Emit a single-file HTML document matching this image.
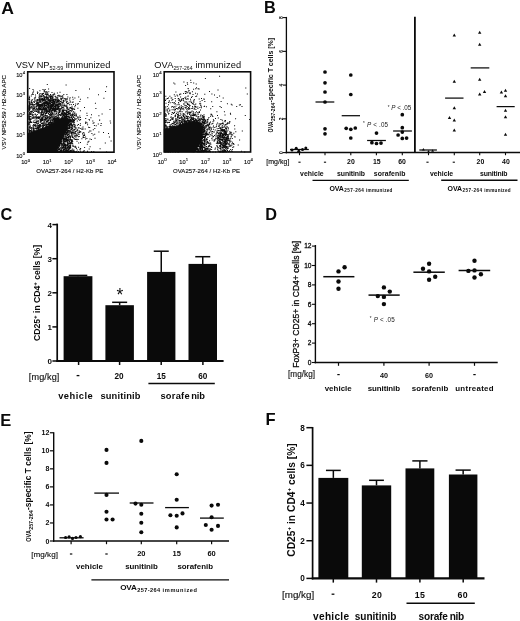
<!DOCTYPE html>
<html><head><meta charset="utf-8"><title>Figure</title>
<style>
html,body{margin:0;padding:0;background:#fff;}
body{width:520px;height:621px;overflow:hidden;font-family:"Liberation Sans",sans-serif;}
svg{display:block;filter:blur(0.35px);}
svg text{font-family:"Liberation Sans",sans-serif;}
.th{stroke:#0a0a0a;stroke-width:.12px;}
.th2{stroke:#141414;stroke-width:.15px;}
.th3{stroke:#0a0a0a;stroke-width:.28px;}
</style></head><body>
<svg width="520" height="621" viewBox="0 0 520 621">
<rect width="520" height="621" fill="#fff"/>
<text x="1.2" y="14.1" font-size="16.5" text-anchor="start" font-weight="bold" fill="#0a0a0a" textLength="12.7" lengthAdjust="spacingAndGlyphs">A</text>
<text x="264.0" y="12.5" font-size="16.3" text-anchor="start" font-weight="bold" fill="#0a0a0a" >B</text>
<text x="0.4" y="220.1" font-size="16.3" text-anchor="start" font-weight="bold" fill="#0a0a0a" >C</text>
<text x="265.3" y="219.5" font-size="16.3" text-anchor="start" font-weight="bold" fill="#0a0a0a" >D</text>
<text x="0.2" y="426" font-size="16.5" text-anchor="start" font-weight="bold" fill="#0a0a0a" >E</text>
<text x="265.6" y="425.4" font-size="16.5" text-anchor="start" font-weight="bold" fill="#0a0a0a" >F</text>
<defs><filter id="bl" x="-5%" y="-5%" width="110%" height="110%"><feGaussianBlur stdDeviation="0.35"/></filter></defs>
<g filter="url(#bl)"><path d="M27.7 133.5L29.8 132.5L31.0 132.4L31.2 131.2L33.0 131.8L33.6 130.2L35.4 131.3L37.6 129.7L38.5 129.7L39.7 129.2L41.6 128.6L42.4 128.6L43.6 128.1L45.9 127.8L46.0 127.2L48.2 127.1L49.3 125.8L50.0 125.5L51.0 124.0L53.0 123.0L54.1 122.2L54.4 122.2L55.2 121.5L56.4 120.4L58.4 119.5L58.3 118.7L61.1 118.8L62.2 117.8L62.7 117.8L64.4 116.8L66.2 118.4L67.8 118.4L67.2 119.7L68.2 122.2L67.8 123.5L67.1 124.8L67.8 126.1L67.0 127.7L66.4 128.1L65.7 130.3L66.0 132.0L64.9 131.7L65.1 133.4L63.9 135.1L63.8 136.3L62.7 136.6L61.7 139.1L61.6 140.5L61.6 141.0L60.5 142.1L60.9 142.5L59.5 144.7L58.4 146.6L58.1 147.3L57.9 148.2L57.8 149.3L56.9 151.2L57.0 152.2L55.7 152.2L54.4 152.2L53.0 152.2L51.7 152.2L50.4 152.2L49.0 152.2L47.7 152.2L46.4 152.2L45.0 152.2L43.7 152.2L42.4 152.2L41.0 152.2L39.7 152.2L38.4 152.2L37.0 152.2L35.7 152.2L34.4 152.2L33.0 152.2L31.7 152.2L30.4 152.2L29.0 152.2L27.7 152.2L27.7 150.9L27.7 149.5L27.7 148.2L27.7 146.9L27.7 145.5L27.7 144.2L27.7 142.9L27.7 141.5L27.7 140.2L27.7 138.8L27.7 137.5L27.7 136.2L27.7 134.8Z" fill="#0a0a0a" stroke="#0a0a0a" stroke-width="0.6" stroke-linejoin="round"/><path d="M40.8 132.5h1v1h-1zM41.2 138.6h1v1h-1zM32.8 141.4h1v1h-1zM57.1 126.4h1v1h-1zM56.2 128.1h1v1h-1zM48.6 131.8h1v1h-1zM28.9 136.9h1v1h-1zM49.9 128.8h1v1h-1zM28.2 150.6h1v1h-1zM33.3 143.1h1v1h-1zM47.5 133.9h1v1h-1zM50.1 137.4h1v1h-1zM47.5 130.6h1v1h-1zM36.0 125.4h1v1h-1zM50.5 123.3h1v1h-1zM36.5 143.8h1v1h-1zM39.8 137.6h1v1h-1zM51.4 130.1h1v1h-1zM38.6 144.6h1v1h-1zM37.7 128.5h1v1h-1zM34.3 137.3h1v1h-1zM48.9 144.2h1v1h-1zM44.5 125.0h1v1h-1zM28.3 147.6h1v1h-1zM42.6 141.8h1v1h-1zM49.8 133.1h1v1h-1zM28.4 136.1h1v1h-1zM51.8 124.6h1v1h-1zM61.0 125.2h1v1h-1zM45.3 144.3h1v1h-1zM51.2 136.7h1v1h-1zM38.5 146.9h1v1h-1zM32.4 143.9h1v1h-1zM59.2 144.1h1v1h-1zM28.5 140.6h1v1h-1zM61.0 123.6h1v1h-1zM28.6 151.2h1v1h-1zM48.1 138.9h1v1h-1zM30.6 133.3h1v1h-1zM57.0 128.4h1v1h-1zM46.8 130.6h1v1h-1zM62.8 122.5h1v1h-1zM50.0 128.4h1v1h-1zM29.3 133.2h1v1h-1zM55.2 126.4h1v1h-1zM28.3 149.7h1v1h-1zM53.9 144.6h1v1h-1zM41.7 128.3h1v1h-1zM28.3 129.5h1v1h-1zM50.4 133.5h1v1h-1zM47.7 128.6h1v1h-1zM45.3 125.9h1v1h-1zM36.0 141.5h1v1h-1zM56.2 129.7h1v1h-1zM33.4 132.3h1v1h-1zM61.3 131.2h1v1h-1zM28.9 143.0h1v1h-1zM42.1 138.1h1v1h-1zM60.6 135.9h1v1h-1zM58.8 138.4h1v1h-1zM34.5 134.3h1v1h-1zM57.3 123.0h1v1h-1zM48.0 132.3h1v1h-1zM45.7 130.0h1v1h-1zM41.8 133.9h1v1h-1zM50.7 132.3h1v1h-1zM52.9 127.0h1v1h-1zM67.7 122.7h1v1h-1zM38.8 140.1h1v1h-1zM43.7 128.2h1v1h-1zM39.9 133.9h1v1h-1zM65.7 145.3h1v1h-1zM30.5 138.9h1v1h-1zM48.6 131.3h1v1h-1zM38.8 132.3h1v1h-1zM47.2 137.7h1v1h-1zM72.7 120.3h1v1h-1zM37.3 138.6h1v1h-1zM41.2 136.7h1v1h-1zM28.9 151.5h1v1h-1zM55.8 138.9h1v1h-1zM43.1 128.2h1v1h-1zM54.0 119.6h1v1h-1zM28.6 146.2h1v1h-1zM39.8 132.1h1v1h-1zM56.8 149.9h1v1h-1zM56.8 140.6h1v1h-1zM52.0 143.0h1v1h-1zM46.0 125.2h1v1h-1zM42.1 134.4h1v1h-1zM53.3 130.1h1v1h-1zM42.8 124.0h1v1h-1zM56.3 132.1h1v1h-1zM76.5 130.1h1v1h-1zM54.7 132.6h1v1h-1zM45.5 129.1h1v1h-1zM46.5 129.2h1v1h-1zM28.7 150.7h1v1h-1zM51.2 139.3h1v1h-1zM31.7 151.3h1v1h-1zM58.9 123.2h1v1h-1zM61.4 134.9h1v1h-1zM43.9 143.7h1v1h-1zM53.0 119.3h1v1h-1zM33.3 127.8h1v1h-1zM55.6 131.5h1v1h-1zM29.1 134.3h1v1h-1zM42.7 140.1h1v1h-1zM48.6 130.0h1v1h-1zM61.7 135.4h1v1h-1zM57.4 118.2h1v1h-1zM61.1 129.3h1v1h-1zM35.1 131.1h1v1h-1zM45.2 133.6h1v1h-1zM60.8 130.0h1v1h-1zM28.8 149.5h1v1h-1zM28.2 138.2h1v1h-1zM47.6 138.2h1v1h-1zM43.8 128.9h1v1h-1zM44.8 124.7h1v1h-1zM43.2 127.6h1v1h-1zM61.6 115.5h1v1h-1zM35.9 131.8h1v1h-1zM28.6 150.8h1v1h-1zM28.7 136.8h1v1h-1zM29.3 141.3h1v1h-1zM41.6 136.3h1v1h-1zM36.9 136.3h1v1h-1zM65.1 125.9h1v1h-1zM50.2 124.9h1v1h-1zM41.5 145.6h1v1h-1zM37.3 129.8h1v1h-1zM28.6 147.8h1v1h-1zM55.8 124.1h1v1h-1zM44.0 129.0h1v1h-1zM45.9 143.2h1v1h-1zM29.0 147.7h1v1h-1zM54.8 134.8h1v1h-1zM33.2 145.4h1v1h-1zM28.2 143.6h1v1h-1zM29.9 138.2h1v1h-1zM29.0 144.4h1v1h-1zM36.3 151.0h1v1h-1zM52.5 133.6h1v1h-1zM28.3 151.3h1v1h-1zM47.3 137.1h1v1h-1zM53.1 125.6h1v1h-1zM51.8 129.3h1v1h-1zM59.7 123.5h1v1h-1zM49.2 148.6h1v1h-1zM54.5 120.8h1v1h-1zM40.4 140.1h1v1h-1zM66.9 138.7h1v1h-1zM49.4 114.5h1v1h-1zM32.9 134.5h1v1h-1zM66.3 126.6h1v1h-1zM50.5 125.5h1v1h-1zM33.1 140.3h1v1h-1zM47.4 127.4h1v1h-1zM43.5 136.8h1v1h-1zM31.8 142.9h1v1h-1zM54.5 129.9h1v1h-1zM33.8 145.7h1v1h-1zM75.5 113.2h1v1h-1zM51.4 151.5h1v1h-1zM51.3 128.4h1v1h-1zM63.9 123.5h1v1h-1zM43.1 131.5h1v1h-1zM29.2 137.0h1v1h-1zM47.7 138.8h1v1h-1zM59.6 114.9h1v1h-1zM28.5 147.1h1v1h-1zM47.3 132.3h1v1h-1zM39.2 144.5h1v1h-1zM69.0 116.7h1v1h-1zM29.7 151.2h1v1h-1zM64.1 119.2h1v1h-1zM65.5 119.9h1v1h-1zM33.5 137.5h1v1h-1zM28.8 151.5h1v1h-1zM43.2 131.5h1v1h-1zM35.2 139.7h1v1h-1zM49.3 130.0h1v1h-1zM51.5 130.4h1v1h-1zM40.0 130.8h1v1h-1zM44.5 141.1h1v1h-1zM36.5 138.2h1v1h-1zM42.6 134.5h1v1h-1zM43.9 133.8h1v1h-1zM42.3 145.3h1v1h-1zM48.9 125.1h1v1h-1zM49.0 134.4h1v1h-1zM49.2 140.2h1v1h-1zM28.6 144.1h1v1h-1zM32.8 134.2h1v1h-1zM31.0 151.1h1v1h-1zM31.5 128.4h1v1h-1zM39.4 147.4h1v1h-1zM34.8 135.0h1v1h-1zM49.8 131.3h1v1h-1zM61.5 122.4h1v1h-1zM43.6 130.7h1v1h-1zM63.5 119.5h1v1h-1zM56.0 138.2h1v1h-1zM42.1 130.3h1v1h-1zM40.4 128.5h1v1h-1zM51.0 125.3h1v1h-1zM41.4 116.9h1v1h-1zM58.6 130.6h1v1h-1zM45.0 115.1h1v1h-1zM39.8 130.2h1v1h-1zM55.5 130.2h1v1h-1zM30.0 139.5h1v1h-1zM48.1 124.8h1v1h-1zM53.2 131.0h1v1h-1zM54.0 126.8h1v1h-1zM46.3 133.7h1v1h-1zM41.0 131.1h1v1h-1zM31.4 145.1h1v1h-1zM43.9 146.1h1v1h-1zM38.7 151.3h1v1h-1zM35.8 134.2h1v1h-1zM50.6 132.7h1v1h-1zM41.1 147.0h1v1h-1zM65.6 122.1h1v1h-1zM56.9 136.3h1v1h-1zM41.7 149.8h1v1h-1zM53.1 124.2h1v1h-1zM28.6 144.9h1v1h-1zM51.4 145.3h1v1h-1zM29.3 151.0h1v1h-1zM36.4 148.8h1v1h-1zM44.3 133.1h1v1h-1zM51.4 126.7h1v1h-1zM61.7 118.8h1v1h-1zM28.3 145.5h1v1h-1zM31.3 148.5h1v1h-1zM42.9 135.5h1v1h-1zM49.7 144.7h1v1h-1zM29.2 141.4h1v1h-1zM41.5 138.5h1v1h-1zM43.1 141.2h1v1h-1zM52.2 129.0h1v1h-1zM42.8 140.6h1v1h-1zM41.8 150.6h1v1h-1zM32.2 139.7h1v1h-1zM28.6 141.1h1v1h-1zM45.6 144.8h1v1h-1zM40.9 138.7h1v1h-1zM49.3 128.2h1v1h-1zM43.5 141.7h1v1h-1zM42.2 136.3h1v1h-1zM52.6 129.2h1v1h-1zM35.3 148.9h1v1h-1zM39.5 142.6h1v1h-1zM30.7 141.5h1v1h-1zM38.1 136.8h1v1h-1zM50.1 135.6h1v1h-1zM71.5 126.0h1v1h-1zM57.0 128.7h1v1h-1zM57.1 147.5h1v1h-1zM35.0 137.0h1v1h-1zM51.0 114.5h1v1h-1zM47.7 123.8h1v1h-1zM53.0 124.1h1v1h-1zM49.9 133.8h1v1h-1zM49.9 140.7h1v1h-1zM57.9 136.9h1v1h-1zM46.8 117.9h1v1h-1zM41.2 136.1h1v1h-1zM57.7 129.1h1v1h-1zM34.3 137.2h1v1h-1zM50.8 126.9h1v1h-1zM34.7 125.7h1v1h-1zM63.7 126.7h1v1h-1zM47.1 137.0h1v1h-1zM60.7 133.4h1v1h-1zM51.9 135.4h1v1h-1zM35.6 133.1h1v1h-1zM59.7 128.6h1v1h-1zM35.8 132.4h1v1h-1zM43.3 133.0h1v1h-1zM62.0 119.0h1v1h-1zM37.7 120.5h1v1h-1zM43.9 129.2h1v1h-1zM36.2 138.7h1v1h-1zM28.7 130.3h1v1h-1zM60.1 137.5h1v1h-1zM28.6 150.8h1v1h-1zM57.8 132.7h1v1h-1zM43.2 137.8h1v1h-1zM42.4 143.9h1v1h-1zM44.2 145.9h1v1h-1zM43.0 133.1h1v1h-1zM49.4 134.5h1v1h-1zM33.2 138.4h1v1h-1zM38.1 125.7h1v1h-1zM53.0 132.2h1v1h-1zM38.3 142.8h1v1h-1zM32.8 142.4h1v1h-1zM47.4 129.8h1v1h-1zM50.6 116.4h1v1h-1zM35.5 138.5h1v1h-1zM77.0 135.3h1v1h-1zM37.7 136.4h1v1h-1zM45.7 131.3h1v1h-1zM41.0 133.5h1v1h-1zM44.5 129.0h1v1h-1zM28.6 151.2h1v1h-1zM43.9 142.9h1v1h-1zM31.5 135.6h1v1h-1zM36.2 133.6h1v1h-1zM52.7 129.1h1v1h-1zM49.9 133.4h1v1h-1zM29.0 142.4h1v1h-1zM49.3 136.9h1v1h-1zM42.7 130.0h1v1h-1zM33.5 134.6h1v1h-1zM66.0 130.0h1v1h-1zM45.6 135.5h1v1h-1zM62.2 125.1h1v1h-1zM54.5 135.9h1v1h-1zM43.7 135.3h1v1h-1zM28.4 133.1h1v1h-1zM54.6 143.9h1v1h-1zM52.7 132.4h1v1h-1zM49.2 130.1h1v1h-1zM28.8 144.2h1v1h-1zM61.6 132.0h1v1h-1zM31.7 150.5h1v1h-1zM29.4 138.7h1v1h-1zM64.0 123.5h1v1h-1zM46.8 117.0h1v1h-1zM37.7 142.8h1v1h-1zM50.2 128.3h1v1h-1zM31.8 149.0h1v1h-1zM47.3 131.8h1v1h-1zM28.4 143.1h1v1h-1zM37.4 134.3h1v1h-1zM42.5 136.3h1v1h-1zM39.7 128.9h1v1h-1zM60.4 131.0h1v1h-1zM53.9 136.6h1v1h-1zM44.7 129.1h1v1h-1zM61.8 130.5h1v1h-1zM43.0 134.0h1v1h-1zM28.5 142.4h1v1h-1zM35.9 135.7h1v1h-1zM30.5 150.7h1v1h-1zM44.3 133.0h1v1h-1zM37.4 131.1h1v1h-1zM40.6 141.0h1v1h-1zM49.6 144.6h1v1h-1zM35.8 138.6h1v1h-1zM54.0 132.1h1v1h-1zM47.5 138.5h1v1h-1zM47.5 121.0h1v1h-1zM35.7 120.7h1v1h-1zM36.2 138.2h1v1h-1zM45.9 126.5h1v1h-1zM29.2 151.4h1v1h-1zM51.1 126.1h1v1h-1zM51.3 112.1h1v1h-1zM46.3 132.2h1v1h-1zM54.9 127.7h1v1h-1zM63.6 136.2h1v1h-1zM39.4 150.6h1v1h-1zM53.5 133.9h1v1h-1zM54.8 114.2h1v1h-1zM43.8 137.1h1v1h-1zM38.0 143.9h1v1h-1zM36.4 133.4h1v1h-1zM44.3 134.4h1v1h-1zM41.8 129.1h1v1h-1zM49.7 133.7h1v1h-1zM51.8 133.0h1v1h-1zM30.2 129.9h1v1h-1zM49.4 140.0h1v1h-1zM56.7 127.1h1v1h-1zM28.9 130.7h1v1h-1zM47.8 126.7h1v1h-1zM46.2 135.3h1v1h-1zM28.6 135.5h1v1h-1zM44.2 137.1h1v1h-1zM48.0 132.8h1v1h-1zM51.9 134.6h1v1h-1zM43.4 151.5h1v1h-1zM38.9 132.1h1v1h-1zM59.7 131.2h1v1h-1zM42.4 123.8h1v1h-1zM40.0 131.2h1v1h-1zM63.8 126.5h1v1h-1zM58.4 134.4h1v1h-1zM46.3 134.7h1v1h-1zM45.2 126.0h1v1h-1zM72.2 128.3h1v1h-1zM37.1 134.2h1v1h-1zM31.4 136.6h1v1h-1zM50.7 134.4h1v1h-1zM50.2 144.2h1v1h-1zM52.9 143.0h1v1h-1zM35.6 142.8h1v1h-1zM39.1 130.6h1v1h-1zM44.9 137.7h1v1h-1zM50.3 120.5h1v1h-1zM44.0 132.3h1v1h-1zM58.6 126.9h1v1h-1zM28.6 122.7h1v1h-1zM70.1 139.1h1v1h-1zM43.4 132.2h1v1h-1zM55.3 125.3h1v1h-1zM40.7 144.4h1v1h-1zM45.1 126.8h1v1h-1zM31.0 148.3h1v1h-1zM43.6 149.9h1v1h-1zM40.8 139.7h1v1h-1zM49.2 138.2h1v1h-1zM33.4 142.5h1v1h-1zM43.3 140.4h1v1h-1zM44.0 129.4h1v1h-1zM57.9 116.3h1v1h-1zM34.6 142.2h1v1h-1zM28.8 133.1h1v1h-1zM35.3 139.0h1v1h-1zM50.1 142.8h1v1h-1zM49.4 133.0h1v1h-1zM29.3 142.0h1v1h-1zM58.1 143.3h1v1h-1zM53.5 129.5h1v1h-1zM49.5 129.4h1v1h-1zM59.4 130.3h1v1h-1zM54.2 133.9h1v1h-1zM52.5 137.6h1v1h-1zM42.6 122.6h1v1h-1zM49.2 134.1h1v1h-1zM30.3 146.8h1v1h-1zM46.2 127.1h1v1h-1zM48.9 129.0h1v1h-1zM43.4 125.1h1v1h-1zM39.2 141.2h1v1h-1zM54.4 130.2h1v1h-1zM40.6 140.9h1v1h-1zM40.8 131.7h1v1h-1zM48.1 142.5h1v1h-1zM48.9 131.6h1v1h-1zM32.0 134.3h1v1h-1zM40.6 139.0h1v1h-1zM53.3 121.2h1v1h-1zM35.7 135.2h1v1h-1zM33.5 122.0h1v1h-1zM38.0 128.5h1v1h-1zM36.2 132.2h1v1h-1zM70.2 143.3h1v1h-1zM38.7 133.5h1v1h-1zM42.8 140.6h1v1h-1zM69.4 123.8h1v1h-1zM29.0 136.8h1v1h-1zM29.2 135.0h1v1h-1zM37.0 136.9h1v1h-1zM58.8 128.0h1v1h-1zM28.9 151.1h1v1h-1zM57.9 123.6h1v1h-1zM34.2 132.7h1v1h-1zM49.8 127.8h1v1h-1zM28.3 148.6h1v1h-1zM54.6 125.1h1v1h-1zM54.3 149.3h1v1h-1zM45.9 130.6h1v1h-1zM74.2 129.6h1v1h-1zM40.0 136.5h1v1h-1zM54.4 134.1h1v1h-1zM57.5 135.4h1v1h-1zM47.0 137.8h1v1h-1zM45.8 139.5h1v1h-1zM29.2 134.8h1v1h-1zM47.5 137.8h1v1h-1zM46.3 126.6h1v1h-1zM32.3 140.8h1v1h-1zM50.3 128.5h1v1h-1zM39.9 151.0h1v1h-1zM58.6 126.5h1v1h-1zM44.0 137.2h1v1h-1zM47.0 137.0h1v1h-1zM31.7 145.8h1v1h-1zM36.8 142.7h1v1h-1zM30.1 136.1h1v1h-1zM28.3 136.6h1v1h-1zM31.8 137.5h1v1h-1zM60.2 126.7h1v1h-1zM35.2 138.4h1v1h-1zM45.6 147.5h1v1h-1zM36.7 136.9h1v1h-1zM38.3 136.8h1v1h-1zM52.6 125.7h1v1h-1zM54.6 126.2h1v1h-1zM40.5 136.7h1v1h-1zM40.7 138.8h1v1h-1zM41.7 149.0h1v1h-1zM39.9 137.0h1v1h-1zM32.3 140.1h1v1h-1zM50.0 133.8h1v1h-1zM68.5 144.5h1v1h-1zM41.4 149.9h1v1h-1zM55.5 110.2h1v1h-1zM29.0 146.6h1v1h-1zM50.0 134.8h1v1h-1zM50.4 149.3h1v1h-1zM54.0 128.1h1v1h-1zM44.2 139.4h1v1h-1zM51.5 135.6h1v1h-1zM46.5 137.9h1v1h-1zM28.5 146.5h1v1h-1zM46.3 128.4h1v1h-1zM33.5 139.7h1v1h-1zM51.2 130.9h1v1h-1zM58.6 113.9h1v1h-1zM33.1 150.9h1v1h-1zM54.0 119.3h1v1h-1zM54.8 124.4h1v1h-1zM36.5 143.6h1v1h-1zM54.4 137.6h1v1h-1zM28.8 151.7h1v1h-1zM73.5 108.2h1v1h-1zM35.7 144.0h1v1h-1zM46.6 139.6h1v1h-1zM59.4 129.2h1v1h-1zM31.0 130.6h1v1h-1zM37.0 136.3h1v1h-1zM43.7 137.6h1v1h-1zM47.7 138.7h1v1h-1zM28.5 150.6h1v1h-1zM28.9 147.1h1v1h-1zM43.6 134.8h1v1h-1zM50.5 131.4h1v1h-1zM34.5 144.4h1v1h-1zM29.1 146.9h1v1h-1zM49.6 128.7h1v1h-1zM42.4 137.0h1v1h-1zM55.0 130.3h1v1h-1zM52.6 127.0h1v1h-1zM46.4 124.2h1v1h-1zM37.1 140.7h1v1h-1zM34.3 145.2h1v1h-1zM62.3 114.1h1v1h-1zM44.2 130.7h1v1h-1zM57.8 123.2h1v1h-1zM58.2 138.7h1v1h-1zM36.3 134.9h1v1h-1zM60.9 127.2h1v1h-1zM33.7 142.1h1v1h-1zM36.0 144.9h1v1h-1zM61.7 132.4h1v1h-1zM44.1 118.7h1v1h-1zM57.9 126.7h1v1h-1zM36.6 135.1h1v1h-1zM63.1 122.3h1v1h-1zM58.9 128.1h1v1h-1zM50.0 134.1h1v1h-1zM48.9 123.2h1v1h-1zM29.0 142.7h1v1h-1zM46.7 138.2h1v1h-1zM40.2 130.7h1v1h-1zM67.6 120.4h1v1h-1zM47.8 145.2h1v1h-1zM66.8 124.9h1v1h-1zM43.5 143.7h1v1h-1zM43.2 143.7h1v1h-1zM44.7 131.2h1v1h-1zM44.3 132.8h1v1h-1zM33.8 128.6h1v1h-1zM36.1 150.8h1v1h-1zM41.7 141.8h1v1h-1zM31.9 142.8h1v1h-1zM47.3 142.6h1v1h-1zM42.2 125.0h1v1h-1zM52.0 132.9h1v1h-1zM45.4 135.4h1v1h-1zM43.3 129.8h1v1h-1zM42.8 151.0h1v1h-1zM43.6 141.9h1v1h-1zM51.6 136.5h1v1h-1zM45.6 117.9h1v1h-1zM31.5 148.8h1v1h-1zM28.6 150.6h1v1h-1zM29.3 141.7h1v1h-1zM36.3 151.0h1v1h-1zM28.7 137.8h1v1h-1zM34.7 141.7h1v1h-1zM47.8 123.2h1v1h-1zM66.9 117.7h1v1h-1zM45.6 133.0h1v1h-1zM65.3 115.4h1v1h-1zM40.2 133.2h1v1h-1zM47.3 133.3h1v1h-1zM37.9 147.6h1v1h-1zM37.5 149.4h1v1h-1zM58.4 125.0h1v1h-1zM29.6 130.6h1v1h-1zM54.5 145.1h1v1h-1zM65.7 119.8h1v1h-1zM68.4 134.1h1v1h-1zM50.2 129.3h1v1h-1zM46.3 132.8h1v1h-1zM56.4 141.2h1v1h-1zM29.1 151.2h1v1h-1zM37.3 142.5h1v1h-1zM48.2 131.3h1v1h-1zM44.3 140.1h1v1h-1zM38.6 130.1h1v1h-1zM52.9 130.6h1v1h-1zM40.1 125.0h1v1h-1zM36.8 133.2h1v1h-1zM57.6 131.4h1v1h-1zM53.7 139.4h1v1h-1zM55.9 128.6h1v1h-1zM28.2 138.0h1v1h-1zM33.3 129.9h1v1h-1zM35.8 139.7h1v1h-1zM47.2 136.2h1v1h-1zM47.0 138.0h1v1h-1zM51.9 131.7h1v1h-1zM46.4 150.7h1v1h-1zM57.7 129.1h1v1h-1zM29.2 143.3h1v1h-1zM49.4 124.7h1v1h-1zM31.0 128.8h1v1h-1zM42.0 117.8h1v1h-1zM42.1 130.7h1v1h-1zM39.5 145.4h1v1h-1zM56.9 122.8h1v1h-1zM62.1 121.0h1v1h-1zM37.1 150.5h1v1h-1zM36.2 143.5h1v1h-1zM34.2 134.8h1v1h-1zM47.8 135.5h1v1h-1zM45.9 135.4h1v1h-1zM46.4 128.4h1v1h-1zM55.3 135.5h1v1h-1zM28.9 131.8h1v1h-1zM45.2 126.2h1v1h-1zM28.7 145.8h1v1h-1zM44.2 145.9h1v1h-1zM37.8 132.2h1v1h-1zM56.7 117.7h1v1h-1zM33.6 150.0h1v1h-1zM50.1 125.4h1v1h-1zM46.2 144.0h1v1h-1zM53.2 125.2h1v1h-1zM50.4 136.0h1v1h-1zM47.5 127.6h1v1h-1zM37.3 150.8h1v1h-1zM47.8 129.8h1v1h-1zM44.0 128.3h1v1h-1zM36.9 138.7h1v1h-1zM40.3 132.3h1v1h-1zM62.8 129.1h1v1h-1zM68.3 113.3h1v1h-1zM53.3 126.7h1v1h-1zM64.9 127.7h1v1h-1zM42.6 143.7h1v1h-1zM49.5 122.6h1v1h-1zM50.2 129.3h1v1h-1zM41.5 134.8h1v1h-1zM28.2 134.3h1v1h-1zM39.0 145.5h1v1h-1zM35.0 145.1h1v1h-1zM54.0 122.9h1v1h-1zM28.6 134.9h1v1h-1zM54.4 135.1h1v1h-1zM28.5 148.1h1v1h-1zM36.4 135.7h1v1h-1zM39.6 151.1h1v1h-1zM46.7 145.5h1v1h-1zM54.6 139.7h1v1h-1zM35.7 145.0h1v1h-1zM37.4 128.0h1v1h-1zM54.0 126.3h1v1h-1zM47.7 145.2h1v1h-1zM37.7 141.9h1v1h-1zM32.3 136.1h1v1h-1zM35.1 144.2h1v1h-1zM31.5 151.4h1v1h-1zM50.9 122.1h1v1h-1zM46.0 141.6h1v1h-1zM28.9 147.3h1v1h-1zM58.3 126.8h1v1h-1zM54.9 119.3h1v1h-1zM57.3 132.8h1v1h-1zM56.4 124.0h1v1h-1zM29.3 145.8h1v1h-1zM28.7 143.0h1v1h-1zM50.7 140.3h1v1h-1zM28.3 135.5h1v1h-1zM48.4 122.1h1v1h-1zM28.2 133.7h1v1h-1zM68.5 109.6h1v1h-1zM41.4 134.1h1v1h-1zM42.1 128.3h1v1h-1zM56.2 129.3h1v1h-1zM28.1 136.3h1v1h-1zM38.3 132.7h1v1h-1zM47.0 121.5h1v1h-1zM57.4 132.9h1v1h-1zM48.0 120.1h1v1h-1zM37.5 134.5h1v1h-1zM58.0 119.7h1v1h-1zM50.0 142.5h1v1h-1zM28.9 139.5h1v1h-1zM48.5 113.9h1v1h-1zM33.7 130.8h1v1h-1zM53.0 143.9h1v1h-1zM34.2 137.9h1v1h-1zM38.0 138.7h1v1h-1zM49.5 138.9h1v1h-1zM49.4 137.6h1v1h-1zM37.4 133.8h1v1h-1zM37.1 135.8h1v1h-1zM62.9 127.0h1v1h-1zM42.1 130.3h1v1h-1zM39.5 128.8h1v1h-1zM28.7 136.8h1v1h-1zM37.8 143.7h1v1h-1zM64.9 132.7h1v1h-1zM64.7 121.4h1v1h-1zM61.1 135.3h1v1h-1zM58.1 118.1h1v1h-1zM42.5 136.7h1v1h-1zM73.0 121.6h1v1h-1zM38.9 142.0h1v1h-1zM49.2 130.4h1v1h-1zM46.0 121.2h1v1h-1zM40.0 133.2h1v1h-1zM61.2 135.4h1v1h-1zM56.2 116.1h1v1h-1zM29.2 150.1h1v1h-1zM31.6 151.2h1v1h-1zM49.3 146.9h1v1h-1zM49.8 121.7h1v1h-1zM28.7 145.5h1v1h-1zM28.2 138.8h1v1h-1zM35.1 140.8h1v1h-1zM44.5 130.7h1v1h-1zM39.8 136.7h1v1h-1zM37.4 137.0h1v1h-1zM30.0 140.5h1v1h-1zM28.3 148.4h1v1h-1zM66.6 125.0h1v1h-1zM28.9 139.4h1v1h-1zM32.3 151.8h1v1h-1zM35.1 133.2h1v1h-1zM48.4 133.9h1v1h-1zM32.9 147.9h1v1h-1zM59.9 126.6h1v1h-1zM32.6 150.7h1v1h-1zM28.2 123.2h1v1h-1zM30.2 141.4h1v1h-1zM46.4 135.3h1v1h-1zM40.6 146.9h1v1h-1zM31.4 127.6h1v1h-1zM34.9 132.5h1v1h-1zM28.5 145.6h1v1h-1zM47.0 126.0h1v1h-1zM30.6 136.2h1v1h-1zM48.5 138.8h1v1h-1zM49.5 139.5h1v1h-1zM34.4 139.2h1v1h-1zM28.7 149.4h1v1h-1zM32.0 151.1h1v1h-1zM38.8 131.5h1v1h-1zM39.1 127.6h1v1h-1zM30.1 150.8h1v1h-1zM62.3 124.4h1v1h-1zM55.1 136.7h1v1h-1zM53.4 129.2h1v1h-1zM51.6 131.7h1v1h-1zM58.2 134.0h1v1h-1zM32.4 151.1h1v1h-1zM57.7 134.9h1v1h-1zM31.5 147.4h1v1h-1zM38.6 146.9h1v1h-1zM40.4 141.3h1v1h-1zM37.3 145.1h1v1h-1zM44.3 138.4h1v1h-1zM45.2 132.7h1v1h-1zM47.9 150.0h1v1h-1zM37.5 143.8h1v1h-1zM53.1 143.2h1v1h-1zM35.4 140.9h1v1h-1zM39.9 129.3h1v1h-1zM38.6 130.0h1v1h-1zM28.9 151.5h1v1h-1zM58.3 125.8h1v1h-1zM49.7 131.8h1v1h-1zM49.6 141.9h1v1h-1zM55.1 134.4h1v1h-1zM55.6 129.5h1v1h-1zM29.0 151.0h1v1h-1zM57.3 130.5h1v1h-1zM39.2 135.2h1v1h-1zM38.8 141.3h1v1h-1zM45.1 133.5h1v1h-1zM61.9 127.2h1v1h-1zM66.2 112.1h1v1h-1zM64.3 118.6h1v1h-1zM45.4 133.4h1v1h-1zM42.2 141.3h1v1h-1zM43.1 140.3h1v1h-1zM63.3 122.9h1v1h-1zM38.6 150.6h1v1h-1zM43.2 138.5h1v1h-1zM31.0 149.1h1v1h-1zM28.3 142.0h1v1h-1zM43.1 115.9h1v1h-1zM43.5 136.4h1v1h-1zM61.0 126.9h1v1h-1zM45.9 137.1h1v1h-1zM36.7 126.8h1v1h-1zM55.8 117.2h1v1h-1zM39.7 136.6h1v1h-1zM33.4 132.2h1v1h-1zM28.5 137.8h1v1h-1zM56.9 119.0h1v1h-1zM32.7 131.6h1v1h-1zM35.4 144.4h1v1h-1zM28.2 133.0h1v1h-1zM63.4 131.4h1v1h-1zM34.9 141.5h1v1h-1zM73.6 115.1h1v1h-1zM37.4 151.4h1v1h-1zM35.9 129.5h1v1h-1zM66.0 127.8h1v1h-1zM35.7 142.4h1v1h-1zM28.3 137.6h1v1h-1zM31.0 132.5h1v1h-1zM28.5 151.5h1v1h-1zM47.3 139.4h1v1h-1zM53.2 131.2h1v1h-1zM29.9 136.3h1v1h-1zM53.9 145.4h1v1h-1zM65.6 122.3h1v1h-1zM52.9 145.4h1v1h-1zM35.3 141.3h1v1h-1zM56.7 140.8h1v1h-1zM33.4 151.8h1v1h-1zM41.0 133.7h1v1h-1zM29.2 148.0h1v1h-1zM49.9 120.6h1v1h-1zM51.8 134.1h1v1h-1zM29.9 148.0h1v1h-1zM36.0 137.3h1v1h-1zM43.3 122.8h1v1h-1zM47.3 141.8h1v1h-1zM62.2 120.3h1v1h-1zM45.1 140.1h1v1h-1zM28.5 150.9h1v1h-1zM54.7 136.6h1v1h-1zM28.2 140.2h1v1h-1zM46.8 129.3h1v1h-1zM51.7 121.2h1v1h-1zM33.9 131.9h1v1h-1zM32.2 134.8h1v1h-1zM46.0 132.4h1v1h-1zM55.4 130.4h1v1h-1zM57.1 123.0h1v1h-1zM45.5 138.7h1v1h-1zM34.9 142.8h1v1h-1zM41.5 136.3h1v1h-1zM79.3 115.5h1v1h-1zM53.0 137.8h1v1h-1zM35.5 141.1h1v1h-1zM46.2 142.0h1v1h-1zM63.0 131.4h1v1h-1zM56.7 147.4h1v1h-1zM43.8 133.1h1v1h-1zM46.2 129.6h1v1h-1zM47.2 132.5h1v1h-1zM29.2 149.9h1v1h-1zM29.2 142.0h1v1h-1zM47.5 135.1h1v1h-1zM34.1 143.6h1v1h-1zM65.8 112.9h1v1h-1zM43.2 125.7h1v1h-1zM28.2 151.1h1v1h-1zM38.1 144.1h1v1h-1zM37.2 136.5h1v1h-1zM79.8 125.1h1v1h-1zM44.5 132.8h1v1h-1zM43.5 128.3h1v1h-1zM64.9 135.7h1v1h-1zM45.8 136.3h1v1h-1zM48.1 144.9h1v1h-1zM29.2 151.0h1v1h-1zM50.1 131.1h1v1h-1zM44.8 151.1h1v1h-1zM39.4 142.7h1v1h-1zM28.7 149.1h1v1h-1zM52.2 127.5h1v1h-1zM43.6 131.3h1v1h-1zM36.7 137.6h1v1h-1zM44.4 130.7h1v1h-1zM43.1 136.5h1v1h-1zM42.3 140.7h1v1h-1zM70.4 120.1h1v1h-1zM49.0 115.7h1v1h-1zM60.5 139.9h1v1h-1zM52.1 125.3h1v1h-1zM66.2 115.8h1v1h-1zM53.0 140.2h1v1h-1zM33.5 137.4h1v1h-1zM49.9 140.3h1v1h-1zM39.3 140.1h1v1h-1zM44.6 132.3h1v1h-1zM40.5 145.9h1v1h-1zM58.6 116.9h1v1h-1zM42.6 127.9h1v1h-1zM49.2 127.9h1v1h-1zM49.6 138.5h1v1h-1zM50.7 124.6h1v1h-1zM33.2 124.7h1v1h-1zM68.7 110.9h1v1h-1zM67.5 119.6h1v1h-1zM39.9 141.3h1v1h-1zM34.2 138.3h1v1h-1zM43.5 130.2h1v1h-1zM29.2 127.7h1v1h-1zM70.9 124.0h1v1h-1zM51.9 128.2h1v1h-1zM47.1 135.3h1v1h-1zM42.4 142.0h1v1h-1zM46.0 134.4h1v1h-1zM47.7 140.0h1v1h-1zM44.4 134.6h1v1h-1zM51.1 140.1h1v1h-1zM48.9 125.6h1v1h-1zM51.0 134.9h1v1h-1zM38.1 139.3h1v1h-1zM52.5 119.8h1v1h-1zM42.0 140.8h1v1h-1zM48.3 131.7h1v1h-1zM33.1 145.2h1v1h-1zM42.7 130.5h1v1h-1zM29.7 148.7h1v1h-1zM49.8 141.9h1v1h-1zM45.2 131.9h1v1h-1zM42.6 143.4h1v1h-1zM43.2 137.9h1v1h-1zM47.9 139.8h1v1h-1zM56.8 142.3h1v1h-1zM41.8 135.9h1v1h-1zM55.3 134.9h1v1h-1zM50.4 136.7h1v1h-1zM52.6 118.3h1v1h-1zM39.1 133.8h1v1h-1zM32.9 132.4h1v1h-1zM58.2 128.8h1v1h-1zM30.4 137.7h1v1h-1zM57.5 121.2h1v1h-1zM53.5 144.9h1v1h-1zM35.8 127.8h1v1h-1zM29.3 132.7h1v1h-1zM66.2 120.0h1v1h-1zM57.2 132.1h1v1h-1zM29.3 142.0h1v1h-1zM41.5 136.5h1v1h-1zM52.1 132.7h1v1h-1zM46.2 131.0h1v1h-1zM43.8 121.2h1v1h-1zM49.1 132.3h1v1h-1zM41.4 140.9h1v1h-1zM59.8 127.3h1v1h-1zM31.1 144.7h1v1h-1zM42.3 139.2h1v1h-1zM56.7 138.5h1v1h-1zM49.7 131.6h1v1h-1zM29.9 140.6h1v1h-1zM42.8 131.8h1v1h-1zM38.5 135.1h1v1h-1zM28.8 151.6h1v1h-1zM53.2 123.3h1v1h-1zM43.7 139.7h1v1h-1zM56.7 145.5h1v1h-1zM34.4 134.0h1v1h-1zM51.6 139.7h1v1h-1zM28.6 133.5h1v1h-1zM45.7 141.1h1v1h-1zM44.5 128.0h1v1h-1zM28.8 139.6h1v1h-1zM52.7 147.2h1v1h-1zM53.0 144.7h1v1h-1zM57.4 126.4h1v1h-1zM70.6 128.5h1v1h-1zM43.9 127.2h1v1h-1zM36.3 143.6h1v1h-1zM39.5 137.5h1v1h-1zM31.0 136.8h1v1h-1zM50.3 131.9h1v1h-1zM64.1 129.1h1v1h-1zM59.4 132.7h1v1h-1zM52.8 146.0h1v1h-1zM46.2 135.5h1v1h-1zM38.0 142.2h1v1h-1zM39.8 142.3h1v1h-1zM28.7 150.5h1v1h-1zM37.4 141.8h1v1h-1zM31.3 141.4h1v1h-1zM53.2 133.1h1v1h-1zM38.0 127.3h1v1h-1zM55.5 123.3h1v1h-1zM57.6 131.8h1v1h-1zM42.3 127.3h1v1h-1zM37.3 138.8h1v1h-1zM48.4 130.4h1v1h-1zM40.6 129.1h1v1h-1zM41.8 130.5h1v1h-1zM56.6 124.8h1v1h-1zM52.6 140.2h1v1h-1zM28.3 146.3h1v1h-1zM49.5 121.4h1v1h-1zM29.4 138.9h1v1h-1zM33.7 144.9h1v1h-1zM40.6 131.3h1v1h-1zM46.4 125.1h1v1h-1zM32.2 133.3h1v1h-1zM54.9 130.0h1v1h-1zM49.5 137.0h1v1h-1zM30.9 143.6h1v1h-1zM36.3 116.5h1v1h-1zM38.1 125.1h1v1h-1zM46.3 131.8h1v1h-1zM52.7 137.3h1v1h-1zM54.8 127.7h1v1h-1zM28.4 138.1h1v1h-1zM50.4 128.9h1v1h-1zM62.7 130.4h1v1h-1zM50.0 126.9h1v1h-1zM33.2 130.5h1v1h-1zM29.0 150.8h1v1h-1zM50.1 140.7h1v1h-1zM42.5 148.1h1v1h-1zM44.7 143.3h1v1h-1zM47.9 145.0h1v1h-1zM49.2 134.9h1v1h-1zM44.6 135.3h1v1h-1zM45.4 144.4h1v1h-1zM29.0 147.6h1v1h-1zM32.8 143.2h1v1h-1zM48.9 148.0h1v1h-1zM34.8 143.5h1v1h-1zM31.3 137.9h1v1h-1zM42.2 142.0h1v1h-1zM32.2 133.9h1v1h-1zM36.1 134.0h1v1h-1zM49.2 147.2h1v1h-1zM31.0 140.5h1v1h-1zM47.9 127.5h1v1h-1zM53.4 123.3h1v1h-1zM39.4 138.6h1v1h-1zM53.1 134.5h1v1h-1zM56.4 141.9h1v1h-1zM51.6 133.2h1v1h-1zM28.1 137.5h1v1h-1zM47.6 133.4h1v1h-1zM31.1 144.0h1v1h-1zM61.8 133.8h1v1h-1zM28.7 150.9h1v1h-1zM29.6 142.1h1v1h-1zM39.2 144.0h1v1h-1zM33.9 131.4h1v1h-1zM28.3 127.5h1v1h-1zM37.4 146.1h1v1h-1zM53.2 126.9h1v1h-1zM31.5 134.6h1v1h-1zM28.8 151.2h1v1h-1zM57.2 131.4h1v1h-1zM28.4 137.7h1v1h-1zM54.8 130.7h1v1h-1zM29.0 146.7h1v1h-1zM48.8 127.2h1v1h-1zM65.9 127.8h1v1h-1zM38.2 137.8h1v1h-1zM58.2 136.2h1v1h-1zM59.4 149.4h1v1h-1zM53.3 136.3h1v1h-1zM49.3 127.6h1v1h-1zM29.8 141.7h1v1h-1zM46.7 129.5h1v1h-1zM32.8 147.2h1v1h-1zM28.8 125.5h1v1h-1zM41.6 137.8h1v1h-1zM28.6 135.5h1v1h-1zM37.5 126.9h1v1h-1zM54.0 130.7h1v1h-1zM52.5 139.9h1v1h-1zM40.0 141.1h1v1h-1zM28.8 141.3h1v1h-1zM42.2 125.0h1v1h-1zM28.2 150.9h1v1h-1zM33.0 143.2h1v1h-1zM48.9 130.0h1v1h-1zM44.2 138.6h1v1h-1zM49.7 129.9h1v1h-1zM28.3 146.3h1v1h-1zM28.9 150.9h1v1h-1zM45.6 133.9h1v1h-1zM45.2 141.2h1v1h-1zM41.5 143.0h1v1h-1zM48.4 128.0h1v1h-1zM64.7 116.8h1v1h-1zM34.3 142.6h1v1h-1zM32.7 137.5h1v1h-1zM67.4 119.9h1v1h-1zM28.8 150.9h1v1h-1zM28.5 137.7h1v1h-1zM43.9 132.8h1v1h-1zM65.0 132.5h1v1h-1zM33.8 124.5h1v1h-1zM47.9 139.3h1v1h-1zM28.3 150.6h1v1h-1zM29.1 146.8h1v1h-1zM44.4 127.4h1v1h-1zM42.2 141.0h1v1h-1zM35.1 124.4h1v1h-1zM29.3 142.6h1v1h-1zM44.2 130.3h1v1h-1zM39.1 133.4h1v1h-1zM53.6 132.2h1v1h-1zM38.5 138.8h1v1h-1zM32.4 141.5h1v1h-1zM40.3 135.0h1v1h-1zM59.7 118.6h1v1h-1zM38.6 132.8h1v1h-1zM47.4 127.9h1v1h-1zM44.1 133.0h1v1h-1zM38.3 143.4h1v1h-1zM54.2 121.0h1v1h-1zM51.7 128.5h1v1h-1zM47.0 137.2h1v1h-1zM28.4 139.0h1v1h-1zM46.2 138.3h1v1h-1zM32.4 130.3h1v1h-1zM29.1 130.8h1v1h-1zM51.5 114.0h1v1h-1zM35.4 138.9h1v1h-1zM37.9 136.5h1v1h-1zM41.4 141.8h1v1h-1zM56.6 135.7h1v1h-1zM37.9 133.5h1v1h-1zM37.5 141.1h1v1h-1zM48.1 136.1h1v1h-1zM29.1 142.1h1v1h-1zM41.3 123.3h1v1h-1zM30.9 133.2h1v1h-1zM34.6 141.7h1v1h-1zM40.0 134.7h1v1h-1zM54.1 117.6h1v1h-1zM36.3 128.2h1v1h-1zM55.7 124.0h1v1h-1zM34.9 132.1h1v1h-1zM42.6 133.0h1v1h-1zM40.7 131.4h1v1h-1zM57.1 121.0h1v1h-1zM41.4 128.6h1v1h-1zM61.1 135.0h1v1h-1zM61.4 137.9h1v1h-1zM50.3 127.9h1v1h-1zM61.5 125.6h1v1h-1zM38.2 143.5h1v1h-1zM29.0 135.6h1v1h-1zM41.1 141.7h1v1h-1zM50.2 138.2h1v1h-1zM38.7 140.8h1v1h-1zM63.5 115.8h1v1h-1zM42.0 147.8h1v1h-1zM47.2 133.2h1v1h-1zM48.0 129.1h1v1h-1zM40.1 129.7h1v1h-1zM53.8 129.4h1v1h-1zM39.1 140.8h1v1h-1zM52.1 140.0h1v1h-1zM42.0 141.6h1v1h-1zM28.6 137.5h1v1h-1zM43.6 135.0h1v1h-1zM54.3 142.1h1v1h-1zM43.1 133.3h1v1h-1zM53.8 139.2h1v1h-1zM52.4 129.9h1v1h-1zM60.0 119.8h1v1h-1zM50.4 116.2h1v1h-1zM43.9 138.3h1v1h-1zM39.8 143.9h1v1h-1zM43.5 149.4h1v1h-1zM42.9 132.3h1v1h-1zM55.6 132.8h1v1h-1zM60.4 133.1h1v1h-1zM42.3 150.0h1v1h-1zM34.8 144.9h1v1h-1zM61.2 123.9h1v1h-1zM31.1 136.5h1v1h-1zM49.5 134.5h1v1h-1zM44.1 137.3h1v1h-1zM37.6 150.8h1v1h-1zM42.8 126.1h1v1h-1zM60.5 130.2h1v1h-1zM35.2 140.3h1v1h-1zM54.3 128.2h1v1h-1zM37.1 135.3h1v1h-1zM41.5 132.3h1v1h-1zM39.2 147.9h1v1h-1zM44.6 129.2h1v1h-1zM31.1 141.3h1v1h-1zM54.0 133.6h1v1h-1zM36.4 123.3h1v1h-1zM53.5 123.5h1v1h-1zM32.9 127.7h1v1h-1zM29.0 147.0h1v1h-1zM52.4 121.7h1v1h-1zM33.1 144.5h1v1h-1zM46.1 148.3h1v1h-1zM51.3 127.9h1v1h-1zM38.7 133.3h1v1h-1zM52.8 129.1h1v1h-1zM49.9 121.5h1v1h-1zM38.4 136.2h1v1h-1zM37.9 130.1h1v1h-1zM39.2 133.6h1v1h-1zM45.5 134.0h1v1h-1zM63.6 127.5h1v1h-1zM60.2 122.2h1v1h-1zM59.0 130.0h1v1h-1zM54.5 125.1h1v1h-1zM36.8 136.1h1v1h-1zM42.4 136.0h1v1h-1zM58.8 134.1h1v1h-1zM29.0 151.3h1v1h-1zM38.7 142.0h1v1h-1zM44.0 130.9h1v1h-1zM64.1 124.4h1v1h-1zM49.2 138.2h1v1h-1zM50.5 122.4h1v1h-1zM59.2 142.9h1v1h-1zM54.1 119.3h1v1h-1zM53.3 142.0h1v1h-1zM40.4 132.3h1v1h-1zM48.6 139.0h1v1h-1zM33.7 132.4h1v1h-1zM28.6 131.1h1v1h-1zM44.1 132.8h1v1h-1zM28.6 145.8h1v1h-1zM51.8 142.5h1v1h-1zM67.5 135.4h1v1h-1zM29.9 140.7h1v1h-1zM49.4 127.5h1v1h-1zM39.6 138.4h1v1h-1zM41.2 140.4h1v1h-1zM29.4 140.5h1v1h-1zM46.7 132.8h1v1h-1zM36.7 136.3h1v1h-1zM43.7 135.7h1v1h-1zM56.5 142.3h1v1h-1zM46.8 141.7h1v1h-1zM40.3 125.8h1v1h-1zM31.5 141.0h1v1h-1zM37.1 131.1h1v1h-1zM32.7 151.3h1v1h-1zM49.7 135.2h1v1h-1zM40.2 128.8h1v1h-1zM33.8 142.1h1v1h-1zM45.6 131.4h1v1h-1zM38.0 130.1h1v1h-1zM69.4 127.4h1v1h-1zM65.2 141.5h1v1h-1zM59.9 130.9h1v1h-1zM45.4 136.9h1v1h-1zM36.6 147.4h1v1h-1zM39.4 127.6h1v1h-1zM56.9 132.2h1v1h-1zM37.9 142.7h1v1h-1zM30.2 127.8h1v1h-1zM51.4 131.1h1v1h-1zM38.3 144.9h1v1h-1zM58.9 123.2h1v1h-1zM33.0 132.5h1v1h-1zM31.3 135.7h1v1h-1zM32.9 142.7h1v1h-1zM49.5 129.6h1v1h-1zM55.4 136.4h1v1h-1zM61.9 117.8h1v1h-1zM43.8 131.8h1v1h-1zM35.0 139.9h1v1h-1zM28.8 140.8h1v1h-1zM46.2 124.4h1v1h-1zM54.7 124.7h1v1h-1zM39.8 138.5h1v1h-1zM40.0 135.1h1v1h-1zM28.7 138.7h1v1h-1zM29.1 146.3h1v1h-1zM44.1 138.7h1v1h-1zM62.8 127.9h1v1h-1zM61.8 119.1h1v1h-1zM38.2 134.6h1v1h-1zM58.7 131.3h1v1h-1zM44.9 138.7h1v1h-1zM44.5 137.4h1v1h-1zM44.8 127.5h1v1h-1zM59.7 127.5h1v1h-1zM46.2 127.9h1v1h-1zM40.6 144.2h1v1h-1zM56.5 136.6h1v1h-1zM54.5 137.7h1v1h-1zM64.7 133.9h1v1h-1zM53.6 120.2h1v1h-1zM32.9 128.9h1v1h-1zM34.5 151.6h1v1h-1zM52.1 126.6h1v1h-1zM41.6 150.7h1v1h-1zM43.3 137.6h1v1h-1zM39.6 139.0h1v1h-1zM28.6 147.8h1v1h-1zM64.4 115.3h1v1h-1zM39.8 142.0h1v1h-1zM48.4 125.5h1v1h-1zM52.1 140.1h1v1h-1zM45.7 133.3h1v1h-1zM60.3 119.6h1v1h-1zM49.8 123.8h1v1h-1zM39.4 125.8h1v1h-1zM39.0 134.3h1v1h-1zM54.3 137.4h1v1h-1zM35.9 151.2h1v1h-1zM45.8 134.7h1v1h-1zM40.2 133.1h1v1h-1zM29.3 145.4h1v1h-1zM44.9 136.6h1v1h-1zM52.9 118.6h1v1h-1zM38.8 144.1h1v1h-1zM37.0 137.3h1v1h-1zM50.6 138.6h1v1h-1zM55.3 137.8h1v1h-1zM53.3 128.1h1v1h-1zM49.2 117.3h1v1h-1zM40.9 137.6h1v1h-1zM49.3 126.6h1v1h-1zM28.6 139.5h1v1h-1zM35.4 134.1h1v1h-1zM59.5 128.2h1v1h-1zM42.7 134.3h1v1h-1zM28.3 143.6h1v1h-1zM50.3 131.2h1v1h-1zM39.4 142.3h1v1h-1zM41.8 127.2h1v1h-1zM42.7 125.8h1v1h-1zM28.3 150.7h1v1h-1zM47.0 133.9h1v1h-1zM28.9 147.9h1v1h-1zM58.1 138.5h1v1h-1zM32.6 147.8h1v1h-1zM37.6 133.1h1v1h-1zM50.7 147.0h1v1h-1zM60.5 132.4h1v1h-1zM37.2 125.8h1v1h-1zM43.0 144.5h1v1h-1zM36.6 143.4h1v1h-1zM32.4 142.4h1v1h-1zM53.9 128.4h1v1h-1zM28.2 121.5h1v1h-1zM32.6 139.0h1v1h-1zM44.2 129.4h1v1h-1zM40.1 133.4h1v1h-1zM67.9 124.4h1v1h-1zM31.5 137.9h1v1h-1zM34.7 141.6h1v1h-1zM46.0 131.8h1v1h-1zM40.6 130.3h1v1h-1zM41.7 145.5h1v1h-1zM53.9 133.6h1v1h-1zM57.7 134.1h1v1h-1zM50.4 130.1h1v1h-1zM28.4 151.3h1v1h-1zM31.1 130.3h1v1h-1zM28.4 137.5h1v1h-1zM56.3 126.3h1v1h-1zM51.6 135.5h1v1h-1zM43.8 133.5h1v1h-1zM48.7 128.0h1v1h-1zM41.5 141.2h1v1h-1zM37.5 134.8h1v1h-1zM29.1 150.9h1v1h-1zM39.2 141.1h1v1h-1zM40.8 151.0h1v1h-1zM40.0 138.6h1v1h-1zM52.7 145.8h1v1h-1zM40.4 133.1h1v1h-1zM49.5 124.1h1v1h-1zM55.9 137.7h1v1h-1zM51.1 134.5h1v1h-1zM34.7 127.8h1v1h-1zM36.7 144.3h1v1h-1zM39.2 143.3h1v1h-1zM55.4 127.5h1v1h-1zM59.9 125.4h1v1h-1zM36.9 130.5h1v1h-1zM36.4 141.6h1v1h-1zM42.0 135.6h1v1h-1zM57.5 133.8h1v1h-1zM47.9 133.6h1v1h-1zM29.5 149.1h1v1h-1zM41.4 133.2h1v1h-1zM47.5 130.1h1v1h-1zM44.4 138.1h1v1h-1zM48.8 140.4h1v1h-1zM28.5 144.0h1v1h-1zM28.3 145.7h1v1h-1zM35.3 142.7h1v1h-1zM43.4 141.2h1v1h-1zM39.0 149.6h1v1h-1zM45.5 140.8h1v1h-1zM48.5 151.7h1v1h-1zM34.7 137.2h1v1h-1zM28.9 149.4h1v1h-1zM45.0 133.9h1v1h-1zM28.2 140.6h1v1h-1zM45.6 141.5h1v1h-1zM52.4 131.9h1v1h-1zM44.1 138.3h1v1h-1zM50.2 131.8h1v1h-1zM56.9 126.4h1v1h-1zM36.8 139.7h1v1h-1zM54.4 133.4h1v1h-1zM48.3 129.5h1v1h-1zM41.8 150.9h1v1h-1zM45.4 132.9h1v1h-1zM45.4 140.0h1v1h-1zM57.7 130.3h1v1h-1zM36.7 143.4h1v1h-1zM48.0 141.4h1v1h-1zM32.4 125.3h1v1h-1zM58.9 121.1h1v1h-1zM59.5 124.2h1v1h-1zM28.8 134.5h1v1h-1zM58.1 125.6h1v1h-1zM29.3 135.4h1v1h-1zM59.6 132.1h1v1h-1zM45.3 128.8h1v1h-1zM42.9 127.5h1v1h-1zM44.8 129.7h1v1h-1zM44.9 145.5h1v1h-1zM32.4 116.7h1v1h-1zM47.1 124.2h1v1h-1zM57.0 117.1h1v1h-1zM50.3 136.8h1v1h-1zM44.1 149.1h1v1h-1zM41.7 129.4h1v1h-1zM29.2 144.1h1v1h-1zM53.4 121.4h1v1h-1zM33.2 144.4h1v1h-1zM29.0 151.6h1v1h-1zM50.0 117.4h1v1h-1zM30.7 130.5h1v1h-1zM48.8 136.7h1v1h-1zM69.2 143.0h1v1h-1zM43.1 133.8h1v1h-1zM68.4 111.6h1v1h-1zM70.0 123.2h1v1h-1zM55.2 120.4h1v1h-1zM49.8 130.0h1v1h-1zM41.8 139.0h1v1h-1zM29.7 126.7h1v1h-1zM38.7 150.8h1v1h-1zM46.9 134.1h1v1h-1zM45.9 120.9h1v1h-1zM42.7 137.6h1v1h-1zM35.3 138.9h1v1h-1zM38.8 135.7h1v1h-1zM79.9 117.1h1v1h-1zM34.0 125.1h1v1h-1zM53.9 124.9h1v1h-1zM52.1 125.6h1v1h-1zM51.7 121.5h1v1h-1zM55.5 120.3h1v1h-1zM38.1 137.6h1v1h-1zM35.5 131.6h1v1h-1zM53.5 134.5h1v1h-1zM50.6 113.0h1v1h-1zM58.2 137.3h1v1h-1zM42.8 130.9h1v1h-1zM43.5 132.4h1v1h-1zM57.5 127.0h1v1h-1zM31.2 135.2h1v1h-1zM42.8 134.7h1v1h-1zM37.3 148.0h1v1h-1zM29.5 143.8h1v1h-1zM31.5 151.2h1v1h-1zM57.1 138.1h1v1h-1zM35.5 134.7h1v1h-1zM28.5 136.9h1v1h-1zM35.0 134.0h1v1h-1zM38.3 135.2h1v1h-1zM45.1 134.6h1v1h-1zM28.2 150.9h1v1h-1zM43.4 124.9h1v1h-1zM37.6 133.8h1v1h-1zM45.8 130.8h1v1h-1zM55.3 141.3h1v1h-1zM47.1 135.1h1v1h-1zM40.3 142.9h1v1h-1zM34.8 146.5h1v1h-1zM31.2 122.0h1v1h-1zM63.5 126.8h1v1h-1zM52.5 138.7h1v1h-1zM29.0 151.0h1v1h-1zM45.5 123.8h1v1h-1zM43.4 142.7h1v1h-1zM41.1 143.6h1v1h-1zM28.8 143.6h1v1h-1zM39.3 143.0h1v1h-1zM33.6 146.3h1v1h-1zM46.6 123.7h1v1h-1zM41.4 119.7h1v1h-1zM28.7 140.9h1v1h-1zM30.5 141.9h1v1h-1zM45.1 130.5h1v1h-1zM56.9 133.7h1v1h-1zM29.5 142.5h1v1h-1zM47.3 138.8h1v1h-1zM54.2 118.4h1v1h-1zM29.3 139.3h1v1h-1zM55.6 144.3h1v1h-1zM46.3 135.8h1v1h-1zM28.6 132.3h1v1h-1zM46.4 137.6h1v1h-1zM49.0 128.2h1v1h-1zM52.8 127.1h1v1h-1zM48.6 141.8h1v1h-1zM39.0 136.2h1v1h-1zM28.3 132.8h1v1h-1zM39.5 144.7h1v1h-1zM29.4 142.1h1v1h-1zM44.3 139.3h1v1h-1zM39.1 143.7h1v1h-1zM35.2 139.5h1v1h-1zM36.4 133.2h1v1h-1zM42.2 134.8h1v1h-1zM48.6 123.8h1v1h-1zM50.8 130.5h1v1h-1zM42.0 141.8h1v1h-1zM39.9 131.8h1v1h-1zM46.5 136.9h1v1h-1zM28.5 150.9h1v1h-1zM47.6 126.0h1v1h-1zM48.2 143.4h1v1h-1zM41.4 134.5h1v1h-1zM33.3 137.0h1v1h-1zM41.6 142.2h1v1h-1zM29.5 135.2h1v1h-1zM48.0 139.9h1v1h-1zM32.2 133.5h1v1h-1zM50.8 134.5h1v1h-1zM62.3 129.5h1v1h-1zM31.7 132.2h1v1h-1zM41.7 133.5h1v1h-1zM44.3 142.3h1v1h-1zM30.2 142.3h1v1h-1zM60.1 135.7h1v1h-1zM59.6 126.9h1v1h-1zM31.0 138.5h1v1h-1zM50.4 139.0h1v1h-1zM29.3 142.8h1v1h-1zM31.1 137.2h1v1h-1zM29.4 145.4h1v1h-1zM34.5 149.9h1v1h-1zM41.1 135.0h1v1h-1zM37.4 146.5h1v1h-1zM46.3 146.9h1v1h-1zM50.1 128.9h1v1h-1zM63.2 120.5h1v1h-1zM48.0 131.5h1v1h-1zM44.2 144.7h1v1h-1zM60.8 124.2h1v1h-1zM40.6 144.9h1v1h-1zM61.0 124.0h1v1h-1zM30.2 135.9h1v1h-1zM65.7 126.1h1v1h-1zM48.5 136.2h1v1h-1zM36.6 130.3h1v1h-1zM79.4 119.4h1v1h-1zM42.5 129.9h1v1h-1zM40.4 131.2h1v1h-1zM53.4 138.6h1v1h-1zM31.5 140.8h1v1h-1zM53.5 129.1h1v1h-1zM58.2 139.2h1v1h-1zM49.6 137.3h1v1h-1zM45.0 132.3h1v1h-1zM32.7 141.5h1v1h-1zM30.5 138.8h1v1h-1zM34.1 142.8h1v1h-1zM46.4 138.8h1v1h-1zM57.1 134.2h1v1h-1zM53.7 128.9h1v1h-1zM32.0 141.7h1v1h-1zM34.3 141.8h1v1h-1zM40.8 123.1h1v1h-1zM39.1 125.6h1v1h-1zM49.0 142.5h1v1h-1zM28.7 141.3h1v1h-1zM28.3 139.5h1v1h-1zM55.7 127.3h1v1h-1zM41.5 138.0h1v1h-1zM46.9 136.1h1v1h-1zM37.7 140.4h1v1h-1zM57.3 134.0h1v1h-1zM48.2 141.7h1v1h-1zM35.7 148.6h1v1h-1zM41.6 131.1h1v1h-1zM47.4 137.2h1v1h-1zM50.9 134.7h1v1h-1zM48.2 131.3h1v1h-1zM50.1 150.6h1v1h-1zM28.9 135.7h1v1h-1zM42.7 119.2h1v1h-1zM41.2 140.3h1v1h-1zM61.0 123.9h1v1h-1zM65.7 122.3h1v1h-1zM41.5 130.8h1v1h-1zM34.8 142.2h1v1h-1zM37.5 139.4h1v1h-1zM52.8 134.9h1v1h-1zM47.6 137.2h1v1h-1zM54.0 151.0h1v1h-1zM41.5 134.9h1v1h-1zM31.5 132.9h1v1h-1zM46.4 124.7h1v1h-1zM54.9 125.8h1v1h-1zM42.2 143.8h1v1h-1zM41.4 139.5h1v1h-1zM46.7 137.3h1v1h-1zM78.9 132.1h1v1h-1zM57.3 132.9h1v1h-1zM41.1 129.5h1v1h-1zM43.9 144.0h1v1h-1zM48.6 134.6h1v1h-1zM28.8 143.6h1v1h-1zM31.8 145.6h1v1h-1zM49.4 130.6h1v1h-1zM40.6 120.7h1v1h-1zM48.7 137.6h1v1h-1zM46.6 134.9h1v1h-1zM28.8 151.3h1v1h-1zM29.1 126.7h1v1h-1zM41.8 138.0h1v1h-1zM37.4 130.7h1v1h-1zM44.2 122.5h1v1h-1zM52.9 119.3h1v1h-1zM42.5 132.9h1v1h-1zM38.9 138.4h1v1h-1zM28.5 147.7h1v1h-1zM33.0 144.4h1v1h-1zM57.8 127.4h1v1h-1zM57.9 123.0h1v1h-1zM54.4 123.4h1v1h-1zM37.0 132.2h1v1h-1zM40.2 140.5h1v1h-1zM57.6 113.6h1v1h-1zM32.7 127.2h1v1h-1zM53.4 137.3h1v1h-1zM47.0 131.1h1v1h-1zM48.2 135.9h1v1h-1zM29.2 141.1h1v1h-1zM53.7 125.3h1v1h-1zM51.4 123.9h1v1h-1zM32.5 140.2h1v1h-1zM47.8 126.2h1v1h-1zM45.7 130.6h1v1h-1zM45.4 119.2h1v1h-1zM29.4 145.8h1v1h-1zM72.2 121.5h1v1h-1zM28.4 142.9h1v1h-1zM28.5 146.9h1v1h-1zM46.4 121.6h1v1h-1zM49.2 128.0h1v1h-1zM55.5 128.8h1v1h-1zM34.1 139.9h1v1h-1zM47.7 135.5h1v1h-1zM36.3 140.9h1v1h-1zM29.2 149.8h1v1h-1zM42.8 138.2h1v1h-1zM44.3 124.7h1v1h-1zM47.3 133.9h1v1h-1zM30.5 148.6h1v1h-1zM48.2 139.7h1v1h-1zM48.8 140.9h1v1h-1zM45.4 135.0h1v1h-1zM55.3 133.2h1v1h-1zM39.6 135.1h1v1h-1zM44.5 122.6h1v1h-1zM40.9 140.2h1v1h-1zM40.2 133.2h1v1h-1zM46.6 129.0h1v1h-1zM28.4 123.7h1v1h-1zM64.9 126.5h1v1h-1zM54.1 125.8h1v1h-1zM63.6 133.1h1v1h-1zM61.2 130.4h1v1h-1zM63.8 114.8h1v1h-1zM67.1 127.6h1v1h-1zM69.2 114.5h1v1h-1zM59.0 121.6h1v1h-1zM70.0 120.3h1v1h-1zM61.1 125.9h1v1h-1zM67.9 130.5h1v1h-1zM69.4 123.8h1v1h-1zM66.5 128.5h1v1h-1zM55.7 128.8h1v1h-1zM66.0 128.8h1v1h-1zM64.6 124.5h1v1h-1zM68.4 121.0h1v1h-1zM64.0 122.5h1v1h-1zM71.6 119.7h1v1h-1zM61.0 113.2h1v1h-1zM61.6 119.4h1v1h-1zM56.9 124.2h1v1h-1zM48.0 129.1h1v1h-1zM57.4 132.5h1v1h-1zM52.9 121.4h1v1h-1zM63.6 129.4h1v1h-1zM71.7 121.3h1v1h-1zM59.0 122.9h1v1h-1zM54.5 134.5h1v1h-1zM56.8 119.3h1v1h-1zM66.7 128.2h1v1h-1zM68.1 119.4h1v1h-1zM64.1 121.3h1v1h-1zM63.5 126.9h1v1h-1zM55.9 129.2h1v1h-1zM59.0 121.0h1v1h-1zM54.1 118.6h1v1h-1zM57.5 127.8h1v1h-1zM65.2 118.8h1v1h-1zM59.2 129.4h1v1h-1zM55.3 134.0h1v1h-1zM67.8 114.3h1v1h-1zM72.0 115.1h1v1h-1zM63.1 118.3h1v1h-1zM66.7 121.6h1v1h-1zM63.2 111.2h1v1h-1zM51.3 135.0h1v1h-1zM55.5 122.1h1v1h-1zM68.0 121.3h1v1h-1zM65.0 121.3h1v1h-1zM62.9 124.9h1v1h-1zM61.0 123.2h1v1h-1zM67.7 108.6h1v1h-1zM50.6 125.6h1v1h-1zM61.1 118.2h1v1h-1zM67.3 116.0h1v1h-1zM65.8 125.5h1v1h-1zM51.2 119.6h1v1h-1zM68.2 124.3h1v1h-1zM68.6 116.0h1v1h-1zM46.9 125.7h1v1h-1zM55.4 120.1h1v1h-1zM57.2 128.8h1v1h-1zM52.2 128.6h1v1h-1zM67.1 123.5h1v1h-1zM50.3 117.7h1v1h-1zM71.9 114.2h1v1h-1zM58.0 130.7h1v1h-1zM51.6 125.0h1v1h-1zM68.7 124.6h1v1h-1zM61.1 124.5h1v1h-1zM59.6 121.3h1v1h-1zM73.3 120.2h1v1h-1zM66.1 115.1h1v1h-1zM59.5 124.6h1v1h-1zM53.3 121.5h1v1h-1zM58.0 127.9h1v1h-1zM61.5 127.2h1v1h-1zM55.1 127.6h1v1h-1zM69.8 119.8h1v1h-1zM64.2 128.9h1v1h-1zM49.8 119.6h1v1h-1zM58.8 132.0h1v1h-1zM60.5 120.3h1v1h-1zM51.1 132.5h1v1h-1zM62.7 126.9h1v1h-1zM65.8 115.9h1v1h-1zM63.7 123.9h1v1h-1zM60.9 126.4h1v1h-1zM60.4 121.8h1v1h-1zM59.4 119.0h1v1h-1zM76.3 118.3h1v1h-1zM63.1 117.9h1v1h-1zM64.9 122.4h1v1h-1zM58.3 119.4h1v1h-1zM64.8 118.7h1v1h-1zM56.5 122.2h1v1h-1zM65.8 121.7h1v1h-1zM64.9 110.2h1v1h-1zM50.2 125.5h1v1h-1zM54.3 133.3h1v1h-1zM59.8 121.0h1v1h-1zM61.4 128.8h1v1h-1zM52.7 130.1h1v1h-1zM61.2 127.2h1v1h-1zM52.4 118.6h1v1h-1zM56.2 126.3h1v1h-1zM57.9 127.6h1v1h-1zM61.4 124.4h1v1h-1zM64.8 127.2h1v1h-1zM52.5 117.5h1v1h-1zM60.7 119.4h1v1h-1zM68.0 116.8h1v1h-1zM61.4 130.8h1v1h-1zM51.8 122.8h1v1h-1zM65.1 118.2h1v1h-1zM51.4 138.7h1v1h-1zM55.0 132.1h1v1h-1zM62.1 127.8h1v1h-1zM70.4 121.6h1v1h-1zM57.9 120.3h1v1h-1zM63.1 126.6h1v1h-1zM66.0 110.9h1v1h-1zM54.0 127.9h1v1h-1zM54.8 136.0h1v1h-1zM64.8 117.7h1v1h-1zM66.9 118.0h1v1h-1zM49.3 129.1h1v1h-1zM57.2 131.0h1v1h-1zM54.7 122.4h1v1h-1zM59.4 114.0h1v1h-1zM63.9 131.4h1v1h-1zM66.4 114.1h1v1h-1zM61.3 129.1h1v1h-1zM71.5 124.5h1v1h-1zM60.6 133.0h1v1h-1zM53.8 135.4h1v1h-1zM67.5 113.9h1v1h-1zM58.8 131.1h1v1h-1zM60.8 121.3h1v1h-1zM52.2 133.4h1v1h-1zM60.5 119.8h1v1h-1zM61.6 120.5h1v1h-1zM53.8 139.4h1v1h-1zM63.0 126.8h1v1h-1zM60.4 125.3h1v1h-1zM64.0 125.6h1v1h-1zM69.6 118.7h1v1h-1zM64.3 118.3h1v1h-1zM67.3 117.9h1v1h-1zM50.8 131.4h1v1h-1zM72.1 115.2h1v1h-1zM64.5 119.0h1v1h-1zM57.4 128.4h1v1h-1zM57.3 119.0h1v1h-1zM63.3 112.9h1v1h-1zM64.1 111.9h1v1h-1zM63.8 127.8h1v1h-1zM71.4 116.2h1v1h-1zM68.2 118.4h1v1h-1zM59.2 123.2h1v1h-1zM54.5 132.5h1v1h-1zM55.9 128.4h1v1h-1zM53.1 127.6h1v1h-1zM62.9 111.8h1v1h-1zM72.0 117.9h1v1h-1zM66.4 121.6h1v1h-1zM63.5 122.1h1v1h-1zM57.9 124.3h1v1h-1zM52.4 125.2h1v1h-1zM59.4 129.5h1v1h-1zM59.0 121.3h1v1h-1zM57.1 122.6h1v1h-1zM64.5 113.4h1v1h-1zM54.7 126.8h1v1h-1zM64.2 113.8h1v1h-1zM62.7 118.4h1v1h-1zM52.4 130.4h1v1h-1zM71.0 119.6h1v1h-1zM74.0 120.4h1v1h-1zM59.5 132.1h1v1h-1zM64.9 119.8h1v1h-1zM73.2 116.2h1v1h-1zM59.6 131.1h1v1h-1zM60.7 118.4h1v1h-1zM65.6 114.5h1v1h-1zM66.3 120.7h1v1h-1zM64.7 120.4h1v1h-1zM53.2 118.2h1v1h-1zM63.4 127.4h1v1h-1zM63.4 120.4h1v1h-1zM67.1 112.6h1v1h-1zM43.0 129.2h1v1h-1zM70.3 123.4h1v1h-1zM50.0 127.2h1v1h-1zM63.1 120.2h1v1h-1zM54.5 128.8h1v1h-1zM62.3 118.6h1v1h-1zM74.2 115.0h1v1h-1zM57.5 137.1h1v1h-1zM67.6 120.5h1v1h-1zM60.5 128.5h1v1h-1zM65.5 130.1h1v1h-1zM61.8 122.1h1v1h-1zM62.9 115.4h1v1h-1zM60.5 122.9h1v1h-1zM66.3 128.5h1v1h-1zM59.4 123.6h1v1h-1zM66.9 124.3h1v1h-1zM66.0 118.7h1v1h-1zM52.2 135.2h1v1h-1zM52.6 126.6h1v1h-1zM62.4 118.7h1v1h-1zM66.1 123.5h1v1h-1zM67.6 115.6h1v1h-1zM64.0 119.2h1v1h-1zM53.4 125.0h1v1h-1zM54.9 132.3h1v1h-1zM59.0 123.4h1v1h-1zM60.8 124.9h1v1h-1zM55.1 125.1h1v1h-1zM56.7 132.6h1v1h-1zM61.7 115.2h1v1h-1zM58.7 129.8h1v1h-1zM69.5 110.0h1v1h-1zM59.4 125.0h1v1h-1zM62.4 107.1h1v1h-1zM61.9 117.5h1v1h-1zM63.8 131.2h1v1h-1zM54.5 132.8h1v1h-1zM63.7 121.2h1v1h-1zM71.9 119.1h1v1h-1zM63.0 121.7h1v1h-1zM62.0 110.6h1v1h-1zM62.9 114.5h1v1h-1zM68.9 122.3h1v1h-1zM65.3 123.0h1v1h-1zM61.8 121.9h1v1h-1zM61.3 125.4h1v1h-1zM70.5 119.8h1v1h-1zM65.4 112.2h1v1h-1zM64.9 115.8h1v1h-1zM69.5 113.2h1v1h-1zM71.5 125.3h1v1h-1zM72.9 117.0h1v1h-1zM50.6 131.6h1v1h-1zM52.7 127.4h1v1h-1zM52.2 132.8h1v1h-1zM62.9 121.3h1v1h-1zM56.3 126.7h1v1h-1zM60.5 123.0h1v1h-1zM61.1 124.2h1v1h-1zM66.4 128.8h1v1h-1zM58.2 123.8h1v1h-1zM58.7 127.1h1v1h-1zM58.5 123.3h1v1h-1zM68.7 120.3h1v1h-1zM59.5 122.0h1v1h-1zM59.7 133.9h1v1h-1zM62.8 124.2h1v1h-1zM57.7 121.5h1v1h-1zM61.4 125.9h1v1h-1zM48.0 138.6h1v1h-1zM61.2 123.6h1v1h-1zM63.8 120.6h1v1h-1zM58.3 131.1h1v1h-1zM54.5 127.1h1v1h-1zM54.2 122.6h1v1h-1zM53.1 136.4h1v1h-1zM60.0 132.9h1v1h-1zM71.0 123.3h1v1h-1zM60.8 124.5h1v1h-1zM56.2 134.8h1v1h-1zM49.9 124.2h1v1h-1zM67.3 108.7h1v1h-1zM52.3 124.5h1v1h-1zM61.1 118.7h1v1h-1zM58.0 120.8h1v1h-1zM66.6 117.2h1v1h-1zM69.9 119.6h1v1h-1zM70.5 122.1h1v1h-1zM71.2 132.4h1v1h-1zM61.2 127.2h1v1h-1zM61.2 117.7h1v1h-1zM65.5 120.4h1v1h-1zM71.4 125.6h1v1h-1zM56.2 117.6h1v1h-1zM63.1 132.9h1v1h-1zM63.2 128.2h1v1h-1zM70.1 112.6h1v1h-1zM57.8 117.9h1v1h-1zM56.1 120.8h1v1h-1zM64.6 122.0h1v1h-1zM52.6 128.8h1v1h-1zM47.3 132.9h1v1h-1zM50.0 122.3h1v1h-1zM55.3 138.7h1v1h-1zM64.7 119.4h1v1h-1zM58.1 113.5h1v1h-1zM65.8 120.4h1v1h-1zM57.2 140.4h1v1h-1zM64.0 116.6h1v1h-1zM57.6 132.2h1v1h-1zM60.9 131.9h1v1h-1zM61.2 119.0h1v1h-1zM70.3 117.1h1v1h-1zM62.3 118.5h1v1h-1zM69.6 120.5h1v1h-1zM53.7 130.9h1v1h-1zM53.5 131.5h1v1h-1zM60.4 121.6h1v1h-1zM62.1 122.2h1v1h-1zM59.0 121.9h1v1h-1zM66.5 116.4h1v1h-1zM70.2 120.1h1v1h-1zM59.6 115.0h1v1h-1zM62.4 120.3h1v1h-1zM59.1 119.0h1v1h-1zM58.7 129.5h1v1h-1zM60.8 125.5h1v1h-1zM66.2 122.5h1v1h-1zM61.9 123.8h1v1h-1zM63.2 125.3h1v1h-1zM67.8 127.2h1v1h-1zM58.8 127.9h1v1h-1zM65.1 120.9h1v1h-1zM64.1 123.3h1v1h-1zM56.8 131.1h1v1h-1zM59.1 126.9h1v1h-1zM62.8 120.4h1v1h-1zM67.0 120.7h1v1h-1zM56.6 130.9h1v1h-1zM61.5 121.0h1v1h-1zM72.9 116.2h1v1h-1zM71.8 108.0h1v1h-1zM54.8 119.9h1v1h-1zM68.0 112.6h1v1h-1zM61.1 118.1h1v1h-1zM58.2 124.9h1v1h-1zM61.3 113.7h1v1h-1zM59.8 118.7h1v1h-1zM61.5 126.6h1v1h-1zM62.6 118.9h1v1h-1zM56.8 121.9h1v1h-1zM56.8 129.8h1v1h-1zM62.5 123.6h1v1h-1zM55.2 134.5h1v1h-1zM61.3 121.7h1v1h-1zM58.4 123.5h1v1h-1zM51.9 125.6h1v1h-1zM63.7 120.3h1v1h-1zM57.4 124.5h1v1h-1zM61.9 117.1h1v1h-1zM62.8 120.9h1v1h-1zM56.8 120.7h1v1h-1zM68.2 122.1h1v1h-1zM65.0 119.5h1v1h-1zM60.9 129.9h1v1h-1zM71.8 127.5h1v1h-1zM63.0 124.1h1v1h-1zM68.1 121.8h1v1h-1zM61.4 119.7h1v1h-1zM63.9 124.4h1v1h-1zM65.3 119.0h1v1h-1zM67.1 122.7h1v1h-1zM60.9 125.2h1v1h-1zM56.1 124.2h1v1h-1zM63.6 114.4h1v1h-1zM59.2 122.0h1v1h-1zM68.0 120.2h1v1h-1zM61.5 122.2h1v1h-1zM57.0 130.3h1v1h-1zM67.9 118.8h1v1h-1zM60.7 129.7h1v1h-1zM61.9 116.6h1v1h-1zM54.2 131.2h1v1h-1zM67.8 112.3h1v1h-1zM70.5 121.3h1v1h-1zM64.8 125.2h1v1h-1zM64.3 123.4h1v1h-1zM62.3 115.5h1v1h-1zM63.2 123.3h1v1h-1zM61.5 121.5h1v1h-1zM58.1 123.5h1v1h-1zM64.7 113.2h1v1h-1zM48.8 135.4h1v1h-1zM53.7 122.2h1v1h-1zM75.8 114.7h1v1h-1zM61.9 116.8h1v1h-1zM46.5 131.3h1v1h-1zM42.4 131.6h1v1h-1zM58.1 127.1h1v1h-1zM63.2 125.1h1v1h-1zM67.8 119.7h1v1h-1zM63.4 108.7h1v1h-1zM58.4 119.6h1v1h-1zM56.2 119.1h1v1h-1zM66.9 119.4h1v1h-1zM67.1 111.7h1v1h-1zM69.4 118.9h1v1h-1zM60.8 117.5h1v1h-1zM52.3 130.6h1v1h-1zM64.0 118.7h1v1h-1zM72.3 108.4h1v1h-1zM63.1 119.8h1v1h-1zM53.2 128.0h1v1h-1zM62.7 123.4h1v1h-1zM61.5 119.7h1v1h-1zM55.4 128.8h1v1h-1zM50.5 122.4h1v1h-1zM54.8 135.0h1v1h-1zM65.7 121.9h1v1h-1zM66.9 122.1h1v1h-1zM73.8 113.0h1v1h-1zM62.0 122.0h1v1h-1zM59.9 119.5h1v1h-1zM73.1 119.3h1v1h-1zM54.6 123.2h1v1h-1zM67.5 127.6h1v1h-1zM57.0 130.3h1v1h-1zM64.5 118.8h1v1h-1zM56.8 131.1h1v1h-1zM65.2 131.6h1v1h-1zM65.0 121.9h1v1h-1zM72.6 112.2h1v1h-1zM57.7 126.2h1v1h-1zM59.5 127.6h1v1h-1zM61.6 117.8h1v1h-1zM52.2 128.7h1v1h-1zM70.0 114.8h1v1h-1zM56.3 129.6h1v1h-1zM56.0 133.9h1v1h-1zM68.0 119.3h1v1h-1zM57.0 132.5h1v1h-1zM58.9 126.8h1v1h-1zM71.4 120.3h1v1h-1zM61.8 117.2h1v1h-1zM65.1 122.0h1v1h-1zM48.2 122.3h1v1h-1zM64.7 123.5h1v1h-1zM60.6 128.2h1v1h-1zM55.8 133.3h1v1h-1zM64.1 118.9h1v1h-1zM62.2 118.5h1v1h-1zM64.3 120.8h1v1h-1zM55.9 122.6h1v1h-1zM68.2 116.3h1v1h-1zM68.6 121.8h1v1h-1zM55.3 119.5h1v1h-1zM57.7 123.5h1v1h-1zM60.0 123.5h1v1h-1zM59.5 126.6h1v1h-1zM50.6 118.6h1v1h-1zM62.3 132.3h1v1h-1zM55.8 131.5h1v1h-1zM56.7 138.3h1v1h-1zM64.6 113.0h1v1h-1zM59.7 120.0h1v1h-1zM64.7 127.7h1v1h-1zM68.4 128.1h1v1h-1zM57.7 126.6h1v1h-1zM68.6 118.7h1v1h-1zM60.4 127.5h1v1h-1zM61.7 122.6h1v1h-1zM65.5 113.8h1v1h-1zM65.5 120.8h1v1h-1zM60.2 115.3h1v1h-1zM62.3 122.5h1v1h-1zM71.8 109.7h1v1h-1zM64.5 121.9h1v1h-1zM57.4 119.5h1v1h-1zM58.5 119.5h1v1h-1zM56.5 124.8h1v1h-1zM63.5 121.1h1v1h-1zM62.5 120.4h1v1h-1zM54.5 132.0h1v1h-1zM60.3 114.3h1v1h-1zM60.4 128.2h1v1h-1zM57.2 124.8h1v1h-1zM68.1 122.5h1v1h-1zM64.5 120.4h1v1h-1zM59.0 128.9h1v1h-1zM60.2 127.2h1v1h-1zM64.3 130.5h1v1h-1zM67.8 115.9h1v1h-1zM64.6 113.7h1v1h-1zM64.7 130.0h1v1h-1zM61.5 120.6h1v1h-1zM57.1 130.8h1v1h-1zM63.7 119.2h1v1h-1zM58.6 125.5h1v1h-1zM58.2 127.4h1v1h-1zM60.8 117.8h1v1h-1zM51.7 129.5h1v1h-1zM70.7 116.7h1v1h-1zM62.0 118.3h1v1h-1zM55.2 132.2h1v1h-1zM51.4 135.4h1v1h-1zM62.6 118.0h1v1h-1zM58.7 127.7h1v1h-1zM63.5 118.7h1v1h-1zM62.7 132.0h1v1h-1zM57.9 137.5h1v1h-1zM62.6 126.7h1v1h-1zM57.3 117.3h1v1h-1zM68.9 116.7h1v1h-1zM62.8 121.4h1v1h-1zM57.7 125.0h1v1h-1zM72.4 121.9h1v1h-1zM57.2 124.2h1v1h-1zM66.4 116.2h1v1h-1zM55.5 126.6h1v1h-1zM59.6 130.1h1v1h-1zM61.6 125.3h1v1h-1zM66.5 118.2h1v1h-1zM56.6 124.9h1v1h-1zM59.0 127.3h1v1h-1zM58.3 119.1h1v1h-1zM58.7 133.0h1v1h-1zM56.6 121.2h1v1h-1zM73.8 122.1h1v1h-1zM59.1 125.8h1v1h-1zM52.9 125.1h1v1h-1zM60.8 121.8h1v1h-1zM74.3 117.8h1v1h-1zM65.8 116.5h1v1h-1zM57.4 127.9h1v1h-1zM70.3 114.9h1v1h-1zM62.0 128.2h1v1h-1zM66.3 117.8h1v1h-1zM74.1 109.1h1v1h-1zM65.9 119.3h1v1h-1zM61.5 125.7h1v1h-1zM63.0 120.9h1v1h-1zM65.0 115.6h1v1h-1zM63.0 124.9h1v1h-1zM65.9 112.8h1v1h-1zM56.2 123.4h1v1h-1zM64.4 118.7h1v1h-1zM64.1 122.0h1v1h-1zM60.5 114.8h1v1h-1zM71.3 125.1h1v1h-1zM46.2 128.3h1v1h-1zM57.2 127.7h1v1h-1zM51.8 125.9h1v1h-1zM60.8 126.0h1v1h-1zM66.4 108.1h1v1h-1zM69.8 112.8h1v1h-1zM58.7 120.9h1v1h-1zM60.9 117.3h1v1h-1zM64.6 121.5h1v1h-1zM64.4 125.1h1v1h-1zM65.8 113.1h1v1h-1zM59.0 121.3h1v1h-1zM51.4 123.2h1v1h-1zM66.3 125.7h1v1h-1zM71.4 117.4h1v1h-1zM51.0 135.1h1v1h-1zM66.3 121.9h1v1h-1zM67.6 127.7h1v1h-1zM60.6 118.4h1v1h-1zM57.2 121.6h1v1h-1zM59.0 122.4h1v1h-1zM63.0 110.8h1v1h-1zM53.9 122.7h1v1h-1zM68.8 124.9h1v1h-1zM61.6 111.1h1v1h-1zM67.3 135.0h1v1h-1zM59.7 132.4h1v1h-1zM62.9 125.8h1v1h-1zM57.8 128.9h1v1h-1zM62.9 124.6h1v1h-1zM55.8 126.9h1v1h-1zM63.5 126.2h1v1h-1zM67.7 128.2h1v1h-1zM63.5 123.8h1v1h-1zM70.4 121.7h1v1h-1zM57.2 131.8h1v1h-1zM72.8 114.1h1v1h-1zM54.8 127.9h1v1h-1zM55.5 118.1h1v1h-1zM63.6 132.2h1v1h-1zM62.4 117.8h1v1h-1zM61.2 120.6h1v1h-1zM60.5 122.3h1v1h-1zM62.4 126.0h1v1h-1zM63.2 121.2h1v1h-1zM60.9 126.6h1v1h-1zM55.2 124.8h1v1h-1zM66.0 132.9h1v1h-1zM58.0 117.8h1v1h-1zM66.5 124.0h1v1h-1zM69.1 124.1h1v1h-1zM56.5 115.5h1v1h-1zM58.6 125.4h1v1h-1zM51.5 133.0h1v1h-1zM54.2 127.2h1v1h-1zM50.4 123.0h1v1h-1zM59.1 127.2h1v1h-1zM57.4 121.1h1v1h-1zM70.1 120.6h1v1h-1zM70.6 110.1h1v1h-1zM69.0 117.6h1v1h-1zM52.4 124.0h1v1h-1zM58.7 123.3h1v1h-1zM50.1 130.0h1v1h-1zM62.5 127.1h1v1h-1zM62.9 113.7h1v1h-1zM62.5 125.9h1v1h-1zM75.2 127.0h1v1h-1zM55.7 123.7h1v1h-1zM57.7 136.4h1v1h-1zM62.7 118.1h1v1h-1zM56.5 117.9h1v1h-1zM64.1 115.5h1v1h-1zM52.2 127.6h1v1h-1zM70.5 108.1h1v1h-1zM68.9 119.2h1v1h-1zM62.2 125.7h1v1h-1zM67.6 123.4h1v1h-1zM61.9 133.2h1v1h-1zM52.3 118.4h1v1h-1zM61.5 121.8h1v1h-1zM48.2 129.7h1v1h-1zM73.3 124.6h1v1h-1zM47.1 130.9h1v1h-1zM58.0 125.7h1v1h-1zM53.7 133.7h1v1h-1zM53.9 123.4h1v1h-1zM60.9 119.0h1v1h-1zM54.8 123.2h1v1h-1zM58.5 123.9h1v1h-1zM66.6 120.1h1v1h-1zM59.1 132.6h1v1h-1zM61.5 118.9h1v1h-1zM57.4 125.3h1v1h-1zM50.7 135.1h1v1h-1zM63.5 115.2h1v1h-1zM59.3 132.5h1v1h-1zM58.9 132.2h1v1h-1zM59.5 114.0h1v1h-1zM62.9 123.0h1v1h-1zM67.3 121.9h1v1h-1zM63.1 121.0h1v1h-1zM63.8 129.3h1v1h-1zM65.3 116.4h1v1h-1zM47.6 143.7h1v1h-1zM55.8 118.1h1v1h-1zM61.3 119.5h1v1h-1zM64.4 116.9h1v1h-1zM57.4 127.9h1v1h-1zM63.4 118.8h1v1h-1zM64.5 119.6h1v1h-1zM58.3 118.8h1v1h-1zM63.9 116.2h1v1h-1zM46.1 125.4h1v1h-1zM46.7 129.2h1v1h-1zM57.2 124.4h1v1h-1zM58.3 126.1h1v1h-1zM62.3 120.7h1v1h-1zM56.4 138.4h1v1h-1zM56.5 122.6h1v1h-1zM56.1 123.4h1v1h-1zM58.9 129.0h1v1h-1zM68.1 111.1h1v1h-1zM60.5 123.6h1v1h-1zM66.8 127.0h1v1h-1zM55.9 119.8h1v1h-1zM66.5 122.9h1v1h-1zM56.5 123.6h1v1h-1zM52.7 129.8h1v1h-1zM59.8 136.4h1v1h-1zM64.7 117.4h1v1h-1zM67.5 127.3h1v1h-1zM53.5 131.1h1v1h-1zM53.3 116.3h1v1h-1zM55.3 127.6h1v1h-1zM62.4 120.1h1v1h-1zM69.8 124.4h1v1h-1zM66.4 119.7h1v1h-1zM54.1 125.8h1v1h-1zM52.8 118.9h1v1h-1zM56.8 120.0h1v1h-1zM68.9 122.4h1v1h-1zM55.8 125.1h1v1h-1zM54.9 121.5h1v1h-1zM62.2 126.5h1v1h-1zM57.0 121.3h1v1h-1zM52.4 118.6h1v1h-1zM56.4 126.4h1v1h-1zM55.6 117.4h1v1h-1zM66.1 113.8h1v1h-1zM65.1 120.6h1v1h-1zM71.3 114.5h1v1h-1zM63.8 118.8h1v1h-1zM65.6 119.4h1v1h-1zM60.1 131.8h1v1h-1zM73.5 123.6h1v1h-1zM48.2 133.2h1v1h-1zM72.8 110.9h1v1h-1zM57.5 123.5h1v1h-1zM66.0 150.9h1v1h-1zM64.4 131.3h1v1h-1zM72.2 141.1h1v1h-1zM54.5 151.5h1v1h-1zM67.8 131.3h1v1h-1zM66.9 131.2h1v1h-1zM64.2 147.3h1v1h-1zM68.4 128.0h1v1h-1zM69.1 119.4h1v1h-1zM59.7 151.3h1v1h-1zM56.9 118.0h1v1h-1zM61.4 132.0h1v1h-1zM66.0 126.2h1v1h-1zM82.7 128.4h1v1h-1zM65.2 139.3h1v1h-1zM67.4 127.4h1v1h-1zM61.1 123.4h1v1h-1zM72.0 125.4h1v1h-1zM65.5 135.7h1v1h-1zM57.6 131.8h1v1h-1zM61.1 140.9h1v1h-1zM71.3 138.9h1v1h-1zM63.4 126.5h1v1h-1zM75.7 134.1h1v1h-1zM71.8 136.0h1v1h-1zM68.1 127.3h1v1h-1zM60.2 126.7h1v1h-1zM75.4 127.2h1v1h-1zM67.5 143.5h1v1h-1zM75.4 127.1h1v1h-1zM59.5 129.6h1v1h-1zM58.5 144.1h1v1h-1zM55.1 126.3h1v1h-1zM77.5 132.5h1v1h-1zM62.7 140.6h1v1h-1zM63.2 129.5h1v1h-1zM73.7 138.4h1v1h-1zM68.4 149.1h1v1h-1zM74.0 129.4h1v1h-1zM62.5 120.5h1v1h-1zM65.6 120.3h1v1h-1zM71.7 114.0h1v1h-1zM62.0 135.0h1v1h-1zM68.0 133.9h1v1h-1zM74.0 135.4h1v1h-1zM71.3 117.0h1v1h-1zM56.0 148.3h1v1h-1zM61.4 141.1h1v1h-1zM68.1 133.6h1v1h-1zM66.5 137.3h1v1h-1zM65.7 128.7h1v1h-1zM70.0 138.3h1v1h-1zM65.5 140.8h1v1h-1zM65.2 147.4h1v1h-1zM71.0 123.8h1v1h-1zM65.5 140.0h1v1h-1zM63.7 140.9h1v1h-1zM58.1 122.1h1v1h-1zM83.1 135.0h1v1h-1zM60.1 131.1h1v1h-1zM69.2 146.4h1v1h-1zM56.2 133.7h1v1h-1zM55.8 125.5h1v1h-1zM63.5 133.8h1v1h-1zM66.1 138.5h1v1h-1zM65.4 136.4h1v1h-1zM72.5 130.2h1v1h-1zM65.9 138.3h1v1h-1zM62.8 142.1h1v1h-1zM66.2 115.5h1v1h-1zM71.9 127.5h1v1h-1zM74.7 118.4h1v1h-1zM67.2 134.1h1v1h-1zM60.4 134.0h1v1h-1zM64.5 149.3h1v1h-1zM59.5 118.4h1v1h-1zM67.2 127.7h1v1h-1zM67.1 137.0h1v1h-1zM68.5 121.3h1v1h-1zM64.5 129.1h1v1h-1zM71.4 134.6h1v1h-1zM67.0 139.7h1v1h-1zM69.2 134.8h1v1h-1zM72.0 137.0h1v1h-1zM74.8 131.0h1v1h-1zM61.8 144.3h1v1h-1zM69.5 139.3h1v1h-1zM75.4 115.4h1v1h-1zM68.8 145.2h1v1h-1zM66.0 140.1h1v1h-1zM56.7 134.5h1v1h-1zM77.5 131.6h1v1h-1zM70.3 118.4h1v1h-1zM61.1 139.3h1v1h-1zM67.5 127.8h1v1h-1zM60.2 134.5h1v1h-1zM65.5 124.3h1v1h-1zM57.8 143.3h1v1h-1zM63.5 137.7h1v1h-1zM69.8 137.0h1v1h-1zM80.3 131.6h1v1h-1zM70.5 120.8h1v1h-1zM71.1 132.2h1v1h-1zM61.8 138.1h1v1h-1zM69.6 129.9h1v1h-1zM69.1 125.8h1v1h-1zM61.5 144.7h1v1h-1zM73.6 133.4h1v1h-1zM57.9 120.1h1v1h-1zM61.8 144.6h1v1h-1zM71.1 141.0h1v1h-1zM61.6 125.7h1v1h-1zM61.9 111.5h1v1h-1zM66.6 107.1h1v1h-1zM66.8 132.2h1v1h-1zM62.8 137.2h1v1h-1zM63.5 134.8h1v1h-1zM70.1 143.0h1v1h-1zM61.4 151.2h1v1h-1zM73.9 129.3h1v1h-1zM66.0 133.7h1v1h-1zM71.3 127.0h1v1h-1zM70.5 132.1h1v1h-1zM65.5 134.0h1v1h-1zM56.5 128.3h1v1h-1zM57.9 147.4h1v1h-1zM69.6 130.6h1v1h-1zM70.3 114.3h1v1h-1zM75.7 114.2h1v1h-1zM64.9 114.1h1v1h-1zM61.5 136.6h1v1h-1zM71.3 132.1h1v1h-1zM65.5 136.9h1v1h-1zM73.2 151.5h1v1h-1zM72.7 119.1h1v1h-1zM65.7 127.9h1v1h-1zM61.1 125.4h1v1h-1zM82.0 132.7h1v1h-1zM73.3 129.4h1v1h-1zM64.4 138.8h1v1h-1zM65.1 145.7h1v1h-1zM59.1 121.3h1v1h-1zM66.0 127.9h1v1h-1zM67.7 127.6h1v1h-1zM58.2 146.8h1v1h-1zM69.4 121.6h1v1h-1zM60.2 142.1h1v1h-1zM60.6 130.1h1v1h-1zM67.9 131.8h1v1h-1zM62.7 131.8h1v1h-1zM66.3 140.1h1v1h-1zM67.8 138.5h1v1h-1zM71.0 124.2h1v1h-1zM62.5 129.5h1v1h-1zM66.5 139.7h1v1h-1zM61.4 150.8h1v1h-1zM60.2 133.2h1v1h-1zM72.4 135.5h1v1h-1zM66.9 129.3h1v1h-1zM70.1 126.5h1v1h-1zM72.5 122.1h1v1h-1zM62.2 131.6h1v1h-1zM54.0 141.9h1v1h-1zM66.2 127.5h1v1h-1zM64.5 126.0h1v1h-1zM72.9 137.2h1v1h-1zM63.3 132.2h1v1h-1zM68.6 130.2h1v1h-1zM70.4 141.9h1v1h-1zM70.1 119.6h1v1h-1zM71.9 125.7h1v1h-1zM64.9 130.0h1v1h-1zM65.7 148.5h1v1h-1zM63.0 135.3h1v1h-1zM63.4 143.6h1v1h-1zM64.9 137.4h1v1h-1zM66.5 133.4h1v1h-1zM67.0 123.1h1v1h-1zM66.8 128.8h1v1h-1zM59.8 150.7h1v1h-1zM64.0 127.8h1v1h-1zM64.3 140.1h1v1h-1zM59.7 128.3h1v1h-1zM63.4 132.3h1v1h-1zM72.0 124.6h1v1h-1zM77.7 127.6h1v1h-1zM71.1 123.6h1v1h-1zM62.7 134.6h1v1h-1zM63.2 144.6h1v1h-1zM67.7 139.6h1v1h-1zM74.8 135.1h1v1h-1zM63.3 133.9h1v1h-1zM63.4 134.2h1v1h-1zM63.0 148.6h1v1h-1zM53.6 150.7h1v1h-1zM74.0 124.3h1v1h-1zM66.9 137.1h1v1h-1zM65.4 130.7h1v1h-1zM58.9 144.9h1v1h-1zM61.5 123.7h1v1h-1zM60.6 125.0h1v1h-1zM63.7 108.4h1v1h-1zM65.7 133.0h1v1h-1zM73.1 120.6h1v1h-1zM71.0 140.5h1v1h-1zM72.0 113.6h1v1h-1zM65.6 138.1h1v1h-1zM60.5 126.6h1v1h-1zM67.6 132.2h1v1h-1zM59.7 121.3h1v1h-1zM70.6 130.7h1v1h-1zM73.7 137.8h1v1h-1zM70.7 140.0h1v1h-1zM73.4 131.5h1v1h-1zM72.4 133.4h1v1h-1zM68.2 121.0h1v1h-1zM61.4 134.9h1v1h-1zM61.8 127.5h1v1h-1zM63.0 138.5h1v1h-1zM65.1 122.5h1v1h-1zM60.7 136.5h1v1h-1zM64.4 139.4h1v1h-1zM62.0 137.0h1v1h-1zM67.1 147.3h1v1h-1zM67.3 143.8h1v1h-1zM66.2 111.2h1v1h-1zM61.1 136.7h1v1h-1zM64.8 124.5h1v1h-1zM63.6 151.7h1v1h-1zM57.8 136.3h1v1h-1zM67.4 122.1h1v1h-1zM63.3 128.3h1v1h-1zM60.6 123.9h1v1h-1zM65.7 139.8h1v1h-1zM67.0 115.9h1v1h-1zM61.7 147.5h1v1h-1zM60.8 147.2h1v1h-1zM65.8 129.9h1v1h-1zM65.3 131.7h1v1h-1zM72.2 132.3h1v1h-1zM59.6 151.6h1v1h-1zM67.4 138.9h1v1h-1zM64.8 129.9h1v1h-1zM68.5 146.7h1v1h-1zM61.1 135.3h1v1h-1zM65.4 122.5h1v1h-1zM63.5 151.8h1v1h-1zM72.2 145.3h1v1h-1zM61.1 132.3h1v1h-1zM60.6 112.4h1v1h-1zM67.3 127.3h1v1h-1zM63.8 113.2h1v1h-1zM68.9 138.4h1v1h-1zM72.6 145.5h1v1h-1zM63.1 132.1h1v1h-1zM66.8 141.9h1v1h-1zM74.3 114.2h1v1h-1zM61.3 132.3h1v1h-1zM62.8 139.2h1v1h-1zM71.2 128.9h1v1h-1zM65.5 132.4h1v1h-1zM60.0 124.9h1v1h-1zM62.2 122.8h1v1h-1zM63.7 138.9h1v1h-1zM73.8 126.8h1v1h-1zM62.8 140.2h1v1h-1zM69.2 113.3h1v1h-1zM69.3 135.0h1v1h-1zM60.3 142.9h1v1h-1zM65.5 131.1h1v1h-1zM62.7 122.8h1v1h-1zM61.1 142.8h1v1h-1zM68.7 127.0h1v1h-1zM64.1 125.1h1v1h-1zM58.8 121.7h1v1h-1zM77.4 107.8h1v1h-1zM66.7 113.9h1v1h-1zM66.4 120.2h1v1h-1zM65.1 131.8h1v1h-1zM68.8 148.3h1v1h-1zM65.0 117.3h1v1h-1zM51.0 138.2h1v1h-1zM70.9 127.2h1v1h-1zM67.1 119.2h1v1h-1zM67.8 150.2h1v1h-1zM61.2 138.8h1v1h-1zM66.9 137.0h1v1h-1zM65.6 117.4h1v1h-1zM50.9 130.9h1v1h-1zM71.0 124.5h1v1h-1zM66.2 132.4h1v1h-1zM68.0 129.7h1v1h-1zM62.4 127.8h1v1h-1zM61.8 136.0h1v1h-1zM64.2 145.2h1v1h-1zM69.2 131.9h1v1h-1zM60.1 137.4h1v1h-1zM59.0 123.5h1v1h-1zM68.8 112.5h1v1h-1zM63.2 128.1h1v1h-1zM61.1 144.2h1v1h-1zM65.6 129.4h1v1h-1zM70.9 132.9h1v1h-1zM71.8 120.6h1v1h-1zM61.6 137.4h1v1h-1zM61.4 119.5h1v1h-1zM63.3 126.3h1v1h-1zM70.8 132.8h1v1h-1zM63.6 131.3h1v1h-1zM62.1 147.5h1v1h-1zM61.1 132.8h1v1h-1zM67.1 115.7h1v1h-1zM56.7 133.8h1v1h-1zM60.2 125.5h1v1h-1zM69.7 129.8h1v1h-1zM73.7 132.2h1v1h-1zM63.4 144.7h1v1h-1zM62.7 134.0h1v1h-1zM69.6 118.9h1v1h-1zM64.7 140.9h1v1h-1zM64.4 138.2h1v1h-1zM63.7 138.3h1v1h-1zM61.6 136.2h1v1h-1zM63.5 136.3h1v1h-1zM59.0 135.9h1v1h-1zM69.1 125.2h1v1h-1zM63.3 145.6h1v1h-1zM59.4 148.2h1v1h-1zM62.8 138.0h1v1h-1zM57.0 132.0h1v1h-1zM58.2 144.2h1v1h-1zM62.4 127.4h1v1h-1zM75.6 131.0h1v1h-1zM64.7 137.7h1v1h-1zM65.1 135.3h1v1h-1zM78.8 136.1h1v1h-1zM65.5 140.9h1v1h-1zM67.9 137.0h1v1h-1zM69.1 141.6h1v1h-1zM76.9 124.8h1v1h-1zM57.0 131.7h1v1h-1zM63.7 145.5h1v1h-1zM68.4 136.7h1v1h-1zM69.9 136.1h1v1h-1zM70.7 129.0h1v1h-1zM67.9 130.5h1v1h-1zM64.2 137.6h1v1h-1zM68.4 125.0h1v1h-1zM64.0 113.1h1v1h-1zM74.8 138.9h1v1h-1zM71.7 130.5h1v1h-1zM67.3 139.9h1v1h-1zM74.6 136.0h1v1h-1zM65.7 140.2h1v1h-1zM76.0 115.5h1v1h-1zM59.4 141.3h1v1h-1zM68.0 136.1h1v1h-1zM64.3 144.3h1v1h-1zM67.4 142.7h1v1h-1zM70.4 108.0h1v1h-1zM64.4 118.5h1v1h-1zM68.0 138.3h1v1h-1zM64.3 143.2h1v1h-1zM66.7 126.1h1v1h-1zM70.9 133.0h1v1h-1zM60.0 137.4h1v1h-1zM74.6 125.5h1v1h-1zM65.8 151.3h1v1h-1zM63.9 129.2h1v1h-1zM61.3 123.2h1v1h-1zM63.2 143.0h1v1h-1zM63.1 135.7h1v1h-1zM71.2 135.4h1v1h-1zM57.0 139.1h1v1h-1zM68.8 117.0h1v1h-1zM60.4 122.5h1v1h-1zM69.6 126.8h1v1h-1zM62.2 143.7h1v1h-1zM61.2 127.1h1v1h-1zM67.2 122.4h1v1h-1zM75.4 127.5h1v1h-1zM65.9 115.2h1v1h-1zM59.5 141.2h1v1h-1zM64.2 137.7h1v1h-1zM66.8 140.5h1v1h-1zM72.0 142.4h1v1h-1zM62.0 151.4h1v1h-1zM59.0 131.7h1v1h-1zM69.3 133.1h1v1h-1zM70.4 124.8h1v1h-1zM63.2 135.1h1v1h-1zM68.0 113.1h1v1h-1zM63.9 130.9h1v1h-1zM68.9 120.0h1v1h-1zM68.3 121.7h1v1h-1zM60.7 138.7h1v1h-1zM56.2 139.3h1v1h-1zM78.0 123.9h1v1h-1zM66.6 130.3h1v1h-1zM66.8 145.1h1v1h-1zM62.6 136.7h1v1h-1zM67.0 140.6h1v1h-1zM65.6 140.2h1v1h-1zM59.4 143.1h1v1h-1zM62.0 127.6h1v1h-1zM72.9 123.6h1v1h-1zM65.0 138.9h1v1h-1zM58.1 142.6h1v1h-1zM74.1 117.6h1v1h-1zM67.2 134.7h1v1h-1zM66.1 129.1h1v1h-1zM66.1 129.1h1v1h-1zM62.2 134.9h1v1h-1zM64.3 124.0h1v1h-1zM59.8 124.6h1v1h-1zM65.7 138.0h1v1h-1zM66.2 131.8h1v1h-1zM64.9 129.8h1v1h-1zM63.2 150.6h1v1h-1zM69.6 131.2h1v1h-1zM74.6 124.5h1v1h-1zM55.9 127.4h1v1h-1zM62.6 130.0h1v1h-1zM77.4 116.2h1v1h-1zM60.5 137.1h1v1h-1zM57.9 131.5h1v1h-1zM69.0 141.0h1v1h-1zM68.4 123.0h1v1h-1zM70.2 136.9h1v1h-1zM62.6 145.6h1v1h-1zM59.5 133.9h1v1h-1zM66.3 120.8h1v1h-1zM67.5 135.2h1v1h-1zM58.8 122.8h1v1h-1zM66.9 132.8h1v1h-1zM61.0 145.8h1v1h-1zM69.3 140.2h1v1h-1zM69.1 125.4h1v1h-1zM64.2 149.3h1v1h-1zM68.2 118.7h1v1h-1zM61.9 147.2h1v1h-1zM71.6 128.5h1v1h-1zM62.9 123.4h1v1h-1zM64.7 129.6h1v1h-1zM64.1 141.2h1v1h-1zM67.2 140.4h1v1h-1zM57.1 143.3h1v1h-1zM72.4 119.1h1v1h-1zM77.2 117.3h1v1h-1zM74.3 125.9h1v1h-1zM63.9 130.0h1v1h-1zM61.3 129.0h1v1h-1zM63.8 131.9h1v1h-1zM61.8 136.8h1v1h-1zM71.1 132.1h1v1h-1zM62.7 132.4h1v1h-1zM70.6 132.1h1v1h-1zM60.2 151.0h1v1h-1zM59.3 127.1h1v1h-1zM65.7 128.8h1v1h-1zM71.6 127.2h1v1h-1zM68.6 136.3h1v1h-1zM57.9 131.9h1v1h-1zM65.6 127.9h1v1h-1zM60.7 137.5h1v1h-1zM76.3 134.9h1v1h-1zM66.6 120.6h1v1h-1zM64.9 132.5h1v1h-1zM55.3 132.1h1v1h-1zM63.9 122.4h1v1h-1zM65.6 136.7h1v1h-1zM68.3 133.9h1v1h-1zM63.5 120.2h1v1h-1zM71.1 129.1h1v1h-1zM70.2 123.0h1v1h-1zM69.1 130.8h1v1h-1zM66.5 129.0h1v1h-1zM69.0 128.0h1v1h-1zM63.3 135.3h1v1h-1zM68.4 140.7h1v1h-1zM66.1 126.0h1v1h-1zM67.0 135.1h1v1h-1zM66.0 137.5h1v1h-1zM71.1 133.6h1v1h-1zM57.7 149.0h1v1h-1zM67.6 130.2h1v1h-1zM63.7 146.5h1v1h-1zM65.3 141.2h1v1h-1zM62.8 134.9h1v1h-1zM62.2 132.4h1v1h-1zM62.4 139.4h1v1h-1zM65.0 120.2h1v1h-1zM74.1 119.6h1v1h-1zM62.4 135.1h1v1h-1zM70.7 122.9h1v1h-1zM57.8 138.3h1v1h-1zM62.4 128.2h1v1h-1zM69.3 136.0h1v1h-1zM77.0 129.2h1v1h-1zM78.5 127.3h1v1h-1zM65.7 115.8h1v1h-1zM63.4 138.8h1v1h-1zM73.6 129.0h1v1h-1zM68.5 143.1h1v1h-1zM75.2 118.7h1v1h-1zM67.9 125.4h1v1h-1zM63.6 138.8h1v1h-1zM58.1 134.2h1v1h-1zM72.4 121.5h1v1h-1zM70.8 123.7h1v1h-1zM61.4 147.6h1v1h-1zM69.4 129.5h1v1h-1zM71.1 132.6h1v1h-1zM61.6 131.5h1v1h-1zM63.3 149.6h1v1h-1zM63.0 142.8h1v1h-1zM60.5 141.3h1v1h-1zM70.9 108.6h1v1h-1zM74.9 131.6h1v1h-1zM71.9 130.2h1v1h-1zM65.7 150.3h1v1h-1zM62.9 150.9h1v1h-1zM73.9 150.8h1v1h-1zM66.8 149.9h1v1h-1zM64.9 151.1h1v1h-1zM61.1 142.7h1v1h-1zM66.8 150.6h1v1h-1zM68.3 150.6h1v1h-1zM65.0 144.6h1v1h-1zM59.5 148.6h1v1h-1zM61.8 145.2h1v1h-1zM68.7 140.6h1v1h-1zM65.2 137.6h1v1h-1zM57.7 138.6h1v1h-1zM61.8 143.4h1v1h-1zM62.6 146.7h1v1h-1zM57.9 145.2h1v1h-1zM75.3 146.4h1v1h-1zM63.2 147.1h1v1h-1zM67.5 148.1h1v1h-1zM63.3 146.1h1v1h-1zM71.0 142.5h1v1h-1zM57.1 150.1h1v1h-1zM63.4 143.0h1v1h-1zM69.0 148.1h1v1h-1zM75.9 147.9h1v1h-1zM71.6 140.3h1v1h-1zM72.7 146.1h1v1h-1zM66.7 151.0h1v1h-1zM52.8 150.0h1v1h-1zM67.6 142.0h1v1h-1zM62.7 142.1h1v1h-1zM66.7 139.8h1v1h-1zM53.9 151.0h1v1h-1zM57.6 151.5h1v1h-1zM73.0 151.5h1v1h-1zM58.4 149.0h1v1h-1zM68.5 149.3h1v1h-1zM67.7 144.5h1v1h-1zM59.5 151.3h1v1h-1zM57.9 151.7h1v1h-1zM73.0 150.5h1v1h-1zM57.0 145.3h1v1h-1zM63.6 151.6h1v1h-1zM69.8 142.7h1v1h-1zM65.0 150.7h1v1h-1zM58.1 151.3h1v1h-1zM65.6 145.2h1v1h-1zM57.9 147.0h1v1h-1zM82.7 150.9h1v1h-1zM53.2 144.2h1v1h-1zM60.8 149.5h1v1h-1zM67.0 147.7h1v1h-1zM69.2 144.6h1v1h-1zM70.2 146.5h1v1h-1zM50.5 140.6h1v1h-1zM53.2 142.1h1v1h-1zM64.8 151.4h1v1h-1zM63.7 142.9h1v1h-1zM57.3 146.9h1v1h-1zM58.9 151.6h1v1h-1zM59.6 141.0h1v1h-1zM67.4 147.2h1v1h-1zM62.8 146.5h1v1h-1zM65.0 146.2h1v1h-1zM53.1 142.7h1v1h-1zM58.2 151.1h1v1h-1zM67.5 150.7h1v1h-1zM62.5 147.6h1v1h-1zM59.8 144.6h1v1h-1zM61.7 148.4h1v1h-1zM57.6 148.5h1v1h-1zM57.2 146.9h1v1h-1zM71.1 142.3h1v1h-1zM65.8 151.0h1v1h-1zM69.4 142.7h1v1h-1zM75.5 151.7h1v1h-1zM63.4 148.7h1v1h-1zM69.8 151.3h1v1h-1zM61.0 136.0h1v1h-1zM69.2 151.5h1v1h-1zM63.4 140.6h1v1h-1zM59.6 144.3h1v1h-1zM63.9 150.8h1v1h-1zM59.6 141.7h1v1h-1zM70.3 150.0h1v1h-1zM70.0 150.5h1v1h-1zM64.8 147.2h1v1h-1zM55.9 145.6h1v1h-1zM61.0 151.3h1v1h-1zM58.4 151.2h1v1h-1zM58.3 151.3h1v1h-1zM59.2 150.7h1v1h-1zM68.6 146.8h1v1h-1zM64.8 148.4h1v1h-1zM63.7 148.4h1v1h-1zM56.8 151.4h1v1h-1zM63.7 142.3h1v1h-1zM64.7 139.4h1v1h-1zM55.2 148.4h1v1h-1zM59.6 141.2h1v1h-1zM73.4 149.6h1v1h-1zM67.6 148.3h1v1h-1zM57.4 147.7h1v1h-1zM57.1 139.7h1v1h-1zM66.8 141.4h1v1h-1zM65.4 151.3h1v1h-1zM68.1 146.7h1v1h-1zM49.1 146.7h1v1h-1zM69.3 138.9h1v1h-1zM57.2 143.4h1v1h-1zM65.3 148.0h1v1h-1zM61.6 144.6h1v1h-1zM66.7 144.0h1v1h-1zM60.9 150.6h1v1h-1zM71.1 140.9h1v1h-1zM59.9 147.3h1v1h-1zM68.1 151.4h1v1h-1zM66.3 135.5h1v1h-1zM64.9 150.5h1v1h-1zM75.4 147.1h1v1h-1zM64.6 149.2h1v1h-1zM64.4 151.1h1v1h-1zM55.7 151.0h1v1h-1zM68.7 147.6h1v1h-1zM70.1 151.4h1v1h-1zM59.7 140.2h1v1h-1zM58.6 151.0h1v1h-1zM58.9 148.8h1v1h-1zM63.2 140.9h1v1h-1zM71.2 139.7h1v1h-1zM66.8 149.6h1v1h-1zM60.4 151.3h1v1h-1zM70.9 141.1h1v1h-1zM63.8 151.5h1v1h-1zM67.3 144.8h1v1h-1zM64.2 150.8h1v1h-1zM64.7 149.9h1v1h-1zM67.7 144.3h1v1h-1zM65.9 149.2h1v1h-1zM72.3 143.4h1v1h-1zM70.8 143.1h1v1h-1zM67.2 145.3h1v1h-1zM57.0 151.1h1v1h-1zM57.7 144.2h1v1h-1zM68.7 146.3h1v1h-1zM63.8 138.3h1v1h-1zM60.9 150.9h1v1h-1zM54.1 148.7h1v1h-1zM67.5 143.6h1v1h-1zM62.0 143.2h1v1h-1zM63.0 150.7h1v1h-1zM61.1 143.5h1v1h-1zM69.0 151.1h1v1h-1zM57.4 146.6h1v1h-1zM75.9 151.0h1v1h-1zM55.9 145.2h1v1h-1zM66.3 150.1h1v1h-1zM63.1 144.8h1v1h-1zM53.0 147.3h1v1h-1zM66.9 142.7h1v1h-1zM70.2 147.5h1v1h-1zM54.8 140.7h1v1h-1zM67.9 150.2h1v1h-1zM69.4 142.2h1v1h-1zM62.5 151.3h1v1h-1zM60.5 150.8h1v1h-1zM58.3 147.6h1v1h-1zM56.9 145.3h1v1h-1zM74.5 151.6h1v1h-1zM69.5 149.7h1v1h-1zM66.5 147.8h1v1h-1zM70.9 150.6h1v1h-1zM67.6 150.9h1v1h-1zM64.7 147.2h1v1h-1zM69.7 151.4h1v1h-1zM55.3 140.5h1v1h-1zM65.6 139.0h1v1h-1zM57.2 146.2h1v1h-1zM66.9 138.7h1v1h-1zM63.0 149.3h1v1h-1zM67.5 147.7h1v1h-1zM58.9 143.5h1v1h-1zM52.0 151.4h1v1h-1zM71.4 149.6h1v1h-1zM61.4 145.4h1v1h-1zM69.9 144.6h1v1h-1zM57.6 149.9h1v1h-1zM69.5 147.7h1v1h-1zM59.6 143.0h1v1h-1zM70.0 136.7h1v1h-1zM56.9 150.6h1v1h-1zM59.2 145.5h1v1h-1zM60.5 141.8h1v1h-1zM47.4 142.5h1v1h-1zM59.5 148.5h1v1h-1zM66.7 146.2h1v1h-1zM57.3 139.9h1v1h-1zM66.7 149.5h1v1h-1zM64.5 151.8h1v1h-1zM56.1 148.6h1v1h-1zM65.5 146.7h1v1h-1zM58.7 150.9h1v1h-1zM53.4 139.5h1v1h-1zM65.5 151.0h1v1h-1zM70.3 144.6h1v1h-1zM60.9 150.1h1v1h-1zM70.0 145.6h1v1h-1zM72.9 145.4h1v1h-1zM59.9 150.1h1v1h-1zM59.2 146.0h1v1h-1zM64.8 144.2h1v1h-1zM66.0 151.2h1v1h-1zM62.1 151.7h1v1h-1zM66.1 151.2h1v1h-1zM59.9 151.3h1v1h-1zM59.7 148.4h1v1h-1zM72.2 148.4h1v1h-1zM54.9 148.6h1v1h-1zM67.7 144.5h1v1h-1zM64.7 137.6h1v1h-1zM69.8 146.7h1v1h-1zM70.5 150.9h1v1h-1zM62.3 151.4h1v1h-1zM64.3 139.4h1v1h-1zM60.4 139.5h1v1h-1zM57.3 140.3h1v1h-1zM53.3 151.3h1v1h-1zM69.2 147.6h1v1h-1zM64.2 147.2h1v1h-1zM64.4 148.0h1v1h-1zM57.6 148.6h1v1h-1zM64.0 151.5h1v1h-1zM66.0 138.7h1v1h-1zM53.7 149.8h1v1h-1zM61.7 147.1h1v1h-1zM63.9 150.7h1v1h-1zM63.1 147.1h1v1h-1zM62.8 139.7h1v1h-1zM64.1 151.7h1v1h-1zM54.1 144.3h1v1h-1zM61.3 150.2h1v1h-1zM55.3 148.7h1v1h-1zM62.8 150.5h1v1h-1zM61.2 142.9h1v1h-1zM67.9 144.5h1v1h-1zM62.3 151.6h1v1h-1zM67.9 140.0h1v1h-1zM70.8 141.6h1v1h-1zM64.9 145.4h1v1h-1zM63.2 141.1h1v1h-1zM61.7 136.8h1v1h-1zM67.9 148.7h1v1h-1zM63.3 150.9h1v1h-1zM59.0 148.6h1v1h-1zM77.7 151.1h1v1h-1zM68.7 146.8h1v1h-1zM61.6 144.2h1v1h-1zM51.6 142.6h1v1h-1zM74.7 145.7h1v1h-1zM62.9 146.4h1v1h-1zM67.2 149.5h1v1h-1zM64.0 144.7h1v1h-1zM61.3 145.3h1v1h-1zM65.3 143.7h1v1h-1zM57.5 149.8h1v1h-1zM60.8 141.4h1v1h-1zM64.8 151.7h1v1h-1zM55.8 137.8h1v1h-1zM65.3 150.8h1v1h-1zM58.0 146.5h1v1h-1zM71.7 139.4h1v1h-1zM61.2 148.6h1v1h-1zM74.6 151.2h1v1h-1zM72.5 145.5h1v1h-1zM63.9 141.0h1v1h-1zM66.1 151.2h1v1h-1zM54.4 147.1h1v1h-1zM66.3 140.6h1v1h-1zM48.0 140.7h1v1h-1zM66.9 139.9h1v1h-1zM68.0 146.1h1v1h-1zM65.8 145.3h1v1h-1zM59.6 147.7h1v1h-1zM64.1 149.3h1v1h-1zM54.7 150.6h1v1h-1zM66.3 144.7h1v1h-1zM63.9 150.8h1v1h-1zM68.3 149.1h1v1h-1zM51.1 139.6h1v1h-1zM54.5 136.3h1v1h-1zM66.4 149.3h1v1h-1zM49.5 150.6h1v1h-1zM72.0 140.6h1v1h-1zM64.8 151.3h1v1h-1zM61.1 148.5h1v1h-1zM66.0 147.8h1v1h-1zM65.3 151.4h1v1h-1zM59.5 140.2h1v1h-1zM54.8 142.7h1v1h-1zM70.0 101.4h1v1h-1zM35.1 96.4h1v1h-1zM30.7 100.8h1v1h-1zM44.3 96.9h1v1h-1zM59.3 103.2h1v1h-1zM65.1 99.4h1v1h-1zM43.7 108.4h1v1h-1zM71.4 107.0h1v1h-1zM52.1 104.4h1v1h-1zM43.7 111.7h1v1h-1zM46.8 104.1h1v1h-1zM57.5 106.7h1v1h-1zM33.5 108.3h1v1h-1zM47.8 102.2h1v1h-1zM55.0 105.9h1v1h-1zM53.3 103.1h1v1h-1zM64.1 104.7h1v1h-1zM49.6 100.7h1v1h-1zM59.7 109.0h1v1h-1zM43.7 104.7h1v1h-1zM28.7 95.7h1v1h-1zM58.3 104.0h1v1h-1zM79.9 98.7h1v1h-1zM67.3 96.5h1v1h-1zM56.7 111.4h1v1h-1zM62.6 102.2h1v1h-1zM36.9 102.7h1v1h-1zM55.3 98.8h1v1h-1zM49.9 106.4h1v1h-1zM55.4 107.9h1v1h-1zM47.5 99.5h1v1h-1zM34.6 100.8h1v1h-1zM29.7 107.3h1v1h-1zM36.6 103.4h1v1h-1zM54.9 104.2h1v1h-1zM56.8 103.5h1v1h-1zM46.3 100.9h1v1h-1zM46.0 102.7h1v1h-1zM58.0 107.1h1v1h-1zM59.1 109.9h1v1h-1zM46.1 112.5h1v1h-1zM43.2 95.0h1v1h-1zM51.6 97.1h1v1h-1zM34.3 108.0h1v1h-1zM52.6 99.5h1v1h-1zM56.1 112.7h1v1h-1zM53.0 104.2h1v1h-1zM49.3 101.1h1v1h-1zM45.6 112.2h1v1h-1zM38.1 110.5h1v1h-1zM35.8 103.6h1v1h-1zM60.5 108.0h1v1h-1zM41.0 109.1h1v1h-1zM31.9 102.3h1v1h-1zM43.6 104.6h1v1h-1zM39.1 100.5h1v1h-1zM36.8 100.1h1v1h-1zM42.0 99.1h1v1h-1zM39.8 100.8h1v1h-1zM52.4 104.2h1v1h-1zM63.6 103.5h1v1h-1zM39.8 99.5h1v1h-1zM40.4 105.9h1v1h-1zM48.3 102.6h1v1h-1zM64.3 113.6h1v1h-1zM45.8 97.5h1v1h-1zM46.7 101.8h1v1h-1zM62.6 110.8h1v1h-1zM48.6 99.4h1v1h-1zM42.7 112.4h1v1h-1zM38.8 102.0h1v1h-1zM50.0 94.0h1v1h-1zM60.7 112.3h1v1h-1zM58.0 99.3h1v1h-1zM63.5 105.2h1v1h-1zM42.9 102.5h1v1h-1zM62.8 101.1h1v1h-1zM64.2 100.4h1v1h-1zM42.6 108.5h1v1h-1zM65.7 112.4h1v1h-1zM44.9 105.0h1v1h-1zM39.6 106.1h1v1h-1zM48.3 91.2h1v1h-1zM47.6 106.3h1v1h-1zM49.4 98.7h1v1h-1zM40.5 105.2h1v1h-1zM31.7 99.0h1v1h-1zM54.6 96.1h1v1h-1zM36.9 91.6h1v1h-1zM56.5 105.5h1v1h-1zM44.5 105.0h1v1h-1zM36.7 98.9h1v1h-1zM42.4 107.0h1v1h-1zM53.1 103.2h1v1h-1zM42.7 104.5h1v1h-1zM43.5 96.3h1v1h-1zM57.7 107.9h1v1h-1zM47.8 96.4h1v1h-1zM45.5 94.1h1v1h-1zM52.4 100.3h1v1h-1zM28.5 98.0h1v1h-1zM51.4 100.7h1v1h-1zM52.8 101.1h1v1h-1zM43.4 98.6h1v1h-1zM48.8 109.1h1v1h-1zM38.6 102.2h1v1h-1zM51.4 115.3h1v1h-1zM28.7 97.0h1v1h-1zM48.1 88.6h1v1h-1zM33.7 104.0h1v1h-1zM42.5 100.3h1v1h-1zM61.5 95.9h1v1h-1zM38.6 96.6h1v1h-1zM36.7 101.3h1v1h-1zM49.8 100.4h1v1h-1zM40.6 96.1h1v1h-1zM47.6 103.6h1v1h-1zM45.7 109.0h1v1h-1zM55.0 102.2h1v1h-1zM52.5 94.0h1v1h-1zM40.0 104.6h1v1h-1zM48.3 99.1h1v1h-1zM46.5 98.6h1v1h-1zM52.5 113.0h1v1h-1zM41.7 113.8h1v1h-1zM45.5 105.6h1v1h-1zM53.8 103.0h1v1h-1zM47.6 96.9h1v1h-1zM53.8 110.3h1v1h-1zM41.7 101.5h1v1h-1zM64.3 105.5h1v1h-1zM46.6 102.1h1v1h-1zM55.6 104.4h1v1h-1zM51.0 105.9h1v1h-1zM43.0 107.4h1v1h-1zM54.4 106.8h1v1h-1zM53.4 101.7h1v1h-1zM57.4 118.1h1v1h-1zM39.0 109.4h1v1h-1zM46.6 99.3h1v1h-1zM72.2 96.8h1v1h-1zM61.1 102.3h1v1h-1zM44.5 100.5h1v1h-1zM29.1 97.5h1v1h-1zM48.3 100.3h1v1h-1zM38.4 108.8h1v1h-1zM42.1 103.4h1v1h-1zM51.5 105.6h1v1h-1zM51.5 100.2h1v1h-1zM37.2 103.5h1v1h-1zM33.4 105.6h1v1h-1zM56.8 107.8h1v1h-1zM65.9 101.9h1v1h-1zM56.6 103.5h1v1h-1zM56.4 98.3h1v1h-1zM49.2 106.4h1v1h-1zM43.0 93.1h1v1h-1zM46.5 105.9h1v1h-1zM41.5 112.0h1v1h-1zM43.5 101.6h1v1h-1zM43.6 107.3h1v1h-1zM52.1 101.4h1v1h-1zM44.1 101.7h1v1h-1zM39.0 98.5h1v1h-1zM38.8 104.8h1v1h-1zM49.5 105.8h1v1h-1zM37.3 91.9h1v1h-1zM62.6 113.5h1v1h-1zM49.3 110.3h1v1h-1zM51.2 110.6h1v1h-1zM53.7 101.1h1v1h-1zM64.4 98.1h1v1h-1zM43.9 98.3h1v1h-1zM43.8 103.9h1v1h-1zM43.5 112.5h1v1h-1zM53.9 114.6h1v1h-1zM46.0 100.7h1v1h-1zM49.3 111.9h1v1h-1zM42.0 99.6h1v1h-1zM58.6 95.8h1v1h-1zM31.0 100.2h1v1h-1zM43.6 99.3h1v1h-1zM32.2 103.4h1v1h-1zM54.9 107.3h1v1h-1zM44.8 108.5h1v1h-1zM58.8 111.1h1v1h-1zM39.5 104.8h1v1h-1zM45.2 92.3h1v1h-1zM50.8 108.1h1v1h-1zM53.7 102.1h1v1h-1zM50.9 104.0h1v1h-1zM52.6 110.0h1v1h-1zM36.8 105.2h1v1h-1zM37.7 99.3h1v1h-1zM66.6 98.1h1v1h-1zM52.4 102.0h1v1h-1zM41.7 110.0h1v1h-1zM53.4 111.6h1v1h-1zM51.1 104.5h1v1h-1zM55.3 103.7h1v1h-1zM49.2 106.7h1v1h-1zM31.9 104.5h1v1h-1zM54.8 98.4h1v1h-1zM61.3 109.5h1v1h-1zM39.3 99.4h1v1h-1zM43.9 89.8h1v1h-1zM51.2 111.7h1v1h-1zM42.9 95.0h1v1h-1zM30.9 101.8h1v1h-1zM35.0 94.4h1v1h-1zM44.0 108.7h1v1h-1zM32.0 106.4h1v1h-1zM28.7 104.7h1v1h-1zM68.9 104.2h1v1h-1zM45.7 109.5h1v1h-1zM51.4 106.2h1v1h-1zM40.2 95.8h1v1h-1zM52.4 108.5h1v1h-1zM62.2 104.6h1v1h-1zM53.0 103.0h1v1h-1zM59.4 100.9h1v1h-1zM44.9 99.6h1v1h-1zM44.5 102.6h1v1h-1zM63.8 110.0h1v1h-1zM38.4 105.1h1v1h-1zM43.5 96.4h1v1h-1zM33.1 90.6h1v1h-1zM63.2 106.8h1v1h-1zM50.0 105.6h1v1h-1zM54.6 100.4h1v1h-1zM55.3 99.9h1v1h-1zM66.5 105.5h1v1h-1zM54.8 104.9h1v1h-1zM48.6 102.4h1v1h-1zM47.7 101.7h1v1h-1zM40.1 103.9h1v1h-1zM42.5 109.4h1v1h-1zM41.5 105.8h1v1h-1zM46.8 111.7h1v1h-1zM45.8 109.4h1v1h-1zM40.4 102.1h1v1h-1zM58.7 102.6h1v1h-1zM43.6 105.6h1v1h-1zM60.9 112.8h1v1h-1zM59.0 112.1h1v1h-1zM42.2 103.0h1v1h-1zM46.1 94.7h1v1h-1zM52.9 104.1h1v1h-1zM57.3 103.9h1v1h-1zM40.5 97.2h1v1h-1zM62.4 97.6h1v1h-1zM37.0 92.9h1v1h-1zM44.2 99.3h1v1h-1zM59.5 91.7h1v1h-1zM32.8 108.1h1v1h-1zM59.4 101.6h1v1h-1zM45.2 118.8h1v1h-1zM52.4 104.8h1v1h-1zM29.1 88.1h1v1h-1zM29.4 105.2h1v1h-1zM48.1 102.3h1v1h-1zM55.4 105.4h1v1h-1zM39.7 105.0h1v1h-1zM28.2 108.3h1v1h-1zM67.0 108.2h1v1h-1zM47.4 93.5h1v1h-1zM58.2 103.5h1v1h-1zM55.2 105.4h1v1h-1zM39.6 97.8h1v1h-1zM49.5 95.2h1v1h-1zM45.7 105.4h1v1h-1zM51.5 104.7h1v1h-1zM45.2 108.1h1v1h-1zM50.6 102.0h1v1h-1zM65.6 104.7h1v1h-1zM31.5 100.2h1v1h-1zM70.0 107.1h1v1h-1zM40.6 104.0h1v1h-1zM29.1 103.8h1v1h-1zM46.4 111.4h1v1h-1zM53.7 108.5h1v1h-1zM30.6 106.4h1v1h-1zM54.2 93.7h1v1h-1zM60.1 103.2h1v1h-1zM43.3 104.7h1v1h-1zM57.4 106.8h1v1h-1zM52.2 98.7h1v1h-1zM39.6 106.2h1v1h-1zM52.5 103.8h1v1h-1zM47.0 106.3h1v1h-1zM47.6 93.7h1v1h-1zM61.1 112.8h1v1h-1zM48.6 103.1h1v1h-1zM48.5 110.9h1v1h-1zM47.0 102.7h1v1h-1zM41.7 101.5h1v1h-1zM28.8 110.2h1v1h-1zM49.2 101.5h1v1h-1zM46.6 105.9h1v1h-1zM50.0 97.9h1v1h-1zM56.8 104.5h1v1h-1zM43.8 97.7h1v1h-1zM53.4 99.2h1v1h-1zM45.6 108.0h1v1h-1zM50.0 107.0h1v1h-1zM59.2 99.7h1v1h-1zM29.1 98.9h1v1h-1zM60.9 98.8h1v1h-1zM43.7 107.9h1v1h-1zM57.4 98.7h1v1h-1zM48.8 109.7h1v1h-1zM33.6 101.3h1v1h-1zM40.3 106.7h1v1h-1zM52.4 98.2h1v1h-1zM28.5 106.0h1v1h-1zM60.6 104.5h1v1h-1zM44.9 100.0h1v1h-1zM37.3 109.4h1v1h-1zM48.4 95.3h1v1h-1zM57.9 104.1h1v1h-1zM57.8 106.3h1v1h-1zM37.0 111.8h1v1h-1zM50.8 98.9h1v1h-1zM51.7 104.0h1v1h-1zM44.4 97.6h1v1h-1zM47.8 111.1h1v1h-1zM61.3 107.7h1v1h-1zM51.9 103.7h1v1h-1zM58.2 102.8h1v1h-1zM59.9 103.1h1v1h-1zM43.8 106.0h1v1h-1zM54.4 108.3h1v1h-1zM57.0 105.3h1v1h-1zM39.4 107.7h1v1h-1zM46.8 94.1h1v1h-1zM55.6 103.9h1v1h-1zM39.6 93.0h1v1h-1zM45.5 103.4h1v1h-1zM44.2 96.3h1v1h-1zM49.9 106.1h1v1h-1zM50.0 108.9h1v1h-1zM38.2 103.9h1v1h-1zM28.8 95.8h1v1h-1zM67.2 110.5h1v1h-1zM46.8 111.8h1v1h-1zM49.8 102.5h1v1h-1zM55.3 111.0h1v1h-1zM42.5 106.7h1v1h-1zM45.9 91.3h1v1h-1zM46.3 103.7h1v1h-1zM43.4 99.1h1v1h-1zM72.6 98.8h1v1h-1zM62.8 110.1h1v1h-1zM58.3 104.0h1v1h-1zM60.1 98.6h1v1h-1zM54.4 112.8h1v1h-1zM49.5 106.3h1v1h-1zM52.5 103.6h1v1h-1zM58.2 112.6h1v1h-1zM41.1 103.6h1v1h-1zM51.3 105.9h1v1h-1zM47.9 103.2h1v1h-1zM58.2 104.7h1v1h-1zM50.5 113.3h1v1h-1zM28.9 109.9h1v1h-1zM51.6 116.0h1v1h-1zM52.1 104.3h1v1h-1zM48.2 107.4h1v1h-1zM44.2 98.9h1v1h-1zM51.6 103.9h1v1h-1zM43.5 102.2h1v1h-1zM59.6 104.3h1v1h-1zM44.7 109.6h1v1h-1zM49.1 108.5h1v1h-1zM34.5 98.2h1v1h-1zM42.2 114.0h1v1h-1zM41.3 93.4h1v1h-1zM47.2 110.5h1v1h-1zM37.7 99.2h1v1h-1zM52.1 102.6h1v1h-1zM46.3 100.9h1v1h-1zM62.9 101.8h1v1h-1zM46.6 110.9h1v1h-1zM52.4 95.5h1v1h-1zM54.4 110.6h1v1h-1zM50.0 96.8h1v1h-1zM42.1 100.6h1v1h-1zM59.8 95.5h1v1h-1zM33.0 112.0h1v1h-1zM51.8 100.0h1v1h-1zM44.8 103.5h1v1h-1zM44.3 97.0h1v1h-1zM28.7 101.0h1v1h-1zM36.0 106.5h1v1h-1zM33.5 107.6h1v1h-1zM48.0 103.4h1v1h-1zM65.3 105.7h1v1h-1zM51.5 101.9h1v1h-1zM50.7 95.9h1v1h-1zM49.5 102.8h1v1h-1zM47.1 103.5h1v1h-1zM47.7 98.2h1v1h-1zM48.4 103.2h1v1h-1zM47.7 99.5h1v1h-1zM43.7 98.3h1v1h-1zM42.7 99.6h1v1h-1zM66.6 103.3h1v1h-1zM47.4 109.8h1v1h-1zM55.3 103.9h1v1h-1zM56.9 107.5h1v1h-1zM53.2 94.2h1v1h-1zM52.0 105.5h1v1h-1zM35.7 102.9h1v1h-1zM54.5 100.7h1v1h-1zM37.5 108.4h1v1h-1zM38.9 108.5h1v1h-1zM45.6 102.0h1v1h-1zM66.6 103.5h1v1h-1zM62.1 113.1h1v1h-1zM63.0 100.1h1v1h-1zM52.4 99.4h1v1h-1zM54.1 93.7h1v1h-1zM55.9 113.3h1v1h-1zM31.5 94.0h1v1h-1zM47.4 96.5h1v1h-1zM44.9 106.9h1v1h-1zM44.9 101.7h1v1h-1zM50.0 107.0h1v1h-1zM53.3 100.6h1v1h-1zM39.4 109.0h1v1h-1zM29.4 104.1h1v1h-1zM48.3 107.3h1v1h-1zM42.4 103.9h1v1h-1zM48.5 100.5h1v1h-1zM56.2 101.7h1v1h-1zM58.9 109.3h1v1h-1zM54.0 101.9h1v1h-1zM38.2 106.6h1v1h-1zM52.4 103.4h1v1h-1zM36.1 105.8h1v1h-1zM62.8 99.9h1v1h-1zM49.0 96.4h1v1h-1zM39.5 104.0h1v1h-1zM57.4 105.9h1v1h-1zM37.5 99.8h1v1h-1zM63.6 117.9h1v1h-1zM49.7 110.3h1v1h-1zM45.3 110.9h1v1h-1zM73.1 108.6h1v1h-1zM48.6 107.3h1v1h-1zM38.7 105.5h1v1h-1zM50.2 94.3h1v1h-1zM50.9 95.4h1v1h-1zM38.0 102.6h1v1h-1zM44.0 111.7h1v1h-1zM84.0 106.9h1v1h-1zM50.5 107.7h1v1h-1zM42.7 108.8h1v1h-1zM58.0 106.3h1v1h-1zM46.8 102.5h1v1h-1zM36.4 101.7h1v1h-1zM46.6 101.1h1v1h-1zM44.5 103.1h1v1h-1zM53.2 98.7h1v1h-1zM41.6 98.0h1v1h-1zM38.7 104.0h1v1h-1zM49.4 102.9h1v1h-1zM29.3 107.4h1v1h-1zM46.4 98.5h1v1h-1zM41.4 95.1h1v1h-1zM30.9 102.2h1v1h-1zM53.4 103.8h1v1h-1zM50.7 98.7h1v1h-1zM40.5 100.0h1v1h-1zM58.4 105.4h1v1h-1zM29.4 108.7h1v1h-1zM40.0 108.7h1v1h-1zM52.3 108.1h1v1h-1zM72.0 101.8h1v1h-1zM35.7 104.4h1v1h-1zM62.9 100.7h1v1h-1zM38.4 97.5h1v1h-1zM43.6 91.5h1v1h-1zM42.9 100.1h1v1h-1zM53.6 106.2h1v1h-1zM46.7 97.3h1v1h-1zM53.0 104.1h1v1h-1zM52.5 94.5h1v1h-1zM57.1 101.5h1v1h-1zM51.4 112.1h1v1h-1zM49.5 106.2h1v1h-1zM55.2 107.2h1v1h-1zM52.5 109.4h1v1h-1zM56.8 107.9h1v1h-1zM47.9 100.5h1v1h-1zM45.1 103.3h1v1h-1zM58.4 94.7h1v1h-1zM30.9 107.4h1v1h-1zM54.7 98.9h1v1h-1zM43.6 102.8h1v1h-1zM46.3 91.3h1v1h-1zM46.3 109.8h1v1h-1zM33.3 109.5h1v1h-1zM60.7 106.3h1v1h-1zM66.9 101.2h1v1h-1zM51.9 100.3h1v1h-1zM55.8 99.1h1v1h-1zM38.8 106.0h1v1h-1zM42.9 102.7h1v1h-1zM45.8 110.0h1v1h-1zM41.5 93.7h1v1h-1zM68.6 109.3h1v1h-1zM51.8 104.0h1v1h-1zM40.1 99.3h1v1h-1zM47.5 94.6h1v1h-1zM52.6 105.5h1v1h-1zM28.9 102.7h1v1h-1zM56.3 107.8h1v1h-1zM56.7 100.4h1v1h-1zM31.3 103.7h1v1h-1zM51.3 99.7h1v1h-1zM49.7 103.7h1v1h-1zM44.9 104.9h1v1h-1zM48.2 109.2h1v1h-1zM54.4 105.6h1v1h-1zM53.2 106.5h1v1h-1zM52.1 103.1h1v1h-1zM56.7 101.6h1v1h-1zM57.1 104.9h1v1h-1zM47.7 104.9h1v1h-1zM36.2 103.6h1v1h-1zM58.6 100.0h1v1h-1zM40.0 101.5h1v1h-1zM55.4 111.2h1v1h-1zM51.5 102.0h1v1h-1zM55.4 102.6h1v1h-1zM31.5 113.4h1v1h-1zM67.2 106.7h1v1h-1zM60.4 97.5h1v1h-1zM49.0 109.7h1v1h-1zM61.3 104.5h1v1h-1zM53.2 101.3h1v1h-1zM57.3 98.7h1v1h-1zM34.6 110.3h1v1h-1zM49.6 103.6h1v1h-1zM55.7 104.7h1v1h-1zM46.5 92.7h1v1h-1zM61.4 98.1h1v1h-1zM58.1 108.3h1v1h-1zM47.4 103.9h1v1h-1zM37.7 107.6h1v1h-1zM49.7 110.1h1v1h-1zM53.4 101.3h1v1h-1zM45.9 105.2h1v1h-1zM54.0 101.3h1v1h-1zM51.7 110.3h1v1h-1zM32.6 91.8h1v1h-1zM41.9 105.2h1v1h-1zM30.7 106.8h1v1h-1zM41.2 98.9h1v1h-1zM28.9 109.6h1v1h-1zM44.2 105.9h1v1h-1zM40.8 105.5h1v1h-1zM33.1 101.3h1v1h-1zM59.7 103.4h1v1h-1zM43.1 96.6h1v1h-1zM52.9 109.3h1v1h-1zM42.7 106.5h1v1h-1zM47.8 97.1h1v1h-1zM41.4 104.0h1v1h-1zM49.3 109.9h1v1h-1zM43.6 100.0h1v1h-1zM59.1 114.1h1v1h-1zM55.0 105.5h1v1h-1zM60.6 100.9h1v1h-1zM67.1 103.0h1v1h-1zM44.4 107.8h1v1h-1zM34.5 99.8h1v1h-1zM53.1 99.5h1v1h-1zM51.6 111.7h1v1h-1zM44.3 104.6h1v1h-1zM49.7 99.6h1v1h-1zM61.8 102.8h1v1h-1zM28.4 107.9h1v1h-1zM28.3 106.5h1v1h-1zM36.7 101.6h1v1h-1zM46.1 97.5h1v1h-1zM58.6 106.6h1v1h-1zM57.3 104.0h1v1h-1zM52.6 96.7h1v1h-1zM37.2 103.3h1v1h-1zM63.0 108.4h1v1h-1zM50.3 103.0h1v1h-1zM44.2 110.3h1v1h-1zM41.6 108.4h1v1h-1zM58.6 102.8h1v1h-1zM54.9 110.2h1v1h-1zM53.0 103.1h1v1h-1zM58.3 107.9h1v1h-1zM56.0 96.7h1v1h-1zM65.5 109.4h1v1h-1zM37.4 110.7h1v1h-1zM57.4 100.9h1v1h-1zM51.5 108.3h1v1h-1zM60.2 95.7h1v1h-1zM47.9 104.2h1v1h-1zM59.6 101.5h1v1h-1zM61.1 106.4h1v1h-1zM51.5 105.5h1v1h-1zM42.7 104.8h1v1h-1zM45.5 100.7h1v1h-1zM45.3 103.0h1v1h-1zM40.4 109.6h1v1h-1zM61.9 109.5h1v1h-1zM65.6 99.6h1v1h-1zM28.9 105.7h1v1h-1zM44.2 103.2h1v1h-1zM46.5 106.7h1v1h-1zM60.2 104.9h1v1h-1zM57.4 107.7h1v1h-1zM41.6 96.1h1v1h-1zM45.5 109.2h1v1h-1zM46.6 97.9h1v1h-1zM46.7 107.3h1v1h-1zM54.3 98.7h1v1h-1zM46.2 105.1h1v1h-1zM44.7 89.1h1v1h-1zM46.4 94.2h1v1h-1zM46.8 101.3h1v1h-1zM28.7 101.5h1v1h-1zM48.7 105.3h1v1h-1zM44.3 110.5h1v1h-1zM33.9 101.9h1v1h-1zM42.1 103.7h1v1h-1zM46.5 106.1h1v1h-1zM41.2 93.4h1v1h-1zM37.6 105.7h1v1h-1zM45.4 109.5h1v1h-1zM39.0 98.5h1v1h-1zM57.1 103.4h1v1h-1zM79.3 100.9h1v1h-1zM60.0 108.5h1v1h-1zM58.6 95.2h1v1h-1zM44.6 93.8h1v1h-1zM40.5 109.1h1v1h-1zM47.8 107.8h1v1h-1zM54.3 109.7h1v1h-1zM49.0 113.9h1v1h-1zM47.9 98.0h1v1h-1zM45.7 101.8h1v1h-1zM58.7 109.9h1v1h-1zM36.0 102.4h1v1h-1zM50.9 105.1h1v1h-1zM38.9 96.6h1v1h-1zM37.1 104.3h1v1h-1zM47.8 99.7h1v1h-1zM43.9 107.6h1v1h-1zM67.5 109.1h1v1h-1zM55.9 104.8h1v1h-1zM43.7 103.5h1v1h-1zM45.8 101.8h1v1h-1zM29.3 102.3h1v1h-1zM48.9 108.7h1v1h-1zM44.5 91.0h1v1h-1zM65.9 101.2h1v1h-1zM50.5 105.3h1v1h-1zM61.5 106.7h1v1h-1zM40.4 99.5h1v1h-1zM39.0 107.2h1v1h-1zM62.1 112.8h1v1h-1zM47.6 102.9h1v1h-1zM50.7 111.4h1v1h-1zM46.1 105.2h1v1h-1zM66.7 99.3h1v1h-1zM41.0 98.5h1v1h-1zM54.5 104.5h1v1h-1zM45.9 104.9h1v1h-1zM33.4 106.1h1v1h-1zM57.2 96.4h1v1h-1zM66.0 106.5h1v1h-1zM54.1 116.6h1v1h-1zM45.7 110.1h1v1h-1zM56.1 112.7h1v1h-1zM38.3 108.8h1v1h-1zM52.0 99.4h1v1h-1zM39.4 93.6h1v1h-1zM49.8 108.0h1v1h-1zM51.6 103.8h1v1h-1zM56.2 102.2h1v1h-1zM69.2 98.6h1v1h-1zM42.1 99.1h1v1h-1zM55.5 109.2h1v1h-1zM41.1 107.4h1v1h-1zM28.4 98.9h1v1h-1zM46.2 96.9h1v1h-1zM42.9 102.9h1v1h-1zM55.2 98.8h1v1h-1zM51.3 109.2h1v1h-1zM69.4 100.2h1v1h-1zM61.3 95.8h1v1h-1zM61.7 102.1h1v1h-1zM52.8 100.5h1v1h-1zM33.8 98.5h1v1h-1zM38.9 100.8h1v1h-1zM38.6 99.2h1v1h-1zM43.6 90.2h1v1h-1zM50.1 101.0h1v1h-1zM39.6 104.6h1v1h-1zM47.7 105.0h1v1h-1zM44.1 107.9h1v1h-1zM55.6 106.0h1v1h-1zM40.5 101.2h1v1h-1zM40.5 104.0h1v1h-1zM43.4 108.2h1v1h-1zM46.1 107.8h1v1h-1zM36.3 101.0h1v1h-1zM45.4 111.1h1v1h-1zM44.5 102.4h1v1h-1zM52.4 101.8h1v1h-1zM50.7 100.6h1v1h-1zM43.5 107.5h1v1h-1zM54.1 106.0h1v1h-1zM48.4 100.1h1v1h-1zM57.2 97.6h1v1h-1zM41.7 105.1h1v1h-1zM53.6 111.4h1v1h-1zM36.2 99.7h1v1h-1zM42.4 108.1h1v1h-1zM56.0 101.2h1v1h-1zM57.1 105.8h1v1h-1zM45.5 105.2h1v1h-1zM51.1 114.4h1v1h-1zM41.7 99.5h1v1h-1zM40.8 103.5h1v1h-1zM49.5 100.9h1v1h-1zM43.7 109.3h1v1h-1zM72.1 108.7h1v1h-1zM64.6 113.7h1v1h-1zM49.3 104.6h1v1h-1zM66.4 93.9h1v1h-1zM57.6 109.4h1v1h-1zM40.6 107.1h1v1h-1zM43.3 101.9h1v1h-1zM40.8 104.4h1v1h-1zM62.3 96.8h1v1h-1zM30.5 107.6h1v1h-1zM44.7 96.6h1v1h-1zM45.1 93.4h1v1h-1zM51.8 96.2h1v1h-1zM40.1 104.7h1v1h-1zM58.0 101.1h1v1h-1zM30.5 104.0h1v1h-1zM50.0 100.3h1v1h-1zM42.2 94.1h1v1h-1zM49.7 96.0h1v1h-1zM52.1 103.3h1v1h-1zM45.2 109.5h1v1h-1zM56.5 100.0h1v1h-1zM57.2 106.0h1v1h-1zM38.7 105.0h1v1h-1zM45.3 103.5h1v1h-1zM57.7 108.9h1v1h-1zM43.6 99.7h1v1h-1zM56.9 92.4h1v1h-1zM53.3 108.3h1v1h-1zM38.4 107.1h1v1h-1zM49.0 102.3h1v1h-1zM47.7 106.7h1v1h-1zM46.5 103.9h1v1h-1zM54.0 103.4h1v1h-1zM40.6 109.2h1v1h-1zM62.4 104.8h1v1h-1zM46.6 103.6h1v1h-1zM59.1 105.8h1v1h-1zM50.0 104.9h1v1h-1zM53.8 109.2h1v1h-1zM50.2 98.3h1v1h-1zM59.6 101.0h1v1h-1zM51.1 95.5h1v1h-1zM55.0 96.6h1v1h-1zM36.9 108.7h1v1h-1zM55.9 105.4h1v1h-1zM44.2 108.3h1v1h-1zM62.5 110.6h1v1h-1zM49.3 110.9h1v1h-1zM46.7 91.7h1v1h-1zM71.5 107.4h1v1h-1zM38.7 94.5h1v1h-1zM40.2 112.4h1v1h-1zM51.6 109.4h1v1h-1zM34.5 96.9h1v1h-1zM41.4 108.7h1v1h-1zM49.9 104.6h1v1h-1zM59.0 103.7h1v1h-1zM63.5 98.5h1v1h-1zM65.3 98.6h1v1h-1zM49.0 100.7h1v1h-1zM48.5 111.7h1v1h-1zM37.1 99.1h1v1h-1zM29.1 106.6h1v1h-1zM36.1 103.2h1v1h-1zM38.5 101.7h1v1h-1zM46.5 105.9h1v1h-1zM40.3 114.7h1v1h-1zM49.0 110.3h1v1h-1zM45.5 101.5h1v1h-1zM58.3 100.4h1v1h-1zM62.4 111.8h1v1h-1zM54.8 95.7h1v1h-1zM52.1 109.6h1v1h-1zM52.1 106.5h1v1h-1zM42.2 97.7h1v1h-1zM46.7 109.3h1v1h-1zM41.9 92.9h1v1h-1zM40.3 99.6h1v1h-1zM50.0 97.5h1v1h-1zM45.7 108.3h1v1h-1zM42.3 108.6h1v1h-1zM73.0 103.9h1v1h-1zM45.3 96.8h1v1h-1zM54.6 104.9h1v1h-1zM54.3 102.5h1v1h-1zM59.0 95.5h1v1h-1zM45.4 103.6h1v1h-1zM46.6 97.1h1v1h-1zM52.0 99.7h1v1h-1zM56.9 107.3h1v1h-1zM49.6 96.4h1v1h-1zM57.1 99.8h1v1h-1zM45.7 105.3h1v1h-1zM40.2 104.5h1v1h-1zM47.7 111.0h1v1h-1zM59.4 108.2h1v1h-1zM50.7 100.5h1v1h-1zM43.1 112.7h1v1h-1zM57.5 101.9h1v1h-1zM46.0 97.5h1v1h-1zM56.8 109.0h1v1h-1zM47.6 112.7h1v1h-1zM45.9 96.0h1v1h-1zM40.4 98.8h1v1h-1zM34.1 104.3h1v1h-1zM57.3 95.1h1v1h-1zM52.7 99.8h1v1h-1zM64.7 117.2h1v1h-1zM32.2 92.8h1v1h-1zM71.7 101.7h1v1h-1zM49.0 102.2h1v1h-1zM48.6 106.8h1v1h-1zM48.2 104.2h1v1h-1zM54.7 100.4h1v1h-1zM57.6 101.0h1v1h-1zM39.2 95.8h1v1h-1zM28.5 101.5h1v1h-1zM51.5 106.5h1v1h-1zM66.1 110.2h1v1h-1zM37.3 105.6h1v1h-1zM52.3 99.6h1v1h-1zM49.4 100.1h1v1h-1zM41.7 106.3h1v1h-1zM49.6 110.6h1v1h-1zM50.1 105.7h1v1h-1zM54.8 109.2h1v1h-1zM43.4 106.2h1v1h-1zM44.9 108.6h1v1h-1zM45.9 110.5h1v1h-1zM53.4 100.3h1v1h-1zM48.2 104.5h1v1h-1zM40.0 108.1h1v1h-1zM46.3 108.2h1v1h-1zM37.3 102.1h1v1h-1zM48.2 105.7h1v1h-1zM40.7 103.4h1v1h-1zM41.8 105.4h1v1h-1zM50.1 99.9h1v1h-1zM55.5 107.1h1v1h-1zM59.7 110.2h1v1h-1zM46.7 96.7h1v1h-1zM70.7 104.1h1v1h-1zM45.0 105.3h1v1h-1zM28.3 118.0h1v1h-1zM35.7 122.1h1v1h-1zM51.0 122.3h1v1h-1zM55.7 111.3h1v1h-1zM45.8 121.0h1v1h-1zM34.9 130.6h1v1h-1zM42.3 118.8h1v1h-1zM43.4 121.6h1v1h-1zM44.3 127.2h1v1h-1zM29.1 113.8h1v1h-1zM49.8 138.4h1v1h-1zM51.8 119.4h1v1h-1zM38.2 127.5h1v1h-1zM30.3 112.2h1v1h-1zM32.8 117.3h1v1h-1zM38.3 103.5h1v1h-1zM48.1 126.0h1v1h-1zM35.2 124.8h1v1h-1zM28.5 121.6h1v1h-1zM50.1 116.7h1v1h-1zM46.0 117.9h1v1h-1zM35.7 116.5h1v1h-1zM39.0 103.9h1v1h-1zM56.6 114.5h1v1h-1zM45.4 130.5h1v1h-1zM38.6 100.7h1v1h-1zM32.2 111.5h1v1h-1zM51.2 119.7h1v1h-1zM37.6 120.1h1v1h-1zM47.2 116.9h1v1h-1zM53.8 108.9h1v1h-1zM39.6 99.3h1v1h-1zM36.8 121.2h1v1h-1zM37.5 123.0h1v1h-1zM35.8 117.5h1v1h-1zM48.1 127.8h1v1h-1zM28.9 122.3h1v1h-1zM36.8 113.9h1v1h-1zM32.3 106.7h1v1h-1zM34.7 118.5h1v1h-1zM40.2 109.1h1v1h-1zM42.5 116.8h1v1h-1zM34.6 115.9h1v1h-1zM43.5 119.4h1v1h-1zM39.5 129.5h1v1h-1zM34.7 109.0h1v1h-1zM53.0 117.5h1v1h-1zM29.1 104.5h1v1h-1zM38.1 99.5h1v1h-1zM35.8 110.2h1v1h-1zM33.9 107.7h1v1h-1zM50.5 124.3h1v1h-1zM51.8 97.5h1v1h-1zM37.6 125.3h1v1h-1zM42.3 119.7h1v1h-1zM28.2 124.2h1v1h-1zM42.0 127.4h1v1h-1zM49.8 113.9h1v1h-1zM38.0 107.5h1v1h-1zM31.0 112.3h1v1h-1zM29.2 119.2h1v1h-1zM45.7 120.7h1v1h-1zM38.6 112.6h1v1h-1zM53.9 108.1h1v1h-1zM44.0 118.8h1v1h-1zM28.8 105.3h1v1h-1zM57.2 131.7h1v1h-1zM47.8 117.3h1v1h-1zM46.3 114.9h1v1h-1zM37.9 117.0h1v1h-1zM39.3 109.1h1v1h-1zM37.2 120.7h1v1h-1zM45.8 112.6h1v1h-1zM43.7 115.1h1v1h-1zM53.4 109.4h1v1h-1zM41.6 118.5h1v1h-1zM45.8 129.8h1v1h-1zM34.8 121.9h1v1h-1zM41.3 119.6h1v1h-1zM62.7 112.0h1v1h-1zM43.4 101.6h1v1h-1zM39.6 119.2h1v1h-1zM51.2 111.4h1v1h-1zM48.3 108.8h1v1h-1zM36.3 121.5h1v1h-1zM32.9 116.3h1v1h-1zM49.0 124.2h1v1h-1zM34.7 126.2h1v1h-1zM58.3 111.6h1v1h-1zM41.7 125.3h1v1h-1zM30.0 121.4h1v1h-1zM40.0 125.7h1v1h-1zM37.5 108.7h1v1h-1zM39.8 116.3h1v1h-1zM28.4 118.9h1v1h-1zM38.3 121.8h1v1h-1zM28.5 117.5h1v1h-1zM30.1 120.8h1v1h-1zM28.8 117.7h1v1h-1zM48.1 122.8h1v1h-1zM42.7 127.4h1v1h-1zM45.1 113.3h1v1h-1zM36.0 111.0h1v1h-1zM31.5 116.7h1v1h-1zM55.4 117.2h1v1h-1zM29.2 109.1h1v1h-1zM44.7 118.9h1v1h-1zM29.1 129.9h1v1h-1zM28.4 106.9h1v1h-1zM42.4 122.9h1v1h-1zM50.4 107.0h1v1h-1zM31.8 113.7h1v1h-1zM28.2 114.5h1v1h-1zM56.6 126.7h1v1h-1zM40.2 121.4h1v1h-1zM38.8 116.4h1v1h-1zM42.3 110.9h1v1h-1zM44.4 109.8h1v1h-1zM49.1 109.5h1v1h-1zM33.4 114.2h1v1h-1zM36.2 122.8h1v1h-1zM57.9 115.0h1v1h-1zM40.1 131.5h1v1h-1zM37.5 111.7h1v1h-1zM37.8 120.8h1v1h-1zM53.4 119.2h1v1h-1zM36.6 117.7h1v1h-1zM37.5 109.8h1v1h-1zM45.0 117.5h1v1h-1zM36.3 118.6h1v1h-1zM55.4 119.1h1v1h-1zM45.7 127.8h1v1h-1zM42.6 112.3h1v1h-1zM51.5 114.8h1v1h-1zM45.0 114.8h1v1h-1zM49.6 103.0h1v1h-1zM41.5 122.6h1v1h-1zM45.2 117.8h1v1h-1zM45.6 111.7h1v1h-1zM41.1 120.0h1v1h-1zM42.5 125.6h1v1h-1zM42.2 123.1h1v1h-1zM43.8 116.2h1v1h-1zM37.6 125.3h1v1h-1zM40.1 121.7h1v1h-1zM38.3 112.3h1v1h-1zM48.5 125.9h1v1h-1zM48.4 107.7h1v1h-1zM50.1 115.1h1v1h-1zM38.8 105.1h1v1h-1zM36.7 127.5h1v1h-1zM40.5 115.1h1v1h-1zM30.0 125.4h1v1h-1zM58.1 116.2h1v1h-1zM46.9 121.0h1v1h-1zM28.4 118.2h1v1h-1zM52.1 121.6h1v1h-1zM29.0 118.2h1v1h-1zM37.1 116.9h1v1h-1zM30.0 119.2h1v1h-1zM34.6 111.0h1v1h-1zM41.1 111.0h1v1h-1zM39.2 131.7h1v1h-1zM28.7 113.3h1v1h-1zM47.8 111.0h1v1h-1zM39.0 129.3h1v1h-1zM35.1 114.2h1v1h-1zM52.5 119.4h1v1h-1zM34.5 122.3h1v1h-1zM49.1 111.1h1v1h-1zM29.1 108.7h1v1h-1zM31.1 127.1h1v1h-1zM29.1 122.0h1v1h-1zM61.2 99.5h1v1h-1zM28.6 121.6h1v1h-1zM41.1 114.2h1v1h-1zM35.2 127.9h1v1h-1zM35.8 121.7h1v1h-1zM28.9 116.0h1v1h-1zM28.3 128.9h1v1h-1zM53.8 110.6h1v1h-1zM53.1 116.2h1v1h-1zM35.8 117.6h1v1h-1zM28.9 111.9h1v1h-1zM42.2 119.1h1v1h-1zM29.0 117.8h1v1h-1zM54.8 107.1h1v1h-1zM47.8 119.4h1v1h-1zM41.0 113.2h1v1h-1zM41.5 109.8h1v1h-1zM33.5 133.0h1v1h-1zM28.4 123.3h1v1h-1zM29.0 112.5h1v1h-1zM49.7 117.0h1v1h-1zM44.7 116.5h1v1h-1zM41.3 120.3h1v1h-1zM35.9 108.8h1v1h-1zM37.2 117.3h1v1h-1zM50.8 110.3h1v1h-1zM36.0 115.3h1v1h-1zM30.3 116.1h1v1h-1zM42.6 117.0h1v1h-1zM41.2 114.5h1v1h-1zM28.3 122.7h1v1h-1zM40.4 120.4h1v1h-1zM30.7 118.7h1v1h-1zM54.6 118.6h1v1h-1zM33.6 120.3h1v1h-1zM28.6 113.7h1v1h-1zM30.5 110.8h1v1h-1zM48.1 113.1h1v1h-1zM49.3 117.6h1v1h-1zM29.4 117.5h1v1h-1zM45.6 127.6h1v1h-1zM28.3 109.5h1v1h-1zM43.8 107.8h1v1h-1zM45.9 116.6h1v1h-1zM43.7 111.2h1v1h-1zM39.4 118.5h1v1h-1zM42.6 119.2h1v1h-1zM62.1 122.3h1v1h-1zM28.8 125.9h1v1h-1zM49.4 119.8h1v1h-1zM41.2 118.5h1v1h-1zM42.3 127.0h1v1h-1zM40.5 121.0h1v1h-1zM49.8 112.7h1v1h-1zM29.3 123.7h1v1h-1zM45.0 108.8h1v1h-1zM46.8 118.1h1v1h-1zM50.1 133.2h1v1h-1zM34.7 123.7h1v1h-1zM30.1 113.1h1v1h-1zM42.3 115.1h1v1h-1zM38.5 112.8h1v1h-1zM47.0 121.0h1v1h-1zM48.4 123.4h1v1h-1zM56.1 126.0h1v1h-1zM37.0 124.5h1v1h-1zM40.1 108.0h1v1h-1zM32.7 104.8h1v1h-1zM52.9 114.4h1v1h-1zM34.2 110.8h1v1h-1zM29.0 122.3h1v1h-1zM48.7 117.3h1v1h-1zM62.9 121.7h1v1h-1zM28.4 118.5h1v1h-1zM45.1 105.3h1v1h-1zM29.1 115.9h1v1h-1zM51.5 121.7h1v1h-1zM35.4 125.4h1v1h-1zM46.9 111.3h1v1h-1zM45.2 115.3h1v1h-1zM49.0 117.9h1v1h-1zM46.4 111.4h1v1h-1zM51.9 113.5h1v1h-1zM40.5 112.1h1v1h-1zM28.9 129.2h1v1h-1zM54.9 116.1h1v1h-1zM29.8 121.0h1v1h-1zM38.3 116.5h1v1h-1zM32.5 110.2h1v1h-1zM28.6 97.7h1v1h-1zM29.5 105.5h1v1h-1zM46.0 128.6h1v1h-1zM28.2 116.6h1v1h-1zM42.3 120.0h1v1h-1zM39.8 115.9h1v1h-1zM28.9 116.6h1v1h-1zM61.1 121.5h1v1h-1zM30.1 112.4h1v1h-1zM52.4 109.8h1v1h-1zM33.7 117.5h1v1h-1zM41.6 118.5h1v1h-1zM43.5 109.5h1v1h-1zM44.9 117.1h1v1h-1zM37.8 104.6h1v1h-1zM29.0 103.2h1v1h-1zM46.7 116.4h1v1h-1zM32.6 104.3h1v1h-1zM51.2 110.7h1v1h-1zM59.5 129.5h1v1h-1zM40.6 119.2h1v1h-1zM32.8 116.5h1v1h-1zM44.8 113.4h1v1h-1zM38.4 126.2h1v1h-1zM45.0 112.8h1v1h-1zM59.9 110.6h1v1h-1zM39.9 125.0h1v1h-1zM65.6 121.7h1v1h-1zM41.6 111.8h1v1h-1zM44.5 107.8h1v1h-1zM29.9 121.8h1v1h-1zM41.4 125.6h1v1h-1zM33.9 107.4h1v1h-1zM42.5 117.7h1v1h-1zM34.3 116.7h1v1h-1zM39.4 124.5h1v1h-1zM47.2 125.9h1v1h-1zM51.9 119.4h1v1h-1zM29.1 127.8h1v1h-1zM42.5 123.1h1v1h-1zM57.0 107.4h1v1h-1zM59.8 110.8h1v1h-1zM52.6 121.2h1v1h-1zM52.2 120.1h1v1h-1zM39.2 126.5h1v1h-1zM40.2 114.2h1v1h-1zM39.1 124.7h1v1h-1zM48.4 110.7h1v1h-1zM38.9 111.6h1v1h-1zM49.2 123.9h1v1h-1zM39.4 130.0h1v1h-1zM29.8 114.0h1v1h-1zM31.3 114.3h1v1h-1zM43.2 131.4h1v1h-1zM35.0 106.4h1v1h-1zM39.8 116.2h1v1h-1zM32.9 128.2h1v1h-1zM29.0 97.0h1v1h-1zM37.9 123.1h1v1h-1zM40.8 130.6h1v1h-1zM53.2 105.1h1v1h-1zM32.4 114.8h1v1h-1zM31.0 111.0h1v1h-1zM31.6 118.0h1v1h-1zM52.3 113.4h1v1h-1zM36.5 127.6h1v1h-1zM28.4 108.6h1v1h-1zM44.6 116.6h1v1h-1zM51.8 116.0h1v1h-1zM32.7 117.8h1v1h-1zM38.8 117.1h1v1h-1zM63.8 113.0h1v1h-1zM42.3 118.8h1v1h-1zM33.1 124.0h1v1h-1zM29.4 120.2h1v1h-1zM29.3 130.0h1v1h-1zM30.6 131.2h1v1h-1zM53.0 108.3h1v1h-1zM30.3 102.7h1v1h-1zM46.1 134.7h1v1h-1zM39.9 124.0h1v1h-1zM28.7 118.9h1v1h-1zM50.9 113.9h1v1h-1zM29.3 121.7h1v1h-1zM32.3 109.0h1v1h-1zM38.7 123.9h1v1h-1zM30.8 130.9h1v1h-1zM31.5 110.7h1v1h-1zM29.4 115.7h1v1h-1zM38.6 111.3h1v1h-1zM28.6 110.6h1v1h-1zM54.8 100.9h1v1h-1zM28.6 117.2h1v1h-1zM37.6 116.2h1v1h-1zM30.1 111.0h1v1h-1zM62.5 106.4h1v1h-1zM30.4 121.1h1v1h-1zM46.8 116.1h1v1h-1zM32.2 108.3h1v1h-1zM44.7 109.8h1v1h-1zM37.9 108.0h1v1h-1zM35.1 124.9h1v1h-1zM39.6 126.8h1v1h-1zM51.8 111.9h1v1h-1zM28.4 115.8h1v1h-1zM47.9 119.5h1v1h-1zM43.7 121.1h1v1h-1zM39.0 117.6h1v1h-1zM44.4 123.8h1v1h-1zM28.6 114.7h1v1h-1zM34.7 113.4h1v1h-1zM34.7 126.3h1v1h-1zM46.8 115.2h1v1h-1zM46.8 119.4h1v1h-1zM36.1 108.1h1v1h-1zM28.4 104.8h1v1h-1zM44.6 117.4h1v1h-1zM40.5 112.8h1v1h-1zM32.1 115.1h1v1h-1zM30.3 130.0h1v1h-1zM41.6 116.3h1v1h-1zM45.9 113.1h1v1h-1zM46.4 111.5h1v1h-1zM29.3 108.4h1v1h-1zM65.7 121.0h1v1h-1zM28.8 112.2h1v1h-1zM48.6 109.9h1v1h-1zM54.6 126.8h1v1h-1zM43.3 113.8h1v1h-1zM51.8 123.3h1v1h-1zM39.8 119.6h1v1h-1zM38.0 118.1h1v1h-1zM38.1 129.5h1v1h-1zM39.2 116.5h1v1h-1zM35.8 142.1h1v1h-1zM32.8 121.6h1v1h-1zM31.1 105.7h1v1h-1zM48.6 118.3h1v1h-1zM45.5 93.8h1v1h-1zM30.1 113.7h1v1h-1zM33.8 106.5h1v1h-1zM50.4 117.9h1v1h-1zM45.6 122.6h1v1h-1zM28.3 111.1h1v1h-1zM55.6 119.2h1v1h-1zM34.5 129.7h1v1h-1zM60.6 125.5h1v1h-1zM30.1 118.4h1v1h-1zM51.4 116.6h1v1h-1zM39.4 116.9h1v1h-1zM47.9 117.3h1v1h-1zM41.1 117.5h1v1h-1zM28.8 107.5h1v1h-1zM32.8 126.3h1v1h-1zM35.3 116.8h1v1h-1zM47.6 127.4h1v1h-1zM28.4 115.8h1v1h-1zM43.3 124.8h1v1h-1zM38.6 107.5h1v1h-1zM53.6 132.9h1v1h-1zM42.5 89.0h1v1h-1zM39.7 95.2h1v1h-1zM32.5 89.0h1v1h-1zM80.1 118.9h1v1h-1zM45.4 101.1h1v1h-1zM36.9 102.2h1v1h-1zM74.3 106.3h1v1h-1zM60.7 112.2h1v1h-1zM71.0 121.6h1v1h-1zM79.9 110.3h1v1h-1zM50.8 133.1h1v1h-1zM49.1 106.6h1v1h-1zM74.7 132.8h1v1h-1zM53.9 119.7h1v1h-1zM37.6 109.9h1v1h-1zM44.2 97.7h1v1h-1zM29.1 99.6h1v1h-1zM28.2 137.5h1v1h-1zM63.7 114.8h1v1h-1zM57.7 123.7h1v1h-1zM39.8 120.4h1v1h-1zM54.9 121.9h1v1h-1zM49.4 122.1h1v1h-1zM59.3 126.1h1v1h-1zM28.9 147.1h1v1h-1zM55.5 108.6h1v1h-1zM70.3 120.5h1v1h-1zM38.5 131.1h1v1h-1zM67.3 118.8h1v1h-1zM70.7 111.1h1v1h-1zM51.6 136.3h1v1h-1zM45.5 98.8h1v1h-1zM46.5 100.4h1v1h-1zM30.8 95.6h1v1h-1zM98.0 94.2h1v1h-1zM60.6 127.4h1v1h-1zM47.8 119.2h1v1h-1zM58.6 138.5h1v1h-1zM42.7 98.8h1v1h-1zM58.0 99.5h1v1h-1zM68.7 126.2h1v1h-1zM35.3 103.4h1v1h-1zM56.3 108.9h1v1h-1zM43.4 95.6h1v1h-1zM63.3 93.9h1v1h-1zM50.4 100.2h1v1h-1zM54.9 123.3h1v1h-1zM54.5 133.4h1v1h-1zM53.0 107.5h1v1h-1zM66.3 124.9h1v1h-1zM35.6 120.3h1v1h-1zM28.7 119.2h1v1h-1zM95.4 108.0h1v1h-1zM44.2 119.6h1v1h-1zM82.5 126.4h1v1h-1zM54.0 111.1h1v1h-1zM44.6 120.1h1v1h-1zM30.3 121.9h1v1h-1zM75.4 90.0h1v1h-1zM51.5 100.1h1v1h-1zM62.7 108.4h1v1h-1zM53.7 92.8h1v1h-1zM64.4 113.2h1v1h-1zM52.2 96.8h1v1h-1zM46.8 120.1h1v1h-1zM51.6 117.0h1v1h-1zM74.9 105.0h1v1h-1zM54.4 117.4h1v1h-1zM77.2 103.8h1v1h-1zM87.3 97.2h1v1h-1zM52.5 117.7h1v1h-1zM51.4 107.4h1v1h-1zM67.7 103.1h1v1h-1zM79.5 131.4h1v1h-1zM56.2 130.0h1v1h-1zM40.2 118.5h1v1h-1zM45.9 123.7h1v1h-1zM32.7 93.9h1v1h-1zM50.9 96.4h1v1h-1zM39.0 142.7h1v1h-1zM46.7 97.6h1v1h-1zM47.3 104.4h1v1h-1zM39.4 90.3h1v1h-1zM62.3 95.2h1v1h-1zM51.5 91.9h1v1h-1zM56.8 116.9h1v1h-1zM46.0 109.2h1v1h-1zM42.0 126.8h1v1h-1zM57.7 100.0h1v1h-1zM51.3 98.1h1v1h-1zM79.8 127.9h1v1h-1zM59.6 123.6h1v1h-1zM46.0 107.5h1v1h-1zM29.1 101.4h1v1h-1zM68.5 102.3h1v1h-1zM65.6 84.4h1v1h-1zM50.2 94.6h1v1h-1zM77.7 103.1h1v1h-1zM28.7 112.2h1v1h-1zM51.3 132.9h1v1h-1zM54.8 99.3h1v1h-1zM51.8 112.6h1v1h-1zM78.0 118.7h1v1h-1zM41.5 109.4h1v1h-1zM72.7 101.6h1v1h-1zM56.8 117.0h1v1h-1zM74.4 97.5h1v1h-1zM29.5 105.3h1v1h-1zM48.3 116.0h1v1h-1zM87.4 141.7h1v1h-1zM62.7 137.8h1v1h-1zM56.7 127.3h1v1h-1zM72.8 151.5h1v1h-1zM79.2 119.8h1v1h-1zM63.0 138.4h1v1h-1zM103.0 131.9h1v1h-1zM72.3 131.8h1v1h-1zM89.6 146.3h1v1h-1zM78.2 151.2h1v1h-1zM58.9 151.5h1v1h-1zM90.4 130.4h1v1h-1zM89.0 119.4h1v1h-1zM80.1 131.3h1v1h-1zM84.7 128.5h1v1h-1zM65.7 137.4h1v1h-1zM77.5 133.7h1v1h-1zM69.7 135.7h1v1h-1zM83.2 131.9h1v1h-1zM87.1 124.2h1v1h-1zM86.7 122.5h1v1h-1zM90.4 117.3h1v1h-1zM87.6 141.6h1v1h-1zM109.7 120.5h1v1h-1zM95.7 125.3h1v1h-1zM80.1 148.0h1v1h-1zM85.1 138.4h1v1h-1zM74.3 151.8h1v1h-1zM99.6 148.2h1v1h-1zM65.2 128.5h1v1h-1zM86.8 143.7h1v1h-1zM79.4 131.1h1v1h-1zM81.5 127.7h1v1h-1zM89.5 138.6h1v1h-1zM58.4 108.0h1v1h-1zM74.5 146.1h1v1h-1zM89.2 127.0h1v1h-1zM71.5 105.7h1v1h-1zM48.9 118.6h1v1h-1zM79.0 130.4h1v1h-1zM83.6 136.9h1v1h-1zM83.6 149.9h1v1h-1zM74.3 111.8h1v1h-1zM46.0 119.2h1v1h-1zM50.5 144.4h1v1h-1zM90.9 139.1h1v1h-1zM72.0 150.8h1v1h-1zM77.9 136.3h1v1h-1zM71.2 151.4h1v1h-1zM81.5 129.0h1v1h-1zM94.3 127.9h1v1h-1zM99.2 119.6h1v1h-1zM42.8 114.0h1v1h-1zM78.1 146.8h1v1h-1zM85.1 122.5h1v1h-1zM59.4 149.1h1v1h-1zM88.4 140.8h1v1h-1zM98.4 131.5h1v1h-1zM72.3 150.2h1v1h-1zM87.2 151.4h1v1h-1zM62.5 150.0h1v1h-1zM101.6 113.5h1v1h-1zM76.6 138.8h1v1h-1zM88.6 119.1h1v1h-1zM69.0 107.5h1v1h-1zM76.8 120.4h1v1h-1zM48.8 134.8h1v1h-1zM70.4 110.1h1v1h-1zM76.7 149.5h1v1h-1zM104.8 142.4h1v1h-1zM79.4 149.3h1v1h-1zM88.3 131.8h1v1h-1zM75.7 139.0h1v1h-1zM72.0 142.8h1v1h-1zM61.2 119.5h1v1h-1zM91.1 151.0h1v1h-1zM64.3 129.2h1v1h-1zM108.9 136.6h1v1h-1zM75.4 137.2h1v1h-1zM82.7 136.2h1v1h-1zM93.5 122.2h1v1h-1zM86.6 115.1h1v1h-1zM76.5 140.8h1v1h-1zM59.2 151.4h1v1h-1zM84.1 147.1h1v1h-1zM93.3 151.1h1v1h-1zM77.7 138.9h1v1h-1zM65.4 120.6h1v1h-1zM74.3 128.7h1v1h-1zM72.6 132.3h1v1h-1zM73.6 133.2h1v1h-1zM78.2 142.4h1v1h-1zM85.1 136.4h1v1h-1zM66.9 146.8h1v1h-1zM85.2 118.0h1v1h-1zM62.4 139.2h1v1h-1zM85.3 121.5h1v1h-1zM88.7 148.5h1v1h-1zM79.9 123.2h1v1h-1zM82.6 136.9h1v1h-1zM64.1 132.1h1v1h-1zM78.6 133.7h1v1h-1zM99.0 119.8h1v1h-1zM69.2 131.3h1v1h-1zM75.4 132.9h1v1h-1zM100.7 123.0h1v1h-1zM80.0 142.1h1v1h-1zM77.4 129.7h1v1h-1zM73.0 120.8h1v1h-1zM79.7 148.4h1v1h-1zM106.1 151.6h1v1h-1zM76.0 135.6h1v1h-1zM92.3 120.6h1v1h-1zM98.4 115.2h1v1h-1zM83.6 132.7h1v1h-1zM92.7 134.4h1v1h-1zM63.1 139.6h1v1h-1zM88.1 126.7h1v1h-1zM65.1 119.6h1v1h-1zM83.5 151.3h1v1h-1zM85.5 121.9h1v1h-1zM86.4 137.9h1v1h-1zM69.1 120.5h1v1h-1zM82.4 134.2h1v1h-1zM74.3 146.6h1v1h-1zM55.1 138.3h1v1h-1zM93.9 124.9h1v1h-1zM70.6 115.6h1v1h-1zM84.1 134.3h1v1h-1zM105.1 90.9h1v1h-1zM81.4 138.2h1v1h-1zM87.0 150.7h1v1h-1zM89.0 88.4h1v1h-1zM92.8 129.3h1v1h-1zM100.4 125.0h1v1h-1zM110.1 122.5h1v1h-1zM91.4 133.1h1v1h-1zM65.9 109.8h1v1h-1zM94.2 133.7h1v1h-1zM97.8 123.5h1v1h-1zM78.5 117.3h1v1h-1zM94.9 102.8h1v1h-1zM109.5 109.1h1v1h-1zM75.5 128.5h1v1h-1zM94.5 137.7h1v1h-1zM85.1 123.0h1v1h-1zM86.4 112.7h1v1h-1zM106.1 86.3h1v1h-1zM103.4 97.7h1v1h-1zM69.6 97.2h1v1h-1zM110.6 140.6h1v1h-1zM46.8 84.0h1v1h-1zM89.2 130.6h1v1h-1zM78.2 96.6h1v1h-1zM92.6 122.8h1v1h-1zM108.0 133.0h1v1h-1zM73.4 126.2h1v1h-1zM75.2 103.5h1v1h-1zM84.1 135.1h1v1h-1zM80.1 150.8h1v1h-1zM91.0 114.2h1v1h-1z" fill="#0a0a0a"/></g>
<rect x="27.7" y="71.8" width="86.3" height="80.39999999999999" fill="none" stroke="#0a0a0a" stroke-width="1.6"/>
<text x="27.5" y="164.3" font-size="5.7" text-anchor="end" fill="#0a0a0a" class="th">10</text>
<text x="27.7" y="161.6" font-size="4.3" text-anchor="start" fill="#0a0a0a" class="th">0</text>
<text x="22.5" y="157.5" font-size="5.7" text-anchor="end" fill="#0a0a0a" class="th">10</text>
<text x="22.7" y="154.8" font-size="4.3" text-anchor="start" fill="#0a0a0a" class="th">0</text>
<text x="49.1" y="164.3" font-size="5.7" text-anchor="end" fill="#0a0a0a" class="th">10</text>
<text x="49.3" y="161.6" font-size="4.3" text-anchor="start" fill="#0a0a0a" class="th">1</text>
<text x="22.5" y="137.4" font-size="5.7" text-anchor="end" fill="#0a0a0a" class="th">10</text>
<text x="22.7" y="134.7" font-size="4.3" text-anchor="start" fill="#0a0a0a" class="th">1</text>
<text x="70.6" y="164.3" font-size="5.7" text-anchor="end" fill="#0a0a0a" class="th">10</text>
<text x="70.8" y="161.6" font-size="4.3" text-anchor="start" fill="#0a0a0a" class="th">2</text>
<text x="22.5" y="117.3" font-size="5.7" text-anchor="end" fill="#0a0a0a" class="th">10</text>
<text x="22.7" y="114.6" font-size="4.3" text-anchor="start" fill="#0a0a0a" class="th">2</text>
<text x="92.2" y="164.3" font-size="5.7" text-anchor="end" fill="#0a0a0a" class="th">10</text>
<text x="92.4" y="161.6" font-size="4.3" text-anchor="start" fill="#0a0a0a" class="th">3</text>
<text x="22.5" y="97.2" font-size="5.7" text-anchor="end" fill="#0a0a0a" class="th">10</text>
<text x="22.7" y="94.5" font-size="4.3" text-anchor="start" fill="#0a0a0a" class="th">3</text>
<text x="113.8" y="164.3" font-size="5.7" text-anchor="end" fill="#0a0a0a" class="th">10</text>
<text x="114.0" y="161.6" font-size="4.3" text-anchor="start" fill="#0a0a0a" class="th">4</text>
<text x="22.5" y="77.1" font-size="5.7" text-anchor="end" fill="#0a0a0a" class="th">10</text>
<text x="22.7" y="74.4" font-size="4.3" text-anchor="start" fill="#0a0a0a" class="th">4</text>
<g filter="url(#bl)"><path d="M164.2 128.9L165.1 128.7L166.9 127.8L168.4 128.9L169.0 128.3L171.0 127.3L172.9 126.9L174.2 126.6L175.0 127.1L176.9 126.2L177.8 126.4L179.0 126.1L179.5 125.0L181.3 124.9L182.2 123.8L183.6 123.5L185.2 122.5L186.4 122.7L188.0 122.2L188.2 122.6L190.1 121.1L190.9 122.4L193.1 120.6L194.4 120.9L195.1 121.4L197.1 120.9L198.7 122.1L200.1 122.5L200.8 123.2L200.5 125.5L201.1 126.6L202.6 127.9L202.4 129.9L202.5 130.0L201.8 132.5L201.8 133.4L202.0 134.2L201.9 136.1L201.8 136.9L202.0 138.6L201.1 140.4L201.6 141.5L200.6 142.1L200.0 143.8L199.8 144.3L198.3 146.0L196.6 147.2L197.0 148.1L196.6 149.1L195.1 151.4L194.0 152.0L192.7 152.0L191.3 152.0L189.9 152.0L188.6 152.0L187.2 152.0L185.9 152.0L184.5 152.0L183.2 152.0L181.8 152.0L180.5 152.0L179.1 152.0L177.7 152.0L176.4 152.0L175.0 152.0L173.7 152.0L172.3 152.0L171.0 152.0L169.6 152.0L168.3 152.0L166.9 152.0L165.6 152.0L164.2 152.0L164.2 150.6L164.2 149.3L164.2 147.9L164.2 146.6L164.2 145.2L164.2 143.9L164.2 142.5L164.2 141.1L164.2 139.8L164.2 138.4L164.2 137.1L164.2 135.7L164.2 134.4L164.2 133.0L164.2 131.7L164.2 130.3Z" fill="#0a0a0a" stroke="#0a0a0a" stroke-width="0.6" stroke-linejoin="round"/><path d="M193.5 146.2h1v1h-1zM183.0 130.3h1v1h-1zM194.3 121.7h1v1h-1zM171.6 137.8h1v1h-1zM180.6 138.8h1v1h-1zM172.9 140.5h1v1h-1zM195.7 119.2h1v1h-1zM191.1 117.9h1v1h-1zM183.5 141.2h1v1h-1zM174.9 133.3h1v1h-1zM194.3 120.7h1v1h-1zM172.0 128.2h1v1h-1zM176.2 129.9h1v1h-1zM193.0 118.9h1v1h-1zM176.3 132.6h1v1h-1zM187.4 135.0h1v1h-1zM183.5 128.2h1v1h-1zM165.9 142.7h1v1h-1zM209.1 122.9h1v1h-1zM176.0 148.8h1v1h-1zM171.3 131.8h1v1h-1zM190.3 127.6h1v1h-1zM189.3 136.0h1v1h-1zM200.8 137.1h1v1h-1zM188.3 133.6h1v1h-1zM165.1 130.9h1v1h-1zM179.2 128.3h1v1h-1zM197.1 128.1h1v1h-1zM174.8 136.6h1v1h-1zM181.6 122.0h1v1h-1zM192.3 118.3h1v1h-1zM191.2 136.7h1v1h-1zM193.1 122.8h1v1h-1zM181.0 129.8h1v1h-1zM178.7 143.7h1v1h-1zM181.4 127.4h1v1h-1zM178.2 151.4h1v1h-1zM173.2 126.9h1v1h-1zM185.0 123.7h1v1h-1zM173.7 138.4h1v1h-1zM170.8 141.9h1v1h-1zM188.3 130.5h1v1h-1zM176.8 132.1h1v1h-1zM167.3 139.8h1v1h-1zM165.1 148.9h1v1h-1zM166.7 145.4h1v1h-1zM200.6 117.8h1v1h-1zM196.9 133.9h1v1h-1zM189.6 140.0h1v1h-1zM176.1 132.7h1v1h-1zM165.6 136.1h1v1h-1zM189.5 147.3h1v1h-1zM164.8 142.2h1v1h-1zM181.0 132.2h1v1h-1zM169.3 131.8h1v1h-1zM183.8 138.3h1v1h-1zM201.3 126.3h1v1h-1zM190.9 116.5h1v1h-1zM176.7 136.1h1v1h-1zM165.3 139.8h1v1h-1zM187.4 112.3h1v1h-1zM188.9 129.8h1v1h-1zM167.8 143.3h1v1h-1zM164.8 149.0h1v1h-1zM183.7 130.4h1v1h-1zM171.8 137.3h1v1h-1zM173.1 130.5h1v1h-1zM189.8 135.5h1v1h-1zM177.1 143.9h1v1h-1zM177.0 117.3h1v1h-1zM182.2 126.4h1v1h-1zM189.1 119.9h1v1h-1zM178.6 141.0h1v1h-1zM194.4 122.9h1v1h-1zM174.7 126.4h1v1h-1zM182.2 133.4h1v1h-1zM203.6 123.6h1v1h-1zM186.0 134.6h1v1h-1zM184.7 124.2h1v1h-1zM187.6 137.6h1v1h-1zM187.6 132.6h1v1h-1zM185.9 133.6h1v1h-1zM165.6 151.0h1v1h-1zM177.9 151.3h1v1h-1zM165.0 121.5h1v1h-1zM190.4 134.6h1v1h-1zM186.2 149.5h1v1h-1zM185.2 124.6h1v1h-1zM184.6 142.7h1v1h-1zM193.6 134.4h1v1h-1zM175.7 133.1h1v1h-1zM178.9 118.0h1v1h-1zM180.8 116.6h1v1h-1zM187.6 141.4h1v1h-1zM182.4 132.6h1v1h-1zM199.0 118.9h1v1h-1zM212.0 130.9h1v1h-1zM177.3 116.1h1v1h-1zM172.0 132.8h1v1h-1zM201.0 136.3h1v1h-1zM178.3 139.8h1v1h-1zM188.5 128.4h1v1h-1zM181.9 128.0h1v1h-1zM173.2 138.2h1v1h-1zM187.8 115.9h1v1h-1zM181.9 132.7h1v1h-1zM197.6 128.6h1v1h-1zM197.5 127.4h1v1h-1zM195.8 128.3h1v1h-1zM171.7 142.3h1v1h-1zM187.3 117.0h1v1h-1zM204.0 130.1h1v1h-1zM211.4 134.5h1v1h-1zM172.5 128.1h1v1h-1zM164.7 130.2h1v1h-1zM186.8 127.0h1v1h-1zM168.4 133.5h1v1h-1zM193.3 130.7h1v1h-1zM194.3 129.8h1v1h-1zM186.4 134.5h1v1h-1zM166.6 138.2h1v1h-1zM188.2 137.5h1v1h-1zM164.7 150.8h1v1h-1zM197.7 131.0h1v1h-1zM173.5 125.5h1v1h-1zM180.4 145.3h1v1h-1zM177.3 141.2h1v1h-1zM180.2 140.7h1v1h-1zM183.2 129.2h1v1h-1zM175.7 136.2h1v1h-1zM180.6 127.0h1v1h-1zM174.0 129.2h1v1h-1zM196.9 130.9h1v1h-1zM171.1 138.2h1v1h-1zM165.9 142.4h1v1h-1zM168.5 137.8h1v1h-1zM178.0 130.0h1v1h-1zM183.7 129.3h1v1h-1zM181.8 130.9h1v1h-1zM169.2 131.1h1v1h-1zM197.6 120.5h1v1h-1zM166.7 133.6h1v1h-1zM165.3 131.7h1v1h-1zM180.0 137.2h1v1h-1zM173.7 137.0h1v1h-1zM182.3 140.6h1v1h-1zM183.1 130.8h1v1h-1zM188.5 131.8h1v1h-1zM182.3 114.8h1v1h-1zM194.2 127.5h1v1h-1zM166.2 132.1h1v1h-1zM189.1 150.6h1v1h-1zM180.5 130.5h1v1h-1zM182.8 132.1h1v1h-1zM180.6 122.5h1v1h-1zM186.8 134.1h1v1h-1zM179.7 117.2h1v1h-1zM172.3 139.6h1v1h-1zM186.2 130.9h1v1h-1zM185.9 121.4h1v1h-1zM195.7 126.4h1v1h-1zM182.9 133.4h1v1h-1zM179.7 125.7h1v1h-1zM167.6 144.9h1v1h-1zM177.1 141.9h1v1h-1zM173.8 125.7h1v1h-1zM165.8 135.0h1v1h-1zM167.1 138.7h1v1h-1zM175.7 142.5h1v1h-1zM165.0 136.7h1v1h-1zM165.4 151.1h1v1h-1zM177.8 125.5h1v1h-1zM204.1 129.9h1v1h-1zM173.0 137.6h1v1h-1zM187.9 124.3h1v1h-1zM171.2 132.0h1v1h-1zM182.0 124.1h1v1h-1zM177.6 135.8h1v1h-1zM172.4 145.9h1v1h-1zM185.6 126.6h1v1h-1zM195.6 127.6h1v1h-1zM177.0 141.6h1v1h-1zM168.8 142.1h1v1h-1zM186.4 131.3h1v1h-1zM165.5 140.4h1v1h-1zM179.0 142.1h1v1h-1zM182.2 128.9h1v1h-1zM170.3 146.7h1v1h-1zM178.6 131.8h1v1h-1zM179.4 121.5h1v1h-1zM184.1 140.5h1v1h-1zM191.5 135.8h1v1h-1zM190.5 130.2h1v1h-1zM196.9 137.3h1v1h-1zM190.9 127.5h1v1h-1zM171.8 130.1h1v1h-1zM209.0 123.6h1v1h-1zM173.4 136.4h1v1h-1zM197.7 127.2h1v1h-1zM199.8 133.8h1v1h-1zM197.8 141.6h1v1h-1zM180.5 135.8h1v1h-1zM176.7 124.7h1v1h-1zM175.4 132.0h1v1h-1zM204.2 121.1h1v1h-1zM177.6 140.0h1v1h-1zM165.3 135.8h1v1h-1zM192.9 121.7h1v1h-1zM185.3 115.3h1v1h-1zM191.6 149.0h1v1h-1zM172.1 129.2h1v1h-1zM177.8 127.5h1v1h-1zM212.6 131.5h1v1h-1zM208.5 127.1h1v1h-1zM165.1 136.5h1v1h-1zM193.1 134.9h1v1h-1zM201.1 135.2h1v1h-1zM180.2 126.3h1v1h-1zM180.0 138.0h1v1h-1zM182.3 127.9h1v1h-1zM202.9 117.2h1v1h-1zM204.6 127.7h1v1h-1zM164.9 138.2h1v1h-1zM177.6 142.0h1v1h-1zM176.4 135.0h1v1h-1zM183.1 125.6h1v1h-1zM171.7 126.6h1v1h-1zM183.0 127.0h1v1h-1zM197.2 139.1h1v1h-1zM201.4 134.0h1v1h-1zM187.2 123.2h1v1h-1zM193.4 142.6h1v1h-1zM184.4 123.5h1v1h-1zM181.1 133.9h1v1h-1zM183.3 119.8h1v1h-1zM176.1 142.0h1v1h-1zM169.4 140.4h1v1h-1zM179.7 130.9h1v1h-1zM181.5 146.8h1v1h-1zM164.6 132.2h1v1h-1zM191.1 141.5h1v1h-1zM193.6 149.4h1v1h-1zM210.0 121.5h1v1h-1zM165.6 133.8h1v1h-1zM182.1 136.6h1v1h-1zM178.2 135.8h1v1h-1zM181.3 140.4h1v1h-1zM175.8 130.2h1v1h-1zM188.8 141.9h1v1h-1zM176.7 122.0h1v1h-1zM191.0 117.8h1v1h-1zM166.5 145.1h1v1h-1zM165.8 150.7h1v1h-1zM178.1 142.4h1v1h-1zM169.6 141.7h1v1h-1zM180.3 126.9h1v1h-1zM189.2 145.2h1v1h-1zM200.2 131.2h1v1h-1zM170.7 136.1h1v1h-1zM177.8 145.1h1v1h-1zM201.0 132.9h1v1h-1zM175.4 130.5h1v1h-1zM202.4 124.2h1v1h-1zM171.9 132.1h1v1h-1zM195.7 126.7h1v1h-1zM190.2 134.8h1v1h-1zM181.7 146.5h1v1h-1zM174.0 144.0h1v1h-1zM182.6 121.1h1v1h-1zM165.3 150.0h1v1h-1zM171.5 136.4h1v1h-1zM196.4 135.7h1v1h-1zM173.2 125.7h1v1h-1zM187.0 127.7h1v1h-1zM192.5 136.4h1v1h-1zM185.2 137.5h1v1h-1zM174.0 134.0h1v1h-1zM187.7 141.7h1v1h-1zM173.4 130.4h1v1h-1zM184.5 127.2h1v1h-1zM178.8 140.2h1v1h-1zM191.9 125.9h1v1h-1zM165.7 134.5h1v1h-1zM173.5 129.9h1v1h-1zM201.3 130.5h1v1h-1zM171.0 133.8h1v1h-1zM183.6 128.2h1v1h-1zM165.8 135.2h1v1h-1zM193.2 124.8h1v1h-1zM190.0 121.6h1v1h-1zM172.7 125.7h1v1h-1zM185.0 140.2h1v1h-1zM179.0 131.7h1v1h-1zM186.5 121.3h1v1h-1zM184.8 136.4h1v1h-1zM208.6 129.1h1v1h-1zM172.7 128.1h1v1h-1zM177.6 140.4h1v1h-1zM169.9 126.7h1v1h-1zM169.9 135.3h1v1h-1zM177.1 135.8h1v1h-1zM172.8 134.2h1v1h-1zM189.8 122.8h1v1h-1zM178.3 143.2h1v1h-1zM164.9 137.3h1v1h-1zM165.1 129.8h1v1h-1zM182.9 131.9h1v1h-1zM165.9 142.2h1v1h-1zM173.7 129.8h1v1h-1zM177.7 129.3h1v1h-1zM188.7 146.6h1v1h-1zM179.8 123.6h1v1h-1zM176.5 133.4h1v1h-1zM181.0 143.0h1v1h-1zM208.6 127.5h1v1h-1zM190.2 134.6h1v1h-1zM199.3 119.7h1v1h-1zM196.6 121.9h1v1h-1zM190.9 119.9h1v1h-1zM187.4 130.6h1v1h-1zM192.2 137.6h1v1h-1zM165.0 134.0h1v1h-1zM184.4 138.0h1v1h-1zM179.4 141.2h1v1h-1zM172.5 133.9h1v1h-1zM184.0 126.0h1v1h-1zM181.5 128.2h1v1h-1zM190.7 136.4h1v1h-1zM165.6 143.3h1v1h-1zM179.5 137.8h1v1h-1zM208.9 131.7h1v1h-1zM188.2 137.5h1v1h-1zM190.8 140.8h1v1h-1zM193.9 128.6h1v1h-1zM177.8 143.5h1v1h-1zM202.4 132.5h1v1h-1zM199.7 147.6h1v1h-1zM168.2 122.1h1v1h-1zM203.8 127.5h1v1h-1zM194.5 125.1h1v1h-1zM178.3 132.9h1v1h-1zM168.9 146.8h1v1h-1zM184.0 126.8h1v1h-1zM184.5 142.1h1v1h-1zM192.7 129.7h1v1h-1zM191.5 132.9h1v1h-1zM179.4 125.4h1v1h-1zM198.9 138.3h1v1h-1zM169.4 128.5h1v1h-1zM186.8 131.4h1v1h-1zM170.9 127.8h1v1h-1zM184.8 130.6h1v1h-1zM187.2 135.8h1v1h-1zM187.3 130.7h1v1h-1zM191.1 127.7h1v1h-1zM167.3 142.2h1v1h-1zM179.4 124.5h1v1h-1zM174.8 125.9h1v1h-1zM195.4 122.8h1v1h-1zM209.4 126.3h1v1h-1zM186.4 122.3h1v1h-1zM187.4 123.8h1v1h-1zM181.0 122.1h1v1h-1zM186.8 146.9h1v1h-1zM195.5 131.2h1v1h-1zM172.0 137.8h1v1h-1zM179.2 124.7h1v1h-1zM186.5 132.4h1v1h-1zM182.4 140.0h1v1h-1zM174.9 138.4h1v1h-1zM179.9 142.7h1v1h-1zM177.8 126.1h1v1h-1zM188.0 131.5h1v1h-1zM186.7 133.7h1v1h-1zM168.4 129.4h1v1h-1zM209.3 122.2h1v1h-1zM190.7 111.5h1v1h-1zM168.1 132.3h1v1h-1zM178.5 136.0h1v1h-1zM165.8 138.4h1v1h-1zM187.3 144.2h1v1h-1zM179.9 137.3h1v1h-1zM170.6 130.8h1v1h-1zM202.1 124.7h1v1h-1zM194.8 123.8h1v1h-1zM181.8 128.5h1v1h-1zM198.4 132.3h1v1h-1zM180.8 144.1h1v1h-1zM165.4 144.7h1v1h-1zM193.2 127.3h1v1h-1zM185.7 121.8h1v1h-1zM165.3 127.2h1v1h-1zM183.6 126.5h1v1h-1zM199.0 135.1h1v1h-1zM172.2 132.2h1v1h-1zM181.9 137.6h1v1h-1zM181.1 138.9h1v1h-1zM184.2 135.5h1v1h-1zM202.8 136.0h1v1h-1zM189.5 130.5h1v1h-1zM201.4 135.7h1v1h-1zM177.0 120.6h1v1h-1zM174.7 137.8h1v1h-1zM177.9 141.7h1v1h-1zM197.1 117.4h1v1h-1zM180.8 139.2h1v1h-1zM166.4 131.7h1v1h-1zM176.2 130.1h1v1h-1zM165.4 143.3h1v1h-1zM190.0 127.7h1v1h-1zM165.1 139.0h1v1h-1zM184.1 132.6h1v1h-1zM178.5 137.3h1v1h-1zM184.3 128.4h1v1h-1zM165.2 142.3h1v1h-1zM193.7 131.8h1v1h-1zM197.1 136.5h1v1h-1zM205.4 119.7h1v1h-1zM177.7 112.5h1v1h-1zM199.7 116.2h1v1h-1zM168.3 137.2h1v1h-1zM188.2 123.2h1v1h-1zM183.5 142.8h1v1h-1zM197.1 130.5h1v1h-1zM187.8 134.0h1v1h-1zM181.2 143.9h1v1h-1zM190.5 135.8h1v1h-1zM164.7 134.9h1v1h-1zM182.1 125.5h1v1h-1zM192.3 139.9h1v1h-1zM180.5 133.4h1v1h-1zM183.6 140.8h1v1h-1zM183.5 125.0h1v1h-1zM197.4 117.8h1v1h-1zM191.6 150.3h1v1h-1zM179.3 137.9h1v1h-1zM165.4 129.4h1v1h-1zM193.4 130.2h1v1h-1zM186.9 128.0h1v1h-1zM180.0 122.8h1v1h-1zM204.3 121.0h1v1h-1zM175.9 132.5h1v1h-1zM194.2 124.3h1v1h-1zM174.4 127.4h1v1h-1zM191.2 126.2h1v1h-1zM177.6 134.3h1v1h-1zM165.7 138.7h1v1h-1zM177.3 136.5h1v1h-1zM179.2 136.2h1v1h-1zM183.6 131.8h1v1h-1zM175.3 135.7h1v1h-1zM181.5 129.3h1v1h-1zM187.8 134.4h1v1h-1zM172.7 148.1h1v1h-1zM167.6 133.4h1v1h-1zM171.6 123.0h1v1h-1zM180.7 136.3h1v1h-1zM180.7 137.6h1v1h-1zM175.1 134.2h1v1h-1zM165.3 136.1h1v1h-1zM181.5 140.2h1v1h-1zM194.8 127.0h1v1h-1zM195.5 134.9h1v1h-1zM167.8 145.8h1v1h-1zM165.1 150.8h1v1h-1zM201.2 132.0h1v1h-1zM184.9 136.5h1v1h-1zM180.8 121.0h1v1h-1zM165.6 145.7h1v1h-1zM184.2 139.6h1v1h-1zM190.8 120.7h1v1h-1zM193.2 124.4h1v1h-1zM180.6 125.5h1v1h-1zM173.0 144.5h1v1h-1zM179.5 135.6h1v1h-1zM197.1 136.9h1v1h-1zM196.2 135.6h1v1h-1zM167.5 149.8h1v1h-1zM182.1 144.2h1v1h-1zM185.1 131.9h1v1h-1zM177.8 149.1h1v1h-1zM176.4 130.9h1v1h-1zM165.5 132.8h1v1h-1zM182.8 137.1h1v1h-1zM185.0 127.2h1v1h-1zM182.3 139.0h1v1h-1zM191.9 135.9h1v1h-1zM186.9 124.2h1v1h-1zM198.1 116.6h1v1h-1zM194.8 128.7h1v1h-1zM180.2 132.0h1v1h-1zM188.8 108.0h1v1h-1zM190.4 137.4h1v1h-1zM200.7 140.8h1v1h-1zM194.5 139.9h1v1h-1zM169.6 140.0h1v1h-1zM179.2 144.3h1v1h-1zM189.9 132.0h1v1h-1zM198.6 136.9h1v1h-1zM164.9 132.9h1v1h-1zM179.9 126.0h1v1h-1zM165.2 149.5h1v1h-1zM183.6 117.4h1v1h-1zM167.9 151.4h1v1h-1zM177.1 123.2h1v1h-1zM201.4 138.8h1v1h-1zM175.3 149.1h1v1h-1zM172.5 142.9h1v1h-1zM187.7 122.8h1v1h-1zM211.0 128.7h1v1h-1zM192.3 128.8h1v1h-1zM184.1 117.5h1v1h-1zM190.9 118.6h1v1h-1zM186.2 125.3h1v1h-1zM188.6 132.2h1v1h-1zM174.3 138.1h1v1h-1zM182.7 135.8h1v1h-1zM178.5 139.4h1v1h-1zM192.8 132.3h1v1h-1zM181.2 135.0h1v1h-1zM198.2 133.2h1v1h-1zM199.4 135.5h1v1h-1zM200.8 123.6h1v1h-1zM176.7 130.8h1v1h-1zM196.1 137.0h1v1h-1zM179.9 131.1h1v1h-1zM180.1 135.8h1v1h-1zM182.8 130.4h1v1h-1zM191.8 119.1h1v1h-1zM178.7 111.0h1v1h-1zM178.7 120.0h1v1h-1zM181.1 144.6h1v1h-1zM177.4 136.9h1v1h-1zM195.3 145.5h1v1h-1zM175.1 135.8h1v1h-1zM190.4 127.9h1v1h-1zM192.8 131.6h1v1h-1zM179.8 124.2h1v1h-1zM203.0 124.9h1v1h-1zM184.4 139.1h1v1h-1zM207.6 123.6h1v1h-1zM189.9 143.6h1v1h-1zM189.8 112.2h1v1h-1zM180.6 135.0h1v1h-1zM200.8 129.8h1v1h-1zM192.6 115.3h1v1h-1zM168.7 142.8h1v1h-1zM190.7 130.0h1v1h-1zM183.1 134.1h1v1h-1zM184.1 129.8h1v1h-1zM176.9 136.5h1v1h-1zM185.4 140.7h1v1h-1zM187.9 148.7h1v1h-1zM190.2 132.0h1v1h-1zM168.7 125.9h1v1h-1zM168.7 120.2h1v1h-1zM174.0 125.6h1v1h-1zM181.8 120.5h1v1h-1zM180.0 125.5h1v1h-1zM178.8 148.5h1v1h-1zM187.2 128.0h1v1h-1zM187.4 118.7h1v1h-1zM173.9 146.2h1v1h-1zM185.6 137.6h1v1h-1zM181.4 133.2h1v1h-1zM172.9 126.8h1v1h-1zM181.2 119.3h1v1h-1zM185.6 123.9h1v1h-1zM179.2 138.9h1v1h-1zM176.4 141.3h1v1h-1zM187.9 130.5h1v1h-1zM169.8 148.1h1v1h-1zM172.4 149.7h1v1h-1zM172.1 147.4h1v1h-1zM191.0 139.9h1v1h-1zM175.6 135.6h1v1h-1zM183.0 129.5h1v1h-1zM191.6 125.6h1v1h-1zM178.5 124.2h1v1h-1zM187.0 137.4h1v1h-1zM200.3 137.8h1v1h-1zM188.2 121.7h1v1h-1zM184.0 129.9h1v1h-1zM184.1 127.3h1v1h-1zM185.3 132.2h1v1h-1zM190.9 145.7h1v1h-1zM185.6 134.5h1v1h-1zM205.8 124.9h1v1h-1zM174.8 129.7h1v1h-1zM178.1 143.3h1v1h-1zM179.3 129.8h1v1h-1zM196.6 121.2h1v1h-1zM185.3 133.5h1v1h-1zM185.0 122.9h1v1h-1zM181.1 124.2h1v1h-1zM173.3 135.3h1v1h-1zM191.7 125.2h1v1h-1zM185.0 136.3h1v1h-1zM165.4 141.6h1v1h-1zM172.7 138.5h1v1h-1zM201.2 134.3h1v1h-1zM192.6 130.6h1v1h-1zM169.6 135.3h1v1h-1zM191.5 140.0h1v1h-1zM169.0 139.3h1v1h-1zM191.1 135.5h1v1h-1zM187.6 128.1h1v1h-1zM182.8 129.4h1v1h-1zM197.5 130.7h1v1h-1zM186.4 140.3h1v1h-1zM174.1 135.8h1v1h-1zM192.2 135.8h1v1h-1zM166.3 129.7h1v1h-1zM210.4 146.1h1v1h-1zM170.2 135.1h1v1h-1zM188.3 138.9h1v1h-1zM186.5 123.4h1v1h-1zM179.4 128.0h1v1h-1zM184.1 139.8h1v1h-1zM175.4 139.5h1v1h-1zM198.2 120.0h1v1h-1zM185.4 144.4h1v1h-1zM176.9 137.5h1v1h-1zM165.8 138.7h1v1h-1zM186.0 142.4h1v1h-1zM177.6 137.7h1v1h-1zM204.2 122.4h1v1h-1zM191.6 130.0h1v1h-1zM167.7 129.4h1v1h-1zM174.7 149.9h1v1h-1zM191.1 133.5h1v1h-1zM182.6 128.9h1v1h-1zM179.9 130.4h1v1h-1zM197.6 131.7h1v1h-1zM178.5 133.8h1v1h-1zM190.1 134.2h1v1h-1zM183.6 138.0h1v1h-1zM181.7 128.9h1v1h-1zM173.1 136.7h1v1h-1zM165.6 142.6h1v1h-1zM183.5 128.6h1v1h-1zM170.6 136.7h1v1h-1zM171.8 133.1h1v1h-1zM185.7 128.7h1v1h-1zM180.2 144.6h1v1h-1zM176.1 145.0h1v1h-1zM174.7 135.3h1v1h-1zM195.1 134.8h1v1h-1zM173.6 133.6h1v1h-1zM164.7 123.4h1v1h-1zM164.7 129.5h1v1h-1zM194.0 122.6h1v1h-1zM181.4 127.5h1v1h-1zM178.6 126.5h1v1h-1zM175.0 141.2h1v1h-1zM187.0 135.4h1v1h-1zM190.4 137.7h1v1h-1zM185.7 139.8h1v1h-1zM181.4 116.5h1v1h-1zM170.1 145.6h1v1h-1zM164.8 139.3h1v1h-1zM201.4 131.8h1v1h-1zM193.4 131.7h1v1h-1zM175.3 119.1h1v1h-1zM195.1 144.1h1v1h-1zM171.3 132.5h1v1h-1zM190.1 132.8h1v1h-1zM186.2 127.9h1v1h-1zM178.5 126.2h1v1h-1zM172.8 129.5h1v1h-1zM193.2 128.7h1v1h-1zM178.6 134.1h1v1h-1zM164.9 137.3h1v1h-1zM166.2 150.6h1v1h-1zM191.4 137.9h1v1h-1zM186.7 131.6h1v1h-1zM164.8 145.0h1v1h-1zM179.5 130.1h1v1h-1zM183.4 142.5h1v1h-1zM176.5 133.6h1v1h-1zM167.9 140.0h1v1h-1zM176.3 151.0h1v1h-1zM202.5 121.2h1v1h-1zM177.2 126.9h1v1h-1zM170.6 124.0h1v1h-1zM178.3 132.9h1v1h-1zM175.9 133.9h1v1h-1zM186.4 131.8h1v1h-1zM173.0 129.4h1v1h-1zM189.0 131.3h1v1h-1zM194.7 135.7h1v1h-1zM197.3 130.5h1v1h-1zM200.0 132.0h1v1h-1zM179.7 132.0h1v1h-1zM195.2 118.6h1v1h-1zM177.3 139.9h1v1h-1zM191.4 121.1h1v1h-1zM190.7 133.5h1v1h-1zM197.2 129.5h1v1h-1zM184.5 127.6h1v1h-1zM176.0 151.0h1v1h-1zM185.1 126.8h1v1h-1zM187.6 127.5h1v1h-1zM184.4 124.4h1v1h-1zM183.9 121.0h1v1h-1zM183.2 126.6h1v1h-1zM176.2 132.2h1v1h-1zM187.5 130.6h1v1h-1zM200.3 128.2h1v1h-1zM195.5 127.0h1v1h-1zM195.1 136.8h1v1h-1zM178.4 126.5h1v1h-1zM173.2 132.2h1v1h-1zM189.1 129.8h1v1h-1zM187.6 127.5h1v1h-1zM179.9 130.4h1v1h-1zM176.6 137.9h1v1h-1zM165.0 138.3h1v1h-1zM165.5 137.6h1v1h-1zM185.0 140.8h1v1h-1zM183.4 130.5h1v1h-1zM178.6 141.0h1v1h-1zM181.3 130.1h1v1h-1zM193.2 115.3h1v1h-1zM165.2 135.9h1v1h-1zM187.6 136.6h1v1h-1zM186.3 115.8h1v1h-1zM183.9 122.0h1v1h-1zM194.8 133.3h1v1h-1zM165.0 130.5h1v1h-1zM200.3 142.2h1v1h-1zM180.3 138.9h1v1h-1zM184.9 131.9h1v1h-1zM195.7 134.3h1v1h-1zM204.7 140.7h1v1h-1zM185.1 111.5h1v1h-1zM181.4 128.3h1v1h-1zM177.2 108.6h1v1h-1zM192.8 133.1h1v1h-1zM165.3 136.7h1v1h-1zM191.0 146.7h1v1h-1zM177.0 130.0h1v1h-1zM165.8 141.3h1v1h-1zM165.8 147.9h1v1h-1zM187.2 122.9h1v1h-1zM196.0 134.7h1v1h-1zM188.4 145.3h1v1h-1zM165.6 132.9h1v1h-1zM178.0 142.0h1v1h-1zM165.3 140.1h1v1h-1zM208.3 142.3h1v1h-1zM170.6 127.2h1v1h-1zM165.6 143.3h1v1h-1zM183.4 123.9h1v1h-1zM181.7 118.9h1v1h-1zM182.2 133.9h1v1h-1zM187.7 128.9h1v1h-1zM165.3 144.6h1v1h-1zM179.9 131.0h1v1h-1zM168.5 142.0h1v1h-1zM174.0 132.4h1v1h-1zM177.6 129.5h1v1h-1zM187.0 139.0h1v1h-1zM179.2 143.5h1v1h-1zM183.8 126.3h1v1h-1zM171.2 149.6h1v1h-1zM188.5 133.7h1v1h-1zM182.2 129.4h1v1h-1zM186.9 124.6h1v1h-1zM177.3 151.5h1v1h-1zM177.0 136.7h1v1h-1zM177.8 131.0h1v1h-1zM179.7 123.5h1v1h-1zM175.3 134.8h1v1h-1zM178.4 117.4h1v1h-1zM171.6 143.5h1v1h-1zM178.2 128.1h1v1h-1zM182.7 134.3h1v1h-1zM165.7 150.5h1v1h-1zM180.1 135.4h1v1h-1zM202.9 125.0h1v1h-1zM187.5 124.1h1v1h-1zM172.2 145.1h1v1h-1zM178.3 122.4h1v1h-1zM194.0 134.7h1v1h-1zM168.2 129.2h1v1h-1zM195.2 138.4h1v1h-1zM201.2 134.4h1v1h-1zM191.2 132.4h1v1h-1zM178.8 138.7h1v1h-1zM190.6 126.1h1v1h-1zM191.9 132.8h1v1h-1zM172.7 118.6h1v1h-1zM202.4 129.5h1v1h-1zM169.3 124.5h1v1h-1zM184.1 132.1h1v1h-1zM192.5 127.7h1v1h-1zM183.9 117.0h1v1h-1zM165.6 133.3h1v1h-1zM171.1 135.2h1v1h-1zM180.6 131.4h1v1h-1zM165.4 134.5h1v1h-1zM209.6 129.5h1v1h-1zM193.0 125.4h1v1h-1zM186.0 136.0h1v1h-1zM190.0 129.0h1v1h-1zM199.4 122.2h1v1h-1zM174.3 150.7h1v1h-1zM200.1 124.8h1v1h-1zM184.6 137.2h1v1h-1zM211.7 115.2h1v1h-1zM183.7 135.6h1v1h-1zM189.3 120.6h1v1h-1zM188.6 124.0h1v1h-1zM185.6 129.4h1v1h-1zM167.8 135.7h1v1h-1zM183.2 133.4h1v1h-1zM179.7 131.2h1v1h-1zM175.8 136.2h1v1h-1zM167.3 118.6h1v1h-1zM172.1 145.0h1v1h-1zM176.3 137.8h1v1h-1zM170.0 151.5h1v1h-1zM201.8 120.2h1v1h-1zM178.1 129.7h1v1h-1zM169.6 148.9h1v1h-1zM186.5 127.4h1v1h-1zM174.5 135.0h1v1h-1zM165.4 142.9h1v1h-1zM194.9 128.5h1v1h-1zM184.7 127.9h1v1h-1zM165.0 149.2h1v1h-1zM167.6 134.7h1v1h-1zM175.2 149.6h1v1h-1zM193.0 131.8h1v1h-1zM194.2 114.3h1v1h-1zM165.3 147.8h1v1h-1zM195.2 118.7h1v1h-1zM187.2 129.0h1v1h-1zM190.7 125.8h1v1h-1zM167.6 130.8h1v1h-1zM194.2 133.3h1v1h-1zM171.8 139.5h1v1h-1zM175.7 130.5h1v1h-1zM191.7 130.5h1v1h-1zM179.0 147.8h1v1h-1zM177.5 142.0h1v1h-1zM176.0 131.9h1v1h-1zM184.5 104.9h1v1h-1zM172.3 139.7h1v1h-1zM169.1 138.3h1v1h-1zM179.2 125.9h1v1h-1zM164.7 131.5h1v1h-1zM190.1 135.2h1v1h-1zM174.5 133.4h1v1h-1zM188.7 132.7h1v1h-1zM180.7 133.3h1v1h-1zM169.8 134.0h1v1h-1zM189.3 130.9h1v1h-1zM169.1 136.3h1v1h-1zM181.3 130.8h1v1h-1zM177.6 127.7h1v1h-1zM195.3 123.3h1v1h-1zM185.3 122.7h1v1h-1zM182.1 134.4h1v1h-1zM165.6 137.0h1v1h-1zM196.9 136.9h1v1h-1zM191.7 140.6h1v1h-1zM186.1 117.8h1v1h-1zM183.1 141.9h1v1h-1zM185.9 133.2h1v1h-1zM191.9 134.7h1v1h-1zM165.0 141.7h1v1h-1zM189.5 123.2h1v1h-1zM185.8 132.0h1v1h-1zM190.6 132.5h1v1h-1zM177.2 132.5h1v1h-1zM195.4 133.6h1v1h-1zM188.4 136.5h1v1h-1zM173.8 133.8h1v1h-1zM166.8 143.5h1v1h-1zM168.5 141.1h1v1h-1zM171.8 117.5h1v1h-1zM189.7 130.6h1v1h-1zM166.7 151.0h1v1h-1zM187.7 136.5h1v1h-1zM194.9 132.9h1v1h-1zM167.1 141.7h1v1h-1zM165.7 148.4h1v1h-1zM190.9 135.0h1v1h-1zM190.6 135.3h1v1h-1zM179.7 137.9h1v1h-1zM176.0 139.6h1v1h-1zM200.1 129.0h1v1h-1zM165.9 125.6h1v1h-1zM197.3 120.6h1v1h-1zM181.2 134.5h1v1h-1zM176.8 133.4h1v1h-1zM188.0 131.6h1v1h-1zM172.8 142.8h1v1h-1zM202.1 115.1h1v1h-1zM167.8 141.5h1v1h-1zM182.0 128.6h1v1h-1zM181.1 131.4h1v1h-1zM186.8 123.1h1v1h-1zM167.0 128.3h1v1h-1zM187.6 127.5h1v1h-1zM164.6 139.1h1v1h-1zM179.4 128.8h1v1h-1zM190.5 125.7h1v1h-1zM167.2 127.1h1v1h-1zM183.2 125.6h1v1h-1zM182.3 138.4h1v1h-1zM213.4 120.2h1v1h-1zM191.5 134.3h1v1h-1zM179.8 125.1h1v1h-1zM187.7 118.2h1v1h-1zM196.6 137.7h1v1h-1zM165.9 128.6h1v1h-1zM189.5 133.2h1v1h-1zM179.0 138.1h1v1h-1zM203.7 128.9h1v1h-1zM166.1 130.1h1v1h-1zM181.4 130.5h1v1h-1zM177.9 134.4h1v1h-1zM165.4 134.4h1v1h-1zM174.3 137.9h1v1h-1zM186.1 122.3h1v1h-1zM165.7 140.3h1v1h-1zM188.9 123.6h1v1h-1zM171.6 133.2h1v1h-1zM187.1 124.7h1v1h-1zM175.0 136.2h1v1h-1zM176.3 125.8h1v1h-1zM195.2 133.1h1v1h-1zM180.8 131.7h1v1h-1zM171.7 136.5h1v1h-1zM192.6 124.5h1v1h-1zM174.3 139.9h1v1h-1zM181.0 144.4h1v1h-1zM186.0 131.1h1v1h-1zM166.6 138.6h1v1h-1zM174.5 136.9h1v1h-1zM172.0 125.2h1v1h-1zM170.9 130.0h1v1h-1zM184.8 121.4h1v1h-1zM181.7 133.1h1v1h-1zM183.2 147.0h1v1h-1zM210.8 127.5h1v1h-1zM178.6 142.4h1v1h-1zM180.7 121.2h1v1h-1zM173.4 131.8h1v1h-1zM194.6 122.8h1v1h-1zM177.6 147.3h1v1h-1zM187.2 127.4h1v1h-1zM178.5 137.1h1v1h-1zM203.1 139.7h1v1h-1zM176.3 139.0h1v1h-1zM165.1 142.7h1v1h-1zM172.9 125.9h1v1h-1zM164.8 148.4h1v1h-1zM185.4 143.8h1v1h-1zM165.0 143.5h1v1h-1zM168.0 143.8h1v1h-1zM180.5 130.0h1v1h-1zM174.7 136.9h1v1h-1zM190.8 132.0h1v1h-1zM191.0 135.2h1v1h-1zM188.1 121.9h1v1h-1zM166.0 114.5h1v1h-1zM178.5 136.4h1v1h-1zM180.4 129.9h1v1h-1zM168.0 136.2h1v1h-1zM175.4 123.9h1v1h-1zM165.5 133.1h1v1h-1zM178.6 139.4h1v1h-1zM184.0 134.3h1v1h-1zM182.8 131.0h1v1h-1zM196.6 132.4h1v1h-1zM202.1 148.2h1v1h-1zM204.0 118.4h1v1h-1zM200.9 126.8h1v1h-1zM185.7 139.7h1v1h-1zM198.2 137.6h1v1h-1zM172.9 135.2h1v1h-1zM185.1 129.7h1v1h-1zM168.6 138.9h1v1h-1zM188.1 122.6h1v1h-1zM191.4 127.6h1v1h-1zM179.2 137.7h1v1h-1zM176.3 135.1h1v1h-1zM188.6 135.1h1v1h-1zM206.7 134.3h1v1h-1zM192.0 132.0h1v1h-1zM180.7 136.2h1v1h-1zM200.5 130.6h1v1h-1zM188.9 130.4h1v1h-1zM191.2 126.3h1v1h-1zM201.9 133.5h1v1h-1zM172.6 122.7h1v1h-1zM197.4 128.6h1v1h-1zM178.9 131.8h1v1h-1zM197.8 134.8h1v1h-1zM199.5 129.0h1v1h-1zM178.1 136.9h1v1h-1zM165.4 136.7h1v1h-1zM166.8 140.9h1v1h-1zM171.7 133.8h1v1h-1zM190.9 130.5h1v1h-1zM184.6 129.3h1v1h-1zM201.4 123.9h1v1h-1zM200.9 128.7h1v1h-1zM186.5 136.7h1v1h-1zM189.4 137.5h1v1h-1zM187.9 136.2h1v1h-1zM178.2 124.9h1v1h-1zM184.1 126.6h1v1h-1zM179.5 147.5h1v1h-1zM199.8 129.9h1v1h-1zM174.7 127.7h1v1h-1zM168.9 141.8h1v1h-1zM195.9 134.7h1v1h-1zM195.7 131.8h1v1h-1zM179.8 133.0h1v1h-1zM176.4 126.4h1v1h-1zM195.3 129.2h1v1h-1zM189.6 127.1h1v1h-1zM202.3 139.7h1v1h-1zM194.5 123.1h1v1h-1zM178.6 133.7h1v1h-1zM178.2 124.7h1v1h-1zM168.8 131.7h1v1h-1zM197.5 124.9h1v1h-1zM176.7 137.7h1v1h-1zM164.8 146.7h1v1h-1zM195.3 136.7h1v1h-1zM164.9 139.5h1v1h-1zM164.7 133.8h1v1h-1zM172.0 128.4h1v1h-1zM181.0 143.8h1v1h-1zM173.2 139.9h1v1h-1zM172.4 126.2h1v1h-1zM170.5 133.1h1v1h-1zM175.4 130.2h1v1h-1zM165.4 148.7h1v1h-1zM188.4 120.8h1v1h-1zM166.0 139.3h1v1h-1zM176.3 141.3h1v1h-1zM193.8 129.7h1v1h-1zM166.0 138.5h1v1h-1zM198.1 134.2h1v1h-1zM176.3 140.5h1v1h-1zM184.3 136.5h1v1h-1zM192.9 136.4h1v1h-1zM165.1 133.8h1v1h-1zM165.5 149.2h1v1h-1zM185.7 130.2h1v1h-1zM175.5 137.9h1v1h-1zM188.5 103.7h1v1h-1zM172.8 136.6h1v1h-1zM177.0 130.1h1v1h-1zM182.5 128.7h1v1h-1zM201.7 130.1h1v1h-1zM178.9 130.9h1v1h-1zM207.2 129.4h1v1h-1zM202.4 119.1h1v1h-1zM165.9 148.3h1v1h-1zM170.7 132.8h1v1h-1zM198.1 128.6h1v1h-1zM184.3 116.3h1v1h-1zM186.6 115.8h1v1h-1zM171.8 123.3h1v1h-1zM176.4 151.1h1v1h-1zM172.6 138.8h1v1h-1zM181.9 127.4h1v1h-1zM190.5 127.0h1v1h-1zM173.5 121.8h1v1h-1zM196.6 129.1h1v1h-1zM175.6 134.9h1v1h-1zM179.7 138.7h1v1h-1zM182.2 137.8h1v1h-1zM190.0 135.8h1v1h-1zM188.2 129.0h1v1h-1zM184.4 128.5h1v1h-1zM170.2 116.7h1v1h-1zM174.2 129.4h1v1h-1zM182.6 136.0h1v1h-1zM203.0 119.5h1v1h-1zM179.1 129.5h1v1h-1zM190.5 119.1h1v1h-1zM194.4 131.1h1v1h-1zM179.4 142.3h1v1h-1zM185.5 125.6h1v1h-1zM177.8 129.1h1v1h-1zM184.0 135.9h1v1h-1zM167.9 128.2h1v1h-1zM212.5 121.3h1v1h-1zM169.6 143.7h1v1h-1zM185.4 127.3h1v1h-1zM200.4 146.4h1v1h-1zM204.4 126.2h1v1h-1zM184.0 129.6h1v1h-1zM178.2 136.0h1v1h-1zM194.9 142.7h1v1h-1zM181.1 129.0h1v1h-1zM165.3 138.9h1v1h-1zM200.6 125.6h1v1h-1zM190.8 125.5h1v1h-1zM185.0 129.5h1v1h-1zM172.8 136.8h1v1h-1zM204.4 136.6h1v1h-1zM180.4 142.8h1v1h-1zM176.1 140.2h1v1h-1zM167.9 134.7h1v1h-1zM171.2 131.7h1v1h-1zM203.9 146.7h1v1h-1zM180.5 149.0h1v1h-1zM181.0 130.4h1v1h-1zM185.0 123.2h1v1h-1zM184.3 145.3h1v1h-1zM200.3 135.5h1v1h-1zM181.4 130.7h1v1h-1zM172.0 134.8h1v1h-1zM200.2 141.1h1v1h-1zM165.8 141.1h1v1h-1zM180.5 142.9h1v1h-1zM165.6 132.8h1v1h-1zM187.1 141.6h1v1h-1zM189.3 131.7h1v1h-1zM184.4 142.4h1v1h-1zM179.9 129.9h1v1h-1zM165.5 145.9h1v1h-1zM194.0 115.0h1v1h-1zM190.3 131.4h1v1h-1zM169.6 139.1h1v1h-1zM179.5 130.3h1v1h-1zM179.5 115.0h1v1h-1zM198.2 145.4h1v1h-1zM168.6 136.3h1v1h-1zM194.2 126.9h1v1h-1zM165.3 150.6h1v1h-1zM198.5 124.5h1v1h-1zM212.9 119.3h1v1h-1zM188.0 120.0h1v1h-1zM177.2 138.3h1v1h-1zM170.5 134.0h1v1h-1zM187.7 124.5h1v1h-1zM199.7 123.9h1v1h-1zM197.2 131.1h1v1h-1zM171.0 130.2h1v1h-1zM194.6 119.8h1v1h-1zM180.5 136.9h1v1h-1zM178.2 131.2h1v1h-1zM181.9 134.4h1v1h-1zM185.5 134.3h1v1h-1zM186.5 136.4h1v1h-1zM165.1 139.8h1v1h-1zM205.0 133.4h1v1h-1zM193.4 120.0h1v1h-1zM176.1 132.5h1v1h-1zM164.7 135.3h1v1h-1zM200.8 126.9h1v1h-1zM165.7 143.1h1v1h-1zM173.7 134.2h1v1h-1zM185.9 135.2h1v1h-1zM178.8 140.0h1v1h-1zM189.4 129.7h1v1h-1zM186.6 135.7h1v1h-1zM188.4 133.7h1v1h-1zM186.1 133.2h1v1h-1zM174.6 143.1h1v1h-1zM165.5 148.7h1v1h-1zM188.0 106.9h1v1h-1zM164.8 143.9h1v1h-1zM182.4 105.9h1v1h-1zM180.1 142.3h1v1h-1zM187.5 115.9h1v1h-1zM165.9 150.0h1v1h-1zM197.3 138.0h1v1h-1zM181.3 138.0h1v1h-1zM191.6 141.7h1v1h-1zM186.2 130.3h1v1h-1zM189.3 128.0h1v1h-1zM184.4 145.9h1v1h-1zM178.7 141.0h1v1h-1zM188.9 133.1h1v1h-1zM184.4 124.1h1v1h-1zM181.3 120.4h1v1h-1zM192.5 141.7h1v1h-1zM175.6 125.4h1v1h-1zM176.6 125.3h1v1h-1zM175.9 135.5h1v1h-1zM194.8 141.9h1v1h-1zM183.5 136.1h1v1h-1zM184.6 119.4h1v1h-1zM188.4 141.7h1v1h-1zM194.0 133.5h1v1h-1zM184.5 123.6h1v1h-1zM178.9 126.5h1v1h-1zM184.7 139.3h1v1h-1zM178.9 144.2h1v1h-1zM196.6 128.2h1v1h-1zM194.1 138.5h1v1h-1zM192.6 139.5h1v1h-1zM185.9 132.2h1v1h-1zM175.5 132.3h1v1h-1zM183.0 139.4h1v1h-1zM173.7 145.1h1v1h-1zM198.9 127.7h1v1h-1zM178.2 128.7h1v1h-1zM172.3 144.3h1v1h-1zM186.8 119.8h1v1h-1zM186.1 130.9h1v1h-1zM203.3 139.6h1v1h-1zM218.9 132.3h1v1h-1zM181.7 143.4h1v1h-1zM168.1 138.3h1v1h-1zM211.6 132.9h1v1h-1zM175.2 132.7h1v1h-1zM170.4 137.9h1v1h-1zM192.3 147.1h1v1h-1zM179.0 136.1h1v1h-1zM176.5 135.4h1v1h-1zM165.2 141.6h1v1h-1zM176.4 142.3h1v1h-1zM197.6 113.9h1v1h-1zM192.1 137.2h1v1h-1zM199.5 124.9h1v1h-1zM172.8 130.7h1v1h-1zM175.7 130.3h1v1h-1zM193.5 121.4h1v1h-1zM170.0 137.0h1v1h-1zM182.6 142.3h1v1h-1zM187.5 126.4h1v1h-1zM166.1 141.2h1v1h-1zM169.4 145.9h1v1h-1zM169.9 125.6h1v1h-1zM174.7 137.9h1v1h-1zM194.3 122.2h1v1h-1zM199.3 144.7h1v1h-1zM191.5 144.1h1v1h-1zM175.0 138.0h1v1h-1zM175.8 119.6h1v1h-1zM180.6 124.5h1v1h-1zM180.4 133.9h1v1h-1zM188.6 128.1h1v1h-1zM188.5 144.7h1v1h-1zM188.6 129.0h1v1h-1zM189.7 131.6h1v1h-1zM187.4 141.7h1v1h-1zM196.0 138.9h1v1h-1zM199.2 121.1h1v1h-1zM181.8 135.4h1v1h-1zM191.8 133.0h1v1h-1zM168.4 134.3h1v1h-1zM168.0 140.0h1v1h-1zM203.9 121.5h1v1h-1zM177.2 134.8h1v1h-1zM174.9 134.9h1v1h-1zM165.3 132.0h1v1h-1zM182.7 137.6h1v1h-1zM175.2 114.6h1v1h-1zM177.3 137.9h1v1h-1zM175.6 138.5h1v1h-1zM198.1 123.9h1v1h-1zM187.5 128.9h1v1h-1zM169.1 151.0h1v1h-1zM200.5 123.0h1v1h-1zM185.1 130.2h1v1h-1zM184.9 132.2h1v1h-1zM179.4 150.8h1v1h-1zM189.3 130.9h1v1h-1zM194.2 127.7h1v1h-1zM179.2 129.2h1v1h-1zM184.8 135.8h1v1h-1zM178.1 137.3h1v1h-1zM179.0 137.3h1v1h-1zM194.2 107.7h1v1h-1zM181.2 124.7h1v1h-1zM164.7 151.4h1v1h-1zM176.9 135.5h1v1h-1zM173.7 145.6h1v1h-1zM172.5 139.4h1v1h-1zM184.4 135.1h1v1h-1zM168.3 139.3h1v1h-1zM200.5 135.3h1v1h-1zM183.3 125.0h1v1h-1zM173.0 139.7h1v1h-1zM217.0 114.9h1v1h-1zM176.3 133.3h1v1h-1zM183.8 131.5h1v1h-1zM188.1 133.9h1v1h-1zM165.7 146.9h1v1h-1zM184.4 143.0h1v1h-1zM178.7 122.4h1v1h-1zM185.4 137.3h1v1h-1zM184.2 124.5h1v1h-1zM165.5 147.6h1v1h-1zM174.7 138.3h1v1h-1zM181.5 137.7h1v1h-1zM183.8 132.0h1v1h-1zM168.7 141.2h1v1h-1zM167.8 134.4h1v1h-1zM185.7 127.2h1v1h-1zM172.2 139.6h1v1h-1zM165.4 139.4h1v1h-1zM165.3 135.1h1v1h-1zM195.4 126.4h1v1h-1zM190.0 129.4h1v1h-1zM187.0 124.7h1v1h-1zM197.6 113.8h1v1h-1zM179.4 127.4h1v1h-1zM192.8 127.1h1v1h-1zM185.7 141.9h1v1h-1zM195.5 136.5h1v1h-1zM174.8 141.4h1v1h-1zM189.2 138.7h1v1h-1zM188.0 127.3h1v1h-1zM183.8 135.3h1v1h-1zM189.6 121.2h1v1h-1zM177.1 142.4h1v1h-1zM175.4 141.5h1v1h-1zM179.7 134.8h1v1h-1zM165.1 128.6h1v1h-1zM172.9 138.6h1v1h-1zM165.7 150.4h1v1h-1zM170.5 134.2h1v1h-1zM192.6 144.3h1v1h-1zM185.2 120.7h1v1h-1zM179.2 126.8h1v1h-1zM186.2 139.1h1v1h-1zM194.3 134.7h1v1h-1zM186.8 135.0h1v1h-1zM180.0 132.4h1v1h-1zM198.2 142.0h1v1h-1zM169.3 135.5h1v1h-1zM194.1 131.5h1v1h-1zM180.3 129.5h1v1h-1zM201.2 135.2h1v1h-1zM164.7 139.8h1v1h-1zM191.6 140.8h1v1h-1zM195.9 122.5h1v1h-1zM191.9 137.1h1v1h-1zM167.2 131.7h1v1h-1zM185.6 126.9h1v1h-1zM166.6 151.3h1v1h-1zM195.8 122.0h1v1h-1zM179.3 133.8h1v1h-1zM187.9 125.9h1v1h-1zM180.3 137.4h1v1h-1zM171.0 128.0h1v1h-1zM183.7 150.7h1v1h-1zM186.6 136.3h1v1h-1zM167.5 140.6h1v1h-1zM167.4 140.2h1v1h-1zM176.1 130.7h1v1h-1zM170.6 149.8h1v1h-1zM175.4 145.3h1v1h-1zM191.3 132.4h1v1h-1zM165.5 144.6h1v1h-1zM182.2 133.4h1v1h-1zM165.6 139.4h1v1h-1zM186.1 124.5h1v1h-1zM195.6 130.7h1v1h-1zM167.1 139.6h1v1h-1zM190.3 138.1h1v1h-1zM197.5 136.6h1v1h-1zM169.2 129.9h1v1h-1zM181.4 130.8h1v1h-1zM178.9 133.6h1v1h-1zM175.6 120.2h1v1h-1zM190.3 132.0h1v1h-1zM188.2 125.2h1v1h-1zM176.3 133.2h1v1h-1zM185.0 136.7h1v1h-1zM173.4 136.8h1v1h-1zM179.0 137.0h1v1h-1zM164.8 138.1h1v1h-1zM190.3 130.5h1v1h-1zM202.9 121.3h1v1h-1zM178.3 139.2h1v1h-1zM188.5 134.3h1v1h-1zM165.2 136.8h1v1h-1zM179.0 135.6h1v1h-1zM189.8 129.7h1v1h-1zM206.5 132.7h1v1h-1zM181.4 130.9h1v1h-1zM177.3 138.2h1v1h-1zM203.3 138.9h1v1h-1zM186.7 145.3h1v1h-1zM186.6 146.6h1v1h-1zM168.7 127.7h1v1h-1zM200.8 127.5h1v1h-1zM165.2 133.2h1v1h-1zM185.4 140.7h1v1h-1zM178.3 144.1h1v1h-1zM181.4 133.9h1v1h-1zM184.0 126.6h1v1h-1zM174.9 151.6h1v1h-1zM168.7 146.0h1v1h-1zM178.2 137.4h1v1h-1zM182.0 122.7h1v1h-1zM182.9 141.1h1v1h-1zM178.9 140.5h1v1h-1zM179.7 129.3h1v1h-1zM169.2 130.9h1v1h-1zM203.7 116.1h1v1h-1zM201.8 127.5h1v1h-1zM166.6 121.7h1v1h-1zM181.9 131.4h1v1h-1zM178.3 141.2h1v1h-1zM189.9 141.8h1v1h-1zM166.3 132.8h1v1h-1zM178.1 140.4h1v1h-1zM188.4 120.7h1v1h-1zM179.2 134.8h1v1h-1zM189.2 124.2h1v1h-1zM194.8 124.8h1v1h-1zM174.7 130.9h1v1h-1zM182.6 145.8h1v1h-1zM197.2 125.0h1v1h-1zM198.8 129.4h1v1h-1zM191.2 131.4h1v1h-1zM184.5 125.6h1v1h-1zM183.2 128.2h1v1h-1zM182.1 123.8h1v1h-1zM190.3 143.6h1v1h-1zM202.2 124.8h1v1h-1zM176.5 139.2h1v1h-1zM206.1 126.4h1v1h-1zM188.6 126.9h1v1h-1zM175.5 121.4h1v1h-1zM207.4 132.7h1v1h-1zM196.0 142.0h1v1h-1zM178.6 133.5h1v1h-1zM183.2 128.5h1v1h-1zM187.3 128.9h1v1h-1zM181.0 131.1h1v1h-1zM176.0 119.7h1v1h-1zM183.3 123.4h1v1h-1zM183.8 133.8h1v1h-1zM180.4 143.3h1v1h-1zM207.1 123.7h1v1h-1zM184.1 136.1h1v1h-1zM197.7 131.7h1v1h-1zM177.1 138.4h1v1h-1zM200.8 126.1h1v1h-1zM180.8 138.2h1v1h-1zM197.7 127.0h1v1h-1zM178.7 127.1h1v1h-1zM192.9 137.9h1v1h-1zM196.1 121.3h1v1h-1zM179.7 143.7h1v1h-1zM195.5 132.3h1v1h-1zM180.2 135.7h1v1h-1zM179.4 127.4h1v1h-1zM169.7 132.1h1v1h-1zM196.2 121.6h1v1h-1zM191.1 128.8h1v1h-1zM180.3 134.4h1v1h-1zM172.3 122.9h1v1h-1zM181.2 140.9h1v1h-1zM192.4 119.1h1v1h-1zM185.9 134.5h1v1h-1zM169.5 131.3h1v1h-1zM179.8 138.6h1v1h-1zM189.7 140.9h1v1h-1zM191.3 149.1h1v1h-1zM175.4 145.5h1v1h-1zM179.8 127.6h1v1h-1zM167.4 126.5h1v1h-1zM174.7 138.5h1v1h-1zM194.3 135.5h1v1h-1zM199.7 130.2h1v1h-1zM181.5 140.4h1v1h-1zM196.1 130.1h1v1h-1zM177.0 141.4h1v1h-1zM175.2 135.5h1v1h-1zM174.3 129.0h1v1h-1zM182.2 137.7h1v1h-1zM188.1 120.9h1v1h-1zM165.4 136.3h1v1h-1zM195.3 128.7h1v1h-1zM192.3 142.1h1v1h-1zM173.9 127.5h1v1h-1zM181.6 132.7h1v1h-1zM190.0 128.3h1v1h-1zM187.9 135.3h1v1h-1zM179.2 124.0h1v1h-1zM177.0 145.1h1v1h-1zM178.6 127.2h1v1h-1zM203.6 126.6h1v1h-1zM175.5 130.1h1v1h-1zM186.2 123.2h1v1h-1zM188.8 125.8h1v1h-1zM188.7 128.3h1v1h-1zM172.1 136.7h1v1h-1zM201.4 118.3h1v1h-1zM194.0 127.1h1v1h-1zM181.5 130.6h1v1h-1zM178.9 125.7h1v1h-1zM179.1 139.5h1v1h-1zM164.8 125.9h1v1h-1zM174.0 141.5h1v1h-1zM187.5 118.3h1v1h-1zM190.5 133.4h1v1h-1zM189.4 137.4h1v1h-1zM179.9 133.4h1v1h-1zM183.0 127.0h1v1h-1zM189.1 117.2h1v1h-1zM192.5 132.6h1v1h-1zM185.8 138.5h1v1h-1zM175.7 137.2h1v1h-1zM194.6 135.1h1v1h-1zM164.8 144.9h1v1h-1zM168.9 137.7h1v1h-1zM179.3 142.4h1v1h-1zM173.7 138.2h1v1h-1zM187.4 127.2h1v1h-1zM198.2 131.0h1v1h-1zM190.2 130.5h1v1h-1zM170.2 140.7h1v1h-1zM208.2 127.8h1v1h-1zM202.0 122.0h1v1h-1zM202.1 129.5h1v1h-1zM193.7 132.4h1v1h-1zM170.1 144.7h1v1h-1zM188.0 143.6h1v1h-1zM187.2 138.3h1v1h-1zM187.0 142.0h1v1h-1zM192.8 132.1h1v1h-1zM165.3 147.9h1v1h-1zM183.7 144.8h1v1h-1zM186.8 128.3h1v1h-1zM175.4 124.3h1v1h-1zM199.6 126.4h1v1h-1zM188.2 128.0h1v1h-1zM180.0 123.8h1v1h-1zM176.8 151.0h1v1h-1zM183.2 129.5h1v1h-1zM192.5 138.7h1v1h-1zM199.0 135.0h1v1h-1zM190.3 125.6h1v1h-1zM185.1 123.9h1v1h-1zM177.3 119.0h1v1h-1zM188.7 134.5h1v1h-1zM213.0 125.4h1v1h-1zM165.6 126.9h1v1h-1zM200.8 132.7h1v1h-1zM171.6 127.2h1v1h-1zM183.7 139.8h1v1h-1zM177.5 133.7h1v1h-1zM194.3 118.3h1v1h-1zM175.9 123.1h1v1h-1zM165.7 131.8h1v1h-1zM181.4 130.0h1v1h-1zM178.0 139.4h1v1h-1zM186.3 123.6h1v1h-1zM164.8 138.7h1v1h-1zM178.4 142.0h1v1h-1zM167.6 132.8h1v1h-1zM189.4 126.4h1v1h-1zM165.8 149.8h1v1h-1zM176.0 137.8h1v1h-1zM203.3 130.7h1v1h-1zM184.5 125.0h1v1h-1zM202.2 125.3h1v1h-1zM187.0 117.4h1v1h-1zM178.4 147.4h1v1h-1zM174.4 137.3h1v1h-1zM198.1 126.7h1v1h-1zM196.9 128.6h1v1h-1zM183.5 137.0h1v1h-1zM168.9 132.5h1v1h-1zM187.2 127.5h1v1h-1zM176.9 137.5h1v1h-1zM187.4 127.2h1v1h-1zM205.9 133.7h1v1h-1zM194.4 123.4h1v1h-1zM180.0 132.5h1v1h-1zM182.4 121.6h1v1h-1zM212.3 123.1h1v1h-1zM180.1 126.4h1v1h-1zM188.7 132.8h1v1h-1zM191.7 124.2h1v1h-1zM178.5 127.6h1v1h-1zM165.6 148.8h1v1h-1zM179.5 132.5h1v1h-1zM166.3 125.9h1v1h-1zM178.7 132.8h1v1h-1zM182.6 127.3h1v1h-1zM176.4 128.9h1v1h-1zM173.5 146.2h1v1h-1zM189.0 130.1h1v1h-1zM193.2 144.8h1v1h-1zM184.3 137.3h1v1h-1zM180.9 136.3h1v1h-1zM178.8 138.9h1v1h-1zM194.8 142.8h1v1h-1zM165.1 135.0h1v1h-1zM206.2 132.8h1v1h-1zM172.7 144.1h1v1h-1zM171.3 126.4h1v1h-1zM190.9 124.1h1v1h-1zM187.1 130.1h1v1h-1zM176.4 141.7h1v1h-1zM190.2 112.5h1v1h-1zM178.8 124.4h1v1h-1zM175.0 134.5h1v1h-1zM202.6 128.5h1v1h-1zM190.4 135.2h1v1h-1zM204.7 136.7h1v1h-1zM189.5 133.0h1v1h-1zM185.3 129.5h1v1h-1zM198.2 122.5h1v1h-1zM195.2 127.1h1v1h-1zM170.8 125.8h1v1h-1zM200.7 124.8h1v1h-1zM192.2 132.3h1v1h-1zM166.5 129.6h1v1h-1zM174.7 120.5h1v1h-1zM191.0 131.0h1v1h-1zM176.0 133.8h1v1h-1zM171.5 138.5h1v1h-1zM201.4 130.5h1v1h-1zM204.2 128.3h1v1h-1zM187.8 138.5h1v1h-1zM179.6 137.0h1v1h-1zM167.1 122.3h1v1h-1zM189.8 131.8h1v1h-1zM170.5 135.7h1v1h-1zM170.9 143.1h1v1h-1zM180.9 117.2h1v1h-1zM164.8 133.6h1v1h-1zM176.8 150.8h1v1h-1zM166.8 137.9h1v1h-1zM183.7 138.3h1v1h-1zM203.5 123.7h1v1h-1zM175.8 147.0h1v1h-1zM185.0 137.4h1v1h-1zM194.8 137.7h1v1h-1zM196.8 132.9h1v1h-1zM185.3 134.3h1v1h-1zM190.2 122.4h1v1h-1zM176.8 141.2h1v1h-1zM204.8 120.2h1v1h-1zM205.0 120.2h1v1h-1zM184.5 120.2h1v1h-1zM175.3 138.0h1v1h-1zM178.4 128.8h1v1h-1zM173.2 136.6h1v1h-1zM173.3 137.0h1v1h-1zM195.9 121.3h1v1h-1zM180.4 114.3h1v1h-1zM174.9 131.4h1v1h-1zM177.5 150.9h1v1h-1zM169.3 126.9h1v1h-1zM165.2 115.6h1v1h-1zM181.6 131.2h1v1h-1zM197.4 129.0h1v1h-1zM175.6 139.2h1v1h-1zM172.1 131.4h1v1h-1zM177.5 130.3h1v1h-1zM165.6 140.4h1v1h-1zM206.7 124.2h1v1h-1zM181.8 124.2h1v1h-1zM186.1 120.5h1v1h-1zM169.5 130.4h1v1h-1zM170.7 130.8h1v1h-1zM211.3 114.3h1v1h-1zM173.0 132.1h1v1h-1zM188.2 137.0h1v1h-1zM185.7 140.2h1v1h-1zM194.1 123.2h1v1h-1zM181.1 128.1h1v1h-1zM210.4 127.2h1v1h-1zM165.9 135.7h1v1h-1zM177.7 140.0h1v1h-1zM193.3 122.7h1v1h-1zM189.8 118.8h1v1h-1zM175.6 137.8h1v1h-1zM187.8 151.0h1v1h-1zM165.4 138.1h1v1h-1zM180.4 133.0h1v1h-1zM171.8 133.9h1v1h-1zM195.1 134.6h1v1h-1zM189.4 132.4h1v1h-1zM181.1 132.4h1v1h-1zM200.3 124.6h1v1h-1zM190.8 129.8h1v1h-1zM165.1 131.9h1v1h-1zM182.7 132.2h1v1h-1zM177.0 145.9h1v1h-1zM200.1 114.8h1v1h-1zM201.0 142.2h1v1h-1zM189.2 140.2h1v1h-1zM180.7 137.3h1v1h-1zM175.7 140.5h1v1h-1zM177.3 128.4h1v1h-1zM201.5 121.2h1v1h-1zM182.7 134.0h1v1h-1zM180.0 133.7h1v1h-1zM175.7 136.0h1v1h-1zM192.7 132.1h1v1h-1zM173.4 136.1h1v1h-1zM183.8 133.2h1v1h-1zM179.8 128.3h1v1h-1zM182.3 140.6h1v1h-1zM189.4 136.6h1v1h-1zM191.8 124.5h1v1h-1zM188.4 129.2h1v1h-1zM167.2 138.2h1v1h-1zM184.3 127.7h1v1h-1zM169.8 137.3h1v1h-1zM165.0 136.0h1v1h-1zM183.7 131.7h1v1h-1zM202.0 122.6h1v1h-1zM180.5 137.8h1v1h-1zM177.6 128.3h1v1h-1zM193.4 134.1h1v1h-1zM181.4 136.5h1v1h-1zM190.8 129.5h1v1h-1zM174.4 141.6h1v1h-1zM197.9 139.7h1v1h-1zM164.8 151.1h1v1h-1zM206.4 131.1h1v1h-1zM192.7 126.2h1v1h-1zM192.5 121.9h1v1h-1zM177.3 134.4h1v1h-1zM194.2 125.8h1v1h-1zM174.0 140.8h1v1h-1zM166.0 135.1h1v1h-1zM176.6 146.2h1v1h-1zM176.3 132.0h1v1h-1zM184.9 134.0h1v1h-1zM184.7 127.5h1v1h-1zM168.8 142.5h1v1h-1zM194.1 124.5h1v1h-1zM166.4 142.4h1v1h-1zM199.7 123.0h1v1h-1zM181.1 125.6h1v1h-1zM198.8 118.3h1v1h-1zM166.5 146.7h1v1h-1zM176.8 134.7h1v1h-1zM178.6 132.1h1v1h-1zM200.1 120.3h1v1h-1zM194.4 130.0h1v1h-1zM202.1 124.6h1v1h-1zM185.6 132.3h1v1h-1zM164.9 122.0h1v1h-1zM182.5 126.2h1v1h-1zM209.3 127.8h1v1h-1zM169.2 128.6h1v1h-1zM185.6 139.3h1v1h-1zM194.1 130.0h1v1h-1zM171.7 151.0h1v1h-1zM171.2 132.9h1v1h-1zM170.7 128.6h1v1h-1zM208.5 124.1h1v1h-1zM185.4 132.8h1v1h-1zM192.9 130.1h1v1h-1zM194.9 119.2h1v1h-1zM192.8 137.6h1v1h-1zM190.6 132.9h1v1h-1zM186.4 124.7h1v1h-1zM175.0 133.2h1v1h-1zM200.0 134.9h1v1h-1zM180.5 128.0h1v1h-1zM180.1 125.8h1v1h-1zM170.9 147.1h1v1h-1zM187.2 132.8h1v1h-1zM186.5 124.7h1v1h-1zM195.1 132.4h1v1h-1zM178.2 148.6h1v1h-1zM171.3 133.9h1v1h-1zM185.3 143.4h1v1h-1zM192.0 130.9h1v1h-1zM195.7 132.3h1v1h-1zM194.1 138.4h1v1h-1zM165.0 144.3h1v1h-1zM191.0 127.8h1v1h-1zM165.6 137.3h1v1h-1zM190.6 118.3h1v1h-1zM191.9 126.8h1v1h-1zM165.7 134.7h1v1h-1zM165.5 140.8h1v1h-1zM178.4 141.2h1v1h-1zM170.9 136.9h1v1h-1zM189.6 136.0h1v1h-1zM186.3 126.7h1v1h-1zM182.5 118.6h1v1h-1zM179.1 139.3h1v1h-1zM165.0 130.4h1v1h-1zM190.7 132.3h1v1h-1zM186.4 132.9h1v1h-1zM193.0 130.4h1v1h-1zM185.4 132.8h1v1h-1zM172.4 151.5h1v1h-1zM189.2 140.6h1v1h-1zM187.4 126.9h1v1h-1zM208.6 143.0h1v1h-1zM201.2 126.9h1v1h-1zM197.7 141.5h1v1h-1zM202.5 116.3h1v1h-1zM205.2 126.8h1v1h-1zM196.4 129.7h1v1h-1zM205.4 147.9h1v1h-1zM200.6 137.8h1v1h-1zM203.3 150.7h1v1h-1zM203.6 135.9h1v1h-1zM199.4 151.1h1v1h-1zM191.7 141.1h1v1h-1zM203.3 131.9h1v1h-1zM203.8 150.4h1v1h-1zM201.4 123.1h1v1h-1zM193.9 129.7h1v1h-1zM197.4 130.7h1v1h-1zM201.0 151.4h1v1h-1zM196.1 123.8h1v1h-1zM200.1 124.2h1v1h-1zM202.0 127.5h1v1h-1zM198.9 133.8h1v1h-1zM199.0 127.3h1v1h-1zM198.1 125.4h1v1h-1zM207.3 147.5h1v1h-1zM199.8 130.8h1v1h-1zM208.1 125.0h1v1h-1zM200.9 151.5h1v1h-1zM204.2 141.5h1v1h-1zM201.4 132.1h1v1h-1zM194.5 125.8h1v1h-1zM204.5 130.5h1v1h-1zM203.1 132.6h1v1h-1zM194.6 140.7h1v1h-1zM204.0 139.1h1v1h-1zM200.7 132.4h1v1h-1zM200.9 133.5h1v1h-1zM202.6 135.9h1v1h-1zM195.8 138.5h1v1h-1zM204.6 142.4h1v1h-1zM202.6 133.0h1v1h-1zM196.8 150.9h1v1h-1zM200.5 143.3h1v1h-1zM197.9 127.1h1v1h-1zM197.3 132.6h1v1h-1zM201.1 134.0h1v1h-1zM209.1 150.6h1v1h-1zM204.7 137.3h1v1h-1zM199.4 142.3h1v1h-1zM200.7 135.5h1v1h-1zM196.6 120.4h1v1h-1zM197.4 137.2h1v1h-1zM195.1 134.5h1v1h-1zM202.1 125.7h1v1h-1zM204.7 140.7h1v1h-1zM207.4 136.9h1v1h-1zM207.2 119.7h1v1h-1zM198.8 146.1h1v1h-1zM202.9 122.3h1v1h-1zM202.2 125.6h1v1h-1zM203.1 127.5h1v1h-1zM206.2 138.7h1v1h-1zM194.5 137.1h1v1h-1zM197.2 147.2h1v1h-1zM199.8 129.2h1v1h-1zM192.7 150.3h1v1h-1zM204.0 144.3h1v1h-1zM198.9 123.2h1v1h-1zM205.3 132.6h1v1h-1zM202.8 151.2h1v1h-1zM202.9 132.3h1v1h-1zM194.6 134.2h1v1h-1zM202.5 137.0h1v1h-1zM203.9 127.6h1v1h-1zM200.8 138.3h1v1h-1zM195.5 125.2h1v1h-1zM198.1 132.9h1v1h-1zM207.1 128.6h1v1h-1zM195.1 136.8h1v1h-1zM197.5 151.5h1v1h-1zM197.1 130.4h1v1h-1zM202.0 137.9h1v1h-1zM201.3 146.9h1v1h-1zM197.3 137.5h1v1h-1zM203.9 139.0h1v1h-1zM199.8 132.8h1v1h-1zM206.8 147.8h1v1h-1zM202.8 134.2h1v1h-1zM200.2 133.6h1v1h-1zM192.1 135.7h1v1h-1zM199.5 147.6h1v1h-1zM204.1 137.1h1v1h-1zM199.1 128.8h1v1h-1zM196.6 142.7h1v1h-1zM204.1 127.7h1v1h-1zM209.1 140.3h1v1h-1zM194.4 150.0h1v1h-1zM195.4 135.0h1v1h-1zM199.5 142.3h1v1h-1zM196.2 142.5h1v1h-1zM199.0 124.7h1v1h-1zM203.2 123.0h1v1h-1zM204.0 128.8h1v1h-1zM205.5 131.7h1v1h-1zM207.1 125.3h1v1h-1zM208.3 133.9h1v1h-1zM197.2 112.2h1v1h-1zM199.3 131.0h1v1h-1zM198.9 142.5h1v1h-1zM202.4 146.5h1v1h-1zM199.9 122.6h1v1h-1zM201.1 128.2h1v1h-1zM203.3 132.3h1v1h-1zM201.0 130.2h1v1h-1zM196.4 130.4h1v1h-1zM196.0 143.1h1v1h-1zM198.0 148.6h1v1h-1zM192.1 132.4h1v1h-1zM202.7 129.7h1v1h-1zM209.9 134.3h1v1h-1zM203.7 143.0h1v1h-1zM203.5 146.7h1v1h-1zM208.9 145.0h1v1h-1zM198.8 128.9h1v1h-1zM191.2 123.3h1v1h-1zM196.5 134.1h1v1h-1zM204.7 134.5h1v1h-1zM204.5 140.7h1v1h-1zM203.1 151.1h1v1h-1zM207.0 142.2h1v1h-1zM196.8 135.8h1v1h-1zM207.8 142.6h1v1h-1zM200.4 139.4h1v1h-1zM196.5 148.3h1v1h-1zM203.0 129.3h1v1h-1zM197.3 133.8h1v1h-1zM202.4 132.4h1v1h-1zM199.8 135.5h1v1h-1zM201.7 146.0h1v1h-1zM199.9 128.5h1v1h-1zM198.1 123.6h1v1h-1zM199.5 146.3h1v1h-1zM199.3 148.7h1v1h-1zM203.1 151.0h1v1h-1zM200.6 138.2h1v1h-1zM199.2 132.0h1v1h-1zM201.7 141.2h1v1h-1zM204.0 140.2h1v1h-1zM204.3 123.3h1v1h-1zM202.1 127.2h1v1h-1zM194.8 130.6h1v1h-1zM194.1 137.6h1v1h-1zM203.5 151.3h1v1h-1zM197.2 143.2h1v1h-1zM196.5 135.7h1v1h-1zM203.2 146.9h1v1h-1zM197.9 151.6h1v1h-1zM197.5 150.4h1v1h-1zM194.1 131.5h1v1h-1zM204.2 143.6h1v1h-1zM202.0 143.3h1v1h-1zM205.1 119.5h1v1h-1zM190.0 144.1h1v1h-1zM197.8 140.5h1v1h-1zM207.2 121.1h1v1h-1zM200.4 129.9h1v1h-1zM193.7 138.8h1v1h-1zM199.3 137.4h1v1h-1zM201.8 150.7h1v1h-1zM196.1 115.8h1v1h-1zM193.1 135.4h1v1h-1zM203.6 131.3h1v1h-1zM200.7 151.2h1v1h-1zM198.5 150.7h1v1h-1zM208.9 132.6h1v1h-1zM203.6 134.0h1v1h-1zM198.8 124.8h1v1h-1zM204.3 130.0h1v1h-1zM203.0 129.0h1v1h-1zM199.3 131.9h1v1h-1zM200.8 138.3h1v1h-1zM203.3 115.8h1v1h-1zM191.9 122.4h1v1h-1zM198.6 124.6h1v1h-1zM196.2 137.7h1v1h-1zM204.9 136.6h1v1h-1zM202.0 147.4h1v1h-1zM195.6 120.2h1v1h-1zM201.2 136.8h1v1h-1zM194.6 145.7h1v1h-1zM196.1 136.4h1v1h-1zM200.0 141.7h1v1h-1zM197.6 134.9h1v1h-1zM205.5 149.2h1v1h-1zM194.4 125.3h1v1h-1zM194.4 139.8h1v1h-1zM201.0 118.8h1v1h-1zM191.8 151.1h1v1h-1zM200.1 125.8h1v1h-1zM201.1 143.6h1v1h-1zM201.3 150.6h1v1h-1zM204.0 122.0h1v1h-1zM199.6 128.2h1v1h-1zM196.0 122.0h1v1h-1zM197.7 143.5h1v1h-1zM197.2 151.6h1v1h-1zM203.4 117.0h1v1h-1zM194.4 137.8h1v1h-1zM202.4 141.3h1v1h-1zM193.8 132.8h1v1h-1zM204.8 135.0h1v1h-1zM195.9 138.8h1v1h-1zM192.3 136.5h1v1h-1zM205.7 125.5h1v1h-1zM200.1 131.9h1v1h-1zM198.3 134.7h1v1h-1zM198.0 134.4h1v1h-1zM198.3 134.1h1v1h-1zM203.4 136.1h1v1h-1zM195.0 131.2h1v1h-1zM199.4 140.6h1v1h-1zM202.9 143.9h1v1h-1zM204.5 130.7h1v1h-1zM197.5 142.6h1v1h-1zM200.0 144.5h1v1h-1zM204.5 150.5h1v1h-1zM201.1 139.2h1v1h-1zM195.8 130.0h1v1h-1zM198.4 131.6h1v1h-1zM198.6 138.6h1v1h-1zM202.7 126.9h1v1h-1zM204.7 136.2h1v1h-1zM206.8 139.2h1v1h-1zM194.7 151.0h1v1h-1zM194.3 144.1h1v1h-1zM192.9 132.9h1v1h-1zM200.6 136.3h1v1h-1zM201.5 137.0h1v1h-1zM199.4 139.0h1v1h-1zM200.7 146.6h1v1h-1zM205.9 121.4h1v1h-1zM200.6 114.4h1v1h-1zM196.4 127.4h1v1h-1zM193.6 130.2h1v1h-1zM197.3 126.4h1v1h-1zM201.0 126.9h1v1h-1zM203.1 131.0h1v1h-1zM199.3 120.9h1v1h-1zM202.0 131.4h1v1h-1zM206.6 138.4h1v1h-1zM207.9 125.7h1v1h-1zM200.8 149.7h1v1h-1zM205.7 138.9h1v1h-1zM200.9 134.8h1v1h-1zM204.6 129.9h1v1h-1zM192.8 142.2h1v1h-1zM202.0 134.3h1v1h-1zM203.9 130.6h1v1h-1zM207.4 142.8h1v1h-1zM206.0 132.3h1v1h-1zM201.8 129.5h1v1h-1zM199.1 129.2h1v1h-1zM199.6 129.1h1v1h-1zM197.3 124.8h1v1h-1zM194.0 142.2h1v1h-1zM200.3 133.6h1v1h-1zM197.1 139.8h1v1h-1zM201.6 126.0h1v1h-1zM206.0 140.4h1v1h-1zM200.2 138.9h1v1h-1zM194.0 140.2h1v1h-1zM205.3 148.7h1v1h-1zM212.6 126.7h1v1h-1zM207.9 134.2h1v1h-1zM190.7 131.8h1v1h-1zM207.3 141.4h1v1h-1zM205.9 128.8h1v1h-1zM203.8 128.8h1v1h-1zM203.0 129.8h1v1h-1zM205.6 131.9h1v1h-1zM203.2 131.9h1v1h-1zM201.1 144.2h1v1h-1zM192.9 145.5h1v1h-1zM195.3 150.0h1v1h-1zM203.4 139.1h1v1h-1zM205.9 106.3h1v1h-1zM203.8 140.3h1v1h-1zM202.1 137.9h1v1h-1zM201.7 116.2h1v1h-1zM207.3 123.8h1v1h-1zM201.7 119.0h1v1h-1zM204.0 127.5h1v1h-1zM195.6 141.7h1v1h-1zM201.2 138.0h1v1h-1zM198.3 150.6h1v1h-1zM197.4 137.0h1v1h-1zM201.8 146.1h1v1h-1zM200.0 118.7h1v1h-1zM201.2 151.2h1v1h-1zM199.7 135.9h1v1h-1zM205.9 134.1h1v1h-1zM206.4 132.8h1v1h-1zM205.5 123.1h1v1h-1zM207.0 134.0h1v1h-1zM203.3 98.6h1v1h-1zM195.3 134.0h1v1h-1zM202.5 142.6h1v1h-1zM204.0 137.5h1v1h-1zM203.9 134.1h1v1h-1zM196.6 125.9h1v1h-1zM209.0 127.1h1v1h-1zM201.7 151.3h1v1h-1zM201.9 136.2h1v1h-1zM197.2 151.0h1v1h-1zM202.4 126.7h1v1h-1zM203.5 114.2h1v1h-1zM192.5 132.6h1v1h-1zM200.4 122.4h1v1h-1zM200.4 145.1h1v1h-1zM200.3 131.8h1v1h-1zM197.4 143.4h1v1h-1zM201.7 127.6h1v1h-1zM199.5 131.3h1v1h-1zM198.4 139.2h1v1h-1zM201.3 126.7h1v1h-1zM207.3 137.1h1v1h-1zM202.4 117.2h1v1h-1zM204.1 139.3h1v1h-1zM202.3 149.5h1v1h-1zM191.7 143.2h1v1h-1zM197.5 148.7h1v1h-1zM204.9 140.2h1v1h-1zM200.9 135.2h1v1h-1zM199.7 147.1h1v1h-1zM208.7 151.1h1v1h-1zM200.4 129.3h1v1h-1zM199.7 136.9h1v1h-1zM201.9 133.6h1v1h-1zM199.1 125.6h1v1h-1zM202.7 121.5h1v1h-1zM200.9 151.2h1v1h-1zM193.6 140.8h1v1h-1zM202.5 151.5h1v1h-1zM198.2 124.0h1v1h-1zM202.0 142.7h1v1h-1zM200.1 134.8h1v1h-1zM198.8 138.9h1v1h-1zM197.9 133.8h1v1h-1zM207.2 122.0h1v1h-1zM195.3 113.8h1v1h-1zM200.1 149.3h1v1h-1zM194.3 134.5h1v1h-1zM201.5 142.0h1v1h-1zM197.2 138.0h1v1h-1zM201.7 129.5h1v1h-1zM202.9 151.4h1v1h-1zM198.0 133.4h1v1h-1zM202.1 128.3h1v1h-1zM194.3 120.9h1v1h-1zM195.5 137.8h1v1h-1zM198.6 140.4h1v1h-1zM197.3 128.1h1v1h-1zM203.9 132.5h1v1h-1zM195.2 141.9h1v1h-1zM200.3 132.1h1v1h-1zM198.2 138.5h1v1h-1zM211.6 135.3h1v1h-1zM199.3 151.6h1v1h-1zM197.4 120.3h1v1h-1zM204.1 147.3h1v1h-1zM203.9 134.3h1v1h-1zM197.2 128.3h1v1h-1zM198.0 138.8h1v1h-1zM200.6 133.9h1v1h-1zM198.7 133.1h1v1h-1zM200.6 134.0h1v1h-1zM202.2 142.0h1v1h-1zM194.8 136.6h1v1h-1zM205.7 132.7h1v1h-1zM201.5 143.0h1v1h-1zM195.8 147.8h1v1h-1zM196.7 139.5h1v1h-1zM194.1 137.0h1v1h-1zM194.0 129.7h1v1h-1zM200.5 151.6h1v1h-1zM198.3 133.7h1v1h-1zM202.2 128.5h1v1h-1zM199.1 137.3h1v1h-1zM199.6 130.7h1v1h-1zM197.7 137.4h1v1h-1zM201.2 139.2h1v1h-1zM196.0 122.9h1v1h-1zM202.7 144.6h1v1h-1zM208.8 143.2h1v1h-1zM196.9 139.4h1v1h-1zM202.8 121.6h1v1h-1zM206.3 130.6h1v1h-1zM200.8 129.6h1v1h-1zM197.3 142.6h1v1h-1zM202.8 134.0h1v1h-1zM201.5 145.6h1v1h-1zM201.6 149.6h1v1h-1zM204.4 135.8h1v1h-1zM197.9 140.4h1v1h-1zM212.2 106.0h1v1h-1zM197.6 122.8h1v1h-1zM188.4 125.1h1v1h-1zM200.6 133.5h1v1h-1zM196.6 148.4h1v1h-1zM201.6 140.1h1v1h-1zM202.7 125.8h1v1h-1zM200.1 130.8h1v1h-1zM201.3 133.6h1v1h-1zM198.4 133.6h1v1h-1zM202.4 135.2h1v1h-1zM198.7 149.8h1v1h-1zM196.1 121.0h1v1h-1zM204.8 133.1h1v1h-1zM201.8 137.3h1v1h-1zM203.4 126.7h1v1h-1zM199.5 132.9h1v1h-1zM204.6 151.0h1v1h-1zM196.6 141.3h1v1h-1zM195.7 140.1h1v1h-1zM197.0 139.7h1v1h-1zM202.6 147.1h1v1h-1zM201.0 122.7h1v1h-1zM201.4 147.6h1v1h-1zM198.0 124.7h1v1h-1zM199.5 141.9h1v1h-1zM203.8 142.7h1v1h-1zM195.9 130.0h1v1h-1zM200.6 142.1h1v1h-1zM202.5 125.4h1v1h-1zM205.1 134.9h1v1h-1zM202.5 131.1h1v1h-1zM194.4 120.0h1v1h-1zM197.8 141.2h1v1h-1zM197.1 145.1h1v1h-1zM205.1 135.8h1v1h-1zM198.2 151.4h1v1h-1zM201.3 136.4h1v1h-1zM196.3 136.8h1v1h-1zM193.0 129.7h1v1h-1zM195.5 131.1h1v1h-1zM201.0 151.4h1v1h-1zM195.9 142.1h1v1h-1zM203.9 130.2h1v1h-1zM203.2 119.9h1v1h-1zM199.4 140.7h1v1h-1zM192.8 145.7h1v1h-1zM202.9 143.9h1v1h-1zM196.9 126.8h1v1h-1zM190.3 122.6h1v1h-1zM205.9 150.6h1v1h-1zM202.5 136.0h1v1h-1zM204.3 139.1h1v1h-1zM200.1 122.4h1v1h-1zM198.1 131.9h1v1h-1zM203.2 137.0h1v1h-1zM204.2 130.9h1v1h-1zM204.0 150.8h1v1h-1zM196.3 133.1h1v1h-1zM205.4 122.2h1v1h-1zM200.6 143.0h1v1h-1zM196.0 150.9h1v1h-1zM198.5 130.3h1v1h-1zM200.3 150.0h1v1h-1zM200.2 135.4h1v1h-1zM197.5 122.0h1v1h-1zM202.4 125.4h1v1h-1zM201.0 145.2h1v1h-1zM205.1 125.3h1v1h-1zM198.2 148.6h1v1h-1zM204.0 141.3h1v1h-1zM195.8 136.7h1v1h-1zM202.9 143.0h1v1h-1zM200.7 126.4h1v1h-1zM203.7 150.7h1v1h-1zM203.5 118.9h1v1h-1zM204.4 136.7h1v1h-1zM202.1 150.9h1v1h-1zM198.2 140.8h1v1h-1zM209.2 135.8h1v1h-1zM196.5 119.7h1v1h-1zM205.7 151.5h1v1h-1zM199.7 151.2h1v1h-1zM204.9 150.5h1v1h-1zM208.3 145.9h1v1h-1zM196.3 115.6h1v1h-1zM202.8 132.5h1v1h-1zM204.1 145.3h1v1h-1zM204.2 138.5h1v1h-1zM202.7 133.7h1v1h-1zM206.3 148.2h1v1h-1zM194.8 129.6h1v1h-1zM210.4 130.6h1v1h-1zM199.9 129.4h1v1h-1zM195.6 135.0h1v1h-1zM193.6 134.7h1v1h-1zM203.6 119.6h1v1h-1zM198.5 127.0h1v1h-1zM206.1 145.9h1v1h-1zM199.4 150.5h1v1h-1zM197.0 131.7h1v1h-1zM192.2 138.7h1v1h-1zM203.6 122.1h1v1h-1zM190.2 132.2h1v1h-1zM198.0 150.5h1v1h-1zM196.4 130.2h1v1h-1zM200.5 129.1h1v1h-1zM199.3 129.5h1v1h-1zM196.5 145.2h1v1h-1zM199.9 151.2h1v1h-1zM205.7 138.2h1v1h-1zM196.5 144.1h1v1h-1zM196.6 134.7h1v1h-1zM199.1 127.6h1v1h-1zM195.8 136.5h1v1h-1zM194.3 140.3h1v1h-1zM207.3 148.4h1v1h-1zM204.4 148.2h1v1h-1zM192.1 151.3h1v1h-1zM191.9 146.6h1v1h-1zM200.3 136.7h1v1h-1zM209.2 144.7h1v1h-1zM192.8 147.5h1v1h-1zM193.3 138.9h1v1h-1zM194.4 143.5h1v1h-1zM190.5 145.0h1v1h-1zM191.3 149.7h1v1h-1zM199.9 147.4h1v1h-1zM198.5 148.2h1v1h-1zM193.6 148.4h1v1h-1zM198.4 151.5h1v1h-1zM202.4 147.3h1v1h-1zM194.2 142.9h1v1h-1zM195.3 150.8h1v1h-1zM206.7 149.4h1v1h-1zM207.9 146.3h1v1h-1zM193.4 143.7h1v1h-1zM201.7 144.4h1v1h-1zM199.1 142.0h1v1h-1zM204.6 149.2h1v1h-1zM189.5 148.1h1v1h-1zM199.3 151.3h1v1h-1zM197.7 142.2h1v1h-1zM195.9 143.6h1v1h-1zM193.1 150.8h1v1h-1zM204.7 148.6h1v1h-1zM200.2 144.0h1v1h-1zM209.0 151.0h1v1h-1zM202.5 147.1h1v1h-1zM199.8 141.0h1v1h-1zM197.4 150.2h1v1h-1zM202.0 150.9h1v1h-1zM201.1 151.4h1v1h-1zM200.9 150.8h1v1h-1zM202.0 148.9h1v1h-1zM194.4 145.9h1v1h-1zM203.5 151.5h1v1h-1zM190.9 149.0h1v1h-1zM196.5 142.8h1v1h-1zM208.7 146.1h1v1h-1zM205.6 149.2h1v1h-1zM190.4 146.8h1v1h-1zM188.0 141.7h1v1h-1zM200.4 143.5h1v1h-1zM194.9 151.3h1v1h-1zM197.6 146.1h1v1h-1zM197.5 149.9h1v1h-1zM199.3 148.7h1v1h-1zM207.5 151.3h1v1h-1zM185.1 148.3h1v1h-1zM200.5 151.0h1v1h-1zM198.6 146.3h1v1h-1zM200.9 146.8h1v1h-1zM194.2 151.2h1v1h-1zM204.8 149.3h1v1h-1zM190.3 142.0h1v1h-1zM203.4 151.1h1v1h-1zM214.9 147.4h1v1h-1zM188.9 144.3h1v1h-1zM200.9 143.2h1v1h-1zM198.9 151.0h1v1h-1zM197.8 149.6h1v1h-1zM200.6 148.7h1v1h-1zM202.3 150.9h1v1h-1zM195.4 150.0h1v1h-1zM201.4 151.2h1v1h-1zM198.8 138.7h1v1h-1zM187.7 144.0h1v1h-1zM199.4 144.1h1v1h-1zM199.2 147.0h1v1h-1zM201.1 146.2h1v1h-1zM191.4 148.5h1v1h-1zM210.1 142.5h1v1h-1zM193.6 151.2h1v1h-1zM197.8 143.9h1v1h-1zM204.5 150.2h1v1h-1zM184.1 148.1h1v1h-1zM188.5 143.3h1v1h-1zM208.0 145.4h1v1h-1zM202.5 145.8h1v1h-1zM210.3 143.8h1v1h-1zM207.8 150.9h1v1h-1zM195.6 148.0h1v1h-1zM185.0 149.1h1v1h-1zM198.7 148.2h1v1h-1zM214.5 148.8h1v1h-1zM197.6 148.4h1v1h-1zM196.7 150.8h1v1h-1zM205.8 147.9h1v1h-1zM201.1 147.8h1v1h-1zM194.0 150.7h1v1h-1zM197.0 145.9h1v1h-1zM198.1 145.1h1v1h-1zM193.9 149.1h1v1h-1zM199.7 148.4h1v1h-1zM199.9 142.4h1v1h-1zM196.2 147.5h1v1h-1zM194.8 145.9h1v1h-1zM200.2 150.8h1v1h-1zM192.5 150.8h1v1h-1zM197.0 147.4h1v1h-1zM195.7 148.4h1v1h-1zM199.6 138.9h1v1h-1zM206.1 139.0h1v1h-1zM199.6 147.1h1v1h-1zM210.9 146.5h1v1h-1zM202.9 149.9h1v1h-1zM195.4 145.0h1v1h-1zM195.1 150.5h1v1h-1zM189.5 146.8h1v1h-1zM198.2 145.9h1v1h-1zM193.4 151.5h1v1h-1zM205.7 147.9h1v1h-1zM203.7 151.2h1v1h-1zM190.7 150.8h1v1h-1zM200.7 144.1h1v1h-1zM207.0 141.1h1v1h-1zM187.5 150.7h1v1h-1zM195.5 151.0h1v1h-1zM197.5 151.1h1v1h-1zM189.7 148.1h1v1h-1zM199.6 151.0h1v1h-1zM199.0 150.5h1v1h-1zM196.7 149.3h1v1h-1zM195.9 148.3h1v1h-1zM190.9 150.7h1v1h-1zM193.6 145.1h1v1h-1zM192.9 150.9h1v1h-1zM211.1 149.0h1v1h-1zM196.4 151.4h1v1h-1zM207.9 145.9h1v1h-1zM200.4 141.8h1v1h-1zM191.4 150.9h1v1h-1zM205.7 146.3h1v1h-1zM195.6 144.9h1v1h-1zM198.2 140.4h1v1h-1zM190.9 146.6h1v1h-1zM204.9 144.5h1v1h-1zM196.5 149.5h1v1h-1zM196.1 145.3h1v1h-1zM196.3 148.5h1v1h-1zM205.2 148.4h1v1h-1zM200.3 148.5h1v1h-1zM198.8 151.3h1v1h-1zM192.9 146.6h1v1h-1zM194.8 150.4h1v1h-1zM199.1 139.1h1v1h-1zM194.0 150.9h1v1h-1zM187.6 146.2h1v1h-1zM198.4 151.2h1v1h-1zM196.2 144.2h1v1h-1zM205.1 146.6h1v1h-1zM206.0 144.1h1v1h-1zM195.9 144.9h1v1h-1zM199.7 145.0h1v1h-1zM200.5 139.7h1v1h-1zM190.9 146.6h1v1h-1zM192.0 139.0h1v1h-1zM195.5 149.4h1v1h-1zM198.6 148.2h1v1h-1zM209.4 148.2h1v1h-1zM200.3 143.9h1v1h-1zM208.2 151.2h1v1h-1zM200.7 151.2h1v1h-1zM201.8 142.5h1v1h-1zM195.5 149.1h1v1h-1zM206.2 146.3h1v1h-1zM203.8 149.8h1v1h-1zM196.8 149.4h1v1h-1zM208.5 151.3h1v1h-1zM195.5 141.9h1v1h-1zM198.3 150.4h1v1h-1zM200.2 148.8h1v1h-1zM198.0 146.0h1v1h-1zM203.7 150.4h1v1h-1zM200.0 142.2h1v1h-1zM190.4 148.4h1v1h-1zM191.5 145.4h1v1h-1zM193.5 149.3h1v1h-1zM196.2 146.2h1v1h-1zM190.6 151.2h1v1h-1zM199.9 142.7h1v1h-1zM195.6 146.4h1v1h-1zM200.4 147.6h1v1h-1zM198.6 150.1h1v1h-1zM197.2 143.3h1v1h-1zM201.5 143.0h1v1h-1zM194.2 147.5h1v1h-1zM194.7 151.0h1v1h-1zM204.3 149.1h1v1h-1zM200.2 151.5h1v1h-1zM197.2 148.5h1v1h-1zM196.3 144.0h1v1h-1zM201.6 147.5h1v1h-1zM200.2 149.7h1v1h-1zM194.3 149.1h1v1h-1zM192.4 148.7h1v1h-1zM198.0 143.6h1v1h-1zM196.0 138.5h1v1h-1zM195.5 147.5h1v1h-1zM198.6 150.4h1v1h-1zM198.3 150.6h1v1h-1zM205.7 150.3h1v1h-1zM198.6 151.3h1v1h-1zM202.3 150.6h1v1h-1zM207.2 151.3h1v1h-1zM194.2 145.4h1v1h-1zM206.7 151.0h1v1h-1zM188.2 141.7h1v1h-1zM201.5 150.8h1v1h-1zM196.0 145.3h1v1h-1zM196.3 142.1h1v1h-1zM194.3 147.3h1v1h-1zM205.9 142.2h1v1h-1zM200.2 145.7h1v1h-1zM196.6 148.3h1v1h-1zM195.2 146.5h1v1h-1zM204.0 150.9h1v1h-1zM191.5 147.8h1v1h-1zM211.2 147.1h1v1h-1zM199.5 148.2h1v1h-1zM188.3 150.8h1v1h-1zM208.1 150.5h1v1h-1zM209.9 150.7h1v1h-1zM211.4 137.7h1v1h-1zM208.0 148.5h1v1h-1zM202.4 150.2h1v1h-1zM195.9 147.2h1v1h-1zM179.2 145.8h1v1h-1zM196.8 151.0h1v1h-1zM197.0 145.5h1v1h-1zM193.9 146.6h1v1h-1zM190.3 147.6h1v1h-1zM191.6 145.0h1v1h-1zM192.2 145.6h1v1h-1zM186.3 147.3h1v1h-1zM205.5 151.3h1v1h-1zM199.0 151.4h1v1h-1zM201.7 145.0h1v1h-1zM205.8 142.8h1v1h-1zM206.8 150.9h1v1h-1zM199.4 145.9h1v1h-1zM199.9 151.1h1v1h-1zM211.3 137.9h1v1h-1zM199.1 151.1h1v1h-1zM210.0 148.7h1v1h-1zM232.3 147.0h1v1h-1zM225.1 132.5h1v1h-1zM217.0 141.4h1v1h-1zM224.9 133.6h1v1h-1zM224.5 151.1h1v1h-1zM213.0 135.9h1v1h-1zM229.5 151.0h1v1h-1zM224.5 131.4h1v1h-1zM218.9 151.3h1v1h-1zM224.0 142.3h1v1h-1zM222.5 140.4h1v1h-1zM222.4 136.3h1v1h-1zM220.7 139.1h1v1h-1zM220.6 145.7h1v1h-1zM224.4 145.4h1v1h-1zM225.1 139.0h1v1h-1zM227.4 134.1h1v1h-1zM214.6 139.0h1v1h-1zM225.6 137.9h1v1h-1zM223.1 130.2h1v1h-1zM225.7 149.4h1v1h-1zM223.3 130.8h1v1h-1zM223.5 148.9h1v1h-1zM226.1 134.0h1v1h-1zM227.7 137.4h1v1h-1zM223.4 132.0h1v1h-1zM218.4 125.2h1v1h-1zM224.6 137.0h1v1h-1zM226.0 132.5h1v1h-1zM213.8 131.4h1v1h-1zM222.5 145.0h1v1h-1zM226.6 131.3h1v1h-1zM224.5 143.7h1v1h-1zM223.3 146.4h1v1h-1zM233.4 144.1h1v1h-1zM226.5 125.9h1v1h-1zM219.4 143.1h1v1h-1zM213.6 140.7h1v1h-1zM217.4 137.6h1v1h-1zM222.0 138.7h1v1h-1zM223.1 142.5h1v1h-1zM223.4 139.3h1v1h-1zM219.9 141.3h1v1h-1zM220.5 149.1h1v1h-1zM222.8 150.6h1v1h-1zM225.1 139.1h1v1h-1zM223.6 129.6h1v1h-1zM226.9 142.3h1v1h-1zM224.3 129.3h1v1h-1zM222.3 135.8h1v1h-1zM224.6 147.0h1v1h-1zM224.1 141.9h1v1h-1zM221.8 135.4h1v1h-1zM225.6 146.0h1v1h-1zM221.9 140.4h1v1h-1zM219.0 135.9h1v1h-1zM222.1 144.4h1v1h-1zM226.8 139.5h1v1h-1zM218.1 139.5h1v1h-1zM222.1 136.5h1v1h-1zM232.2 134.4h1v1h-1zM228.9 140.2h1v1h-1zM224.8 134.9h1v1h-1zM222.5 136.9h1v1h-1zM221.0 133.3h1v1h-1zM219.2 125.2h1v1h-1zM207.5 149.8h1v1h-1zM222.4 135.9h1v1h-1zM223.5 151.6h1v1h-1zM224.7 145.8h1v1h-1zM223.7 142.1h1v1h-1zM221.8 150.9h1v1h-1zM217.5 143.2h1v1h-1zM218.5 136.9h1v1h-1zM217.1 137.1h1v1h-1zM225.2 144.7h1v1h-1zM218.9 141.6h1v1h-1zM226.2 127.7h1v1h-1zM231.8 138.1h1v1h-1zM225.5 137.3h1v1h-1zM222.8 147.3h1v1h-1zM221.4 129.9h1v1h-1zM228.6 143.6h1v1h-1zM216.2 123.8h1v1h-1zM223.0 135.2h1v1h-1zM222.2 151.2h1v1h-1zM224.2 146.5h1v1h-1zM221.7 143.8h1v1h-1zM221.8 119.7h1v1h-1zM229.1 150.8h1v1h-1zM216.5 142.8h1v1h-1zM220.1 132.6h1v1h-1zM229.4 144.6h1v1h-1zM225.2 140.5h1v1h-1zM214.7 129.5h1v1h-1zM230.1 145.3h1v1h-1zM225.5 142.9h1v1h-1zM222.5 142.5h1v1h-1zM222.3 138.4h1v1h-1zM220.4 136.6h1v1h-1zM217.5 132.3h1v1h-1zM218.9 151.5h1v1h-1zM226.3 141.5h1v1h-1zM220.7 131.5h1v1h-1zM222.8 123.3h1v1h-1zM224.7 150.2h1v1h-1zM220.8 144.1h1v1h-1zM221.7 125.4h1v1h-1zM234.1 125.2h1v1h-1zM224.8 134.4h1v1h-1zM223.6 150.6h1v1h-1zM228.6 123.0h1v1h-1zM220.7 139.0h1v1h-1zM219.9 140.4h1v1h-1zM219.3 147.8h1v1h-1zM227.9 151.2h1v1h-1zM227.2 147.9h1v1h-1zM221.8 150.5h1v1h-1zM225.6 146.8h1v1h-1zM233.2 146.2h1v1h-1zM223.9 133.5h1v1h-1zM218.9 145.4h1v1h-1zM218.5 134.4h1v1h-1zM224.1 130.7h1v1h-1zM216.9 146.2h1v1h-1zM222.4 142.4h1v1h-1zM224.2 129.8h1v1h-1zM223.4 145.1h1v1h-1zM222.7 144.5h1v1h-1zM220.2 124.0h1v1h-1zM225.7 124.3h1v1h-1zM222.0 139.3h1v1h-1zM217.7 136.9h1v1h-1zM225.9 133.3h1v1h-1zM218.1 137.9h1v1h-1zM226.7 142.5h1v1h-1zM225.8 142.8h1v1h-1zM222.9 143.4h1v1h-1zM216.8 145.4h1v1h-1zM223.6 141.1h1v1h-1zM222.9 143.4h1v1h-1zM226.6 140.2h1v1h-1zM224.5 142.6h1v1h-1zM228.3 139.6h1v1h-1zM224.7 121.3h1v1h-1zM224.7 151.2h1v1h-1zM220.1 136.2h1v1h-1zM217.5 150.5h1v1h-1zM222.4 151.4h1v1h-1zM227.4 135.3h1v1h-1zM221.6 129.2h1v1h-1zM220.1 148.2h1v1h-1zM226.7 138.6h1v1h-1zM222.0 130.6h1v1h-1zM222.3 133.7h1v1h-1zM223.8 129.6h1v1h-1zM225.2 142.5h1v1h-1zM229.1 141.6h1v1h-1zM230.1 148.9h1v1h-1zM223.1 151.3h1v1h-1zM225.1 128.1h1v1h-1zM221.3 135.0h1v1h-1zM222.0 127.3h1v1h-1zM224.3 136.0h1v1h-1zM227.5 150.9h1v1h-1zM225.8 137.7h1v1h-1zM228.3 138.6h1v1h-1zM225.4 139.2h1v1h-1zM218.8 142.8h1v1h-1zM222.2 149.4h1v1h-1zM222.7 142.5h1v1h-1zM230.5 140.7h1v1h-1zM223.4 138.0h1v1h-1zM225.8 151.6h1v1h-1zM215.7 126.2h1v1h-1zM219.5 145.9h1v1h-1zM227.8 136.4h1v1h-1zM219.6 132.9h1v1h-1zM218.2 125.9h1v1h-1zM221.6 136.1h1v1h-1zM222.9 123.5h1v1h-1zM219.0 139.6h1v1h-1zM231.8 150.7h1v1h-1zM220.9 136.6h1v1h-1zM222.0 135.2h1v1h-1zM227.7 147.8h1v1h-1zM220.2 128.3h1v1h-1zM231.0 150.6h1v1h-1zM225.2 130.9h1v1h-1zM220.1 145.7h1v1h-1zM218.3 140.4h1v1h-1zM218.2 133.1h1v1h-1zM220.1 134.7h1v1h-1zM216.4 131.7h1v1h-1zM225.7 131.3h1v1h-1zM224.1 120.5h1v1h-1zM226.9 138.4h1v1h-1zM229.6 141.6h1v1h-1zM223.6 125.7h1v1h-1zM221.0 138.8h1v1h-1zM224.0 137.3h1v1h-1zM222.0 130.7h1v1h-1zM231.9 141.8h1v1h-1zM216.9 142.5h1v1h-1zM217.2 148.9h1v1h-1zM218.7 130.3h1v1h-1zM223.6 133.1h1v1h-1zM222.5 130.7h1v1h-1zM221.3 128.4h1v1h-1zM226.6 137.0h1v1h-1zM216.9 147.5h1v1h-1zM224.0 147.0h1v1h-1zM222.2 140.1h1v1h-1zM228.6 144.2h1v1h-1zM223.5 142.4h1v1h-1zM219.8 135.3h1v1h-1zM227.0 150.1h1v1h-1zM229.2 121.0h1v1h-1zM223.6 134.6h1v1h-1zM218.6 142.0h1v1h-1zM224.2 139.5h1v1h-1zM228.7 145.7h1v1h-1zM221.9 134.6h1v1h-1zM222.7 140.7h1v1h-1zM222.5 135.6h1v1h-1zM215.0 118.1h1v1h-1zM226.0 147.1h1v1h-1zM219.2 147.7h1v1h-1zM224.8 151.2h1v1h-1zM233.1 143.1h1v1h-1zM217.1 122.4h1v1h-1zM222.9 134.8h1v1h-1zM222.2 140.8h1v1h-1zM231.5 150.9h1v1h-1zM224.0 144.6h1v1h-1zM221.5 139.3h1v1h-1zM215.4 133.8h1v1h-1zM223.8 134.3h1v1h-1zM220.5 132.9h1v1h-1zM221.0 132.6h1v1h-1zM228.5 133.8h1v1h-1zM217.0 138.2h1v1h-1zM218.7 123.3h1v1h-1zM223.8 148.9h1v1h-1zM216.7 128.3h1v1h-1zM218.8 135.5h1v1h-1zM221.6 139.9h1v1h-1zM221.2 138.7h1v1h-1zM229.6 145.7h1v1h-1zM225.1 134.9h1v1h-1zM220.2 147.4h1v1h-1zM219.3 134.2h1v1h-1zM223.6 130.6h1v1h-1zM224.5 137.8h1v1h-1zM223.0 136.9h1v1h-1zM223.2 133.4h1v1h-1zM219.4 130.3h1v1h-1zM229.7 139.5h1v1h-1zM225.3 148.1h1v1h-1zM223.4 150.1h1v1h-1zM227.1 138.4h1v1h-1zM227.4 129.8h1v1h-1zM219.9 132.3h1v1h-1zM229.4 121.2h1v1h-1zM222.5 134.4h1v1h-1zM220.3 133.7h1v1h-1zM225.5 127.3h1v1h-1zM222.4 138.3h1v1h-1zM225.0 140.1h1v1h-1zM231.5 150.7h1v1h-1zM215.9 142.7h1v1h-1zM225.8 138.6h1v1h-1zM224.7 150.7h1v1h-1zM225.4 134.4h1v1h-1zM229.7 132.2h1v1h-1zM220.4 144.5h1v1h-1zM218.3 142.6h1v1h-1zM222.6 128.9h1v1h-1zM229.8 138.1h1v1h-1zM225.4 140.0h1v1h-1zM217.6 134.5h1v1h-1zM220.0 151.4h1v1h-1zM219.5 127.0h1v1h-1zM218.2 128.0h1v1h-1zM217.3 139.3h1v1h-1zM225.1 141.9h1v1h-1zM219.0 138.7h1v1h-1zM229.9 133.5h1v1h-1zM223.8 134.2h1v1h-1zM227.9 128.3h1v1h-1zM221.9 145.6h1v1h-1zM218.9 138.2h1v1h-1zM221.7 138.7h1v1h-1zM220.4 119.1h1v1h-1zM220.1 127.5h1v1h-1zM219.4 144.9h1v1h-1zM218.1 147.3h1v1h-1zM216.2 145.2h1v1h-1zM222.0 133.3h1v1h-1zM215.6 135.3h1v1h-1zM222.5 138.8h1v1h-1zM214.0 134.9h1v1h-1zM225.8 129.7h1v1h-1zM221.8 129.0h1v1h-1zM223.3 145.9h1v1h-1zM225.2 131.0h1v1h-1zM223.9 139.0h1v1h-1zM221.9 133.5h1v1h-1zM215.5 136.4h1v1h-1zM217.6 142.8h1v1h-1zM223.8 129.0h1v1h-1zM222.9 146.0h1v1h-1zM234.3 136.2h1v1h-1zM211.7 139.5h1v1h-1zM219.9 143.5h1v1h-1zM227.4 122.0h1v1h-1zM223.4 149.2h1v1h-1zM226.6 138.0h1v1h-1zM221.3 137.1h1v1h-1zM218.2 137.2h1v1h-1zM224.5 129.4h1v1h-1zM231.3 143.6h1v1h-1zM224.6 144.9h1v1h-1zM223.5 129.7h1v1h-1zM225.7 141.0h1v1h-1zM230.5 131.7h1v1h-1zM228.1 138.1h1v1h-1zM228.6 139.9h1v1h-1zM226.6 138.4h1v1h-1zM223.0 150.9h1v1h-1zM227.1 134.2h1v1h-1zM220.4 138.2h1v1h-1zM225.5 133.7h1v1h-1zM214.3 127.0h1v1h-1zM218.7 123.8h1v1h-1zM227.8 137.6h1v1h-1zM223.8 136.5h1v1h-1zM221.3 126.8h1v1h-1zM220.2 142.9h1v1h-1zM222.0 151.2h1v1h-1zM227.3 148.0h1v1h-1zM229.3 131.3h1v1h-1zM231.4 143.4h1v1h-1zM221.7 142.2h1v1h-1zM226.3 145.7h1v1h-1zM221.6 150.5h1v1h-1zM223.2 137.1h1v1h-1zM231.3 145.3h1v1h-1zM227.1 134.2h1v1h-1zM226.7 147.4h1v1h-1zM208.3 142.5h1v1h-1zM227.0 137.4h1v1h-1zM229.1 121.7h1v1h-1zM220.0 141.9h1v1h-1zM229.4 150.9h1v1h-1zM212.4 136.6h1v1h-1zM224.4 126.8h1v1h-1zM226.1 139.0h1v1h-1zM220.6 150.5h1v1h-1zM225.2 143.5h1v1h-1zM221.4 136.1h1v1h-1zM214.4 139.4h1v1h-1zM220.4 122.9h1v1h-1zM222.5 129.8h1v1h-1zM218.8 151.2h1v1h-1zM226.7 141.5h1v1h-1zM217.3 130.2h1v1h-1zM225.1 150.5h1v1h-1zM222.0 122.9h1v1h-1zM223.5 149.5h1v1h-1zM219.4 127.7h1v1h-1zM229.4 133.2h1v1h-1zM216.6 132.1h1v1h-1zM219.5 142.7h1v1h-1zM220.9 130.1h1v1h-1zM225.2 134.1h1v1h-1zM221.1 142.8h1v1h-1zM227.6 143.6h1v1h-1zM221.8 134.3h1v1h-1zM222.2 130.8h1v1h-1zM225.4 133.6h1v1h-1zM232.9 143.0h1v1h-1zM231.9 149.0h1v1h-1zM219.6 150.4h1v1h-1zM220.1 145.1h1v1h-1zM226.0 128.6h1v1h-1zM232.9 143.0h1v1h-1zM227.6 140.2h1v1h-1zM215.1 151.4h1v1h-1zM221.5 151.1h1v1h-1zM226.7 146.2h1v1h-1zM225.8 144.1h1v1h-1zM225.1 146.4h1v1h-1zM224.7 124.1h1v1h-1zM224.6 149.8h1v1h-1zM219.6 137.6h1v1h-1zM226.5 148.7h1v1h-1zM219.1 150.9h1v1h-1zM230.5 136.4h1v1h-1zM224.4 142.3h1v1h-1zM231.2 134.1h1v1h-1zM222.6 128.9h1v1h-1zM225.5 141.0h1v1h-1zM221.4 138.7h1v1h-1zM228.9 150.2h1v1h-1zM215.9 133.2h1v1h-1zM227.5 127.0h1v1h-1zM225.5 150.9h1v1h-1zM226.5 137.4h1v1h-1zM218.7 150.9h1v1h-1zM216.4 138.2h1v1h-1zM217.5 135.9h1v1h-1zM222.3 133.5h1v1h-1zM226.7 146.2h1v1h-1zM221.4 132.7h1v1h-1zM220.2 130.5h1v1h-1zM225.5 131.4h1v1h-1zM220.4 132.4h1v1h-1zM222.1 137.0h1v1h-1zM225.7 143.3h1v1h-1zM222.8 151.5h1v1h-1zM220.0 133.7h1v1h-1zM218.3 150.9h1v1h-1zM216.9 141.2h1v1h-1zM225.9 134.4h1v1h-1zM216.9 135.5h1v1h-1zM217.8 129.9h1v1h-1zM224.7 143.9h1v1h-1zM221.0 139.4h1v1h-1zM220.5 129.3h1v1h-1zM224.3 143.4h1v1h-1zM224.9 150.0h1v1h-1zM223.7 141.4h1v1h-1zM220.6 139.2h1v1h-1zM224.0 150.7h1v1h-1zM224.5 114.6h1v1h-1zM226.4 143.6h1v1h-1zM224.5 125.2h1v1h-1zM218.4 125.2h1v1h-1zM221.5 123.3h1v1h-1zM219.5 130.2h1v1h-1zM220.6 128.5h1v1h-1zM226.8 136.0h1v1h-1zM219.5 130.2h1v1h-1zM224.6 147.6h1v1h-1zM225.3 140.1h1v1h-1zM222.5 146.8h1v1h-1zM223.9 131.7h1v1h-1zM219.4 132.2h1v1h-1zM215.3 137.9h1v1h-1zM224.1 146.6h1v1h-1zM223.6 149.5h1v1h-1zM230.9 135.5h1v1h-1zM227.6 146.4h1v1h-1zM213.5 139.5h1v1h-1zM228.6 140.1h1v1h-1zM227.9 135.5h1v1h-1zM224.4 130.2h1v1h-1zM220.5 142.1h1v1h-1zM227.6 135.0h1v1h-1zM220.7 147.6h1v1h-1zM229.2 150.5h1v1h-1zM226.8 140.0h1v1h-1zM217.6 135.5h1v1h-1zM225.0 120.1h1v1h-1zM224.2 150.9h1v1h-1zM219.1 132.6h1v1h-1zM221.0 139.3h1v1h-1zM222.6 127.1h1v1h-1zM224.3 140.1h1v1h-1zM220.3 130.5h1v1h-1zM220.1 135.4h1v1h-1zM224.7 132.7h1v1h-1zM226.2 136.5h1v1h-1zM231.1 132.4h1v1h-1zM219.9 146.2h1v1h-1zM220.1 127.9h1v1h-1zM218.4 126.0h1v1h-1zM224.7 143.6h1v1h-1zM218.9 139.6h1v1h-1zM226.1 139.4h1v1h-1zM225.9 137.4h1v1h-1zM228.6 142.8h1v1h-1zM222.4 148.0h1v1h-1zM221.7 146.9h1v1h-1zM216.8 140.6h1v1h-1zM225.8 151.4h1v1h-1zM217.7 150.2h1v1h-1zM224.5 134.2h1v1h-1zM224.3 140.3h1v1h-1zM219.8 137.3h1v1h-1zM219.4 140.7h1v1h-1zM224.6 140.9h1v1h-1zM227.9 151.2h1v1h-1zM216.5 130.6h1v1h-1zM220.7 142.6h1v1h-1zM220.7 139.3h1v1h-1zM222.3 135.8h1v1h-1zM226.8 123.6h1v1h-1zM214.3 139.7h1v1h-1zM181.0 107.3h1v1h-1zM179.9 109.1h1v1h-1zM191.6 110.4h1v1h-1zM191.2 101.9h1v1h-1zM179.4 110.5h1v1h-1zM198.7 98.5h1v1h-1zM198.1 120.1h1v1h-1zM183.0 97.9h1v1h-1zM189.1 106.3h1v1h-1zM185.9 98.8h1v1h-1zM190.7 122.1h1v1h-1zM192.5 114.2h1v1h-1zM186.7 103.0h1v1h-1zM190.4 116.9h1v1h-1zM178.4 115.4h1v1h-1zM187.9 124.5h1v1h-1zM183.4 81.5h1v1h-1zM183.3 109.2h1v1h-1zM177.8 113.9h1v1h-1zM191.3 107.9h1v1h-1zM173.6 109.5h1v1h-1zM180.1 96.6h1v1h-1zM188.2 90.6h1v1h-1zM192.4 124.2h1v1h-1zM197.7 115.9h1v1h-1zM188.1 108.7h1v1h-1zM177.2 95.6h1v1h-1zM190.5 122.5h1v1h-1zM176.6 104.3h1v1h-1zM200.2 105.0h1v1h-1zM191.9 115.0h1v1h-1zM199.1 103.3h1v1h-1zM181.8 117.4h1v1h-1zM169.4 95.8h1v1h-1zM216.4 111.3h1v1h-1zM193.1 100.6h1v1h-1zM187.1 83.8h1v1h-1zM179.8 120.1h1v1h-1zM203.8 98.7h1v1h-1zM196.0 111.2h1v1h-1zM188.7 108.1h1v1h-1zM193.0 117.3h1v1h-1zM198.6 88.6h1v1h-1zM184.2 121.5h1v1h-1zM190.2 79.8h1v1h-1zM180.3 93.4h1v1h-1zM182.9 119.1h1v1h-1zM199.0 112.0h1v1h-1zM188.7 101.3h1v1h-1zM199.4 107.0h1v1h-1zM203.3 118.1h1v1h-1zM184.3 101.5h1v1h-1zM195.0 131.0h1v1h-1zM186.2 101.5h1v1h-1zM187.6 88.0h1v1h-1zM174.6 107.4h1v1h-1zM181.3 129.2h1v1h-1zM186.9 110.6h1v1h-1zM185.3 117.5h1v1h-1zM196.9 122.5h1v1h-1zM183.4 126.8h1v1h-1zM199.7 127.7h1v1h-1zM204.8 121.0h1v1h-1zM188.6 90.0h1v1h-1zM179.3 93.8h1v1h-1zM177.2 115.4h1v1h-1zM194.2 105.7h1v1h-1zM192.1 106.0h1v1h-1zM203.4 129.4h1v1h-1zM182.7 99.2h1v1h-1zM175.6 118.2h1v1h-1zM211.4 93.4h1v1h-1zM193.7 108.8h1v1h-1zM187.6 120.5h1v1h-1zM181.1 121.7h1v1h-1zM177.4 108.1h1v1h-1zM192.9 121.2h1v1h-1zM190.3 125.9h1v1h-1zM192.5 113.7h1v1h-1zM188.4 107.4h1v1h-1zM201.0 107.2h1v1h-1zM183.1 107.8h1v1h-1zM192.7 103.2h1v1h-1zM198.7 119.7h1v1h-1zM178.1 102.1h1v1h-1zM178.7 104.2h1v1h-1zM214.0 94.5h1v1h-1zM175.6 119.7h1v1h-1zM192.6 113.1h1v1h-1zM195.5 106.7h1v1h-1zM192.1 102.9h1v1h-1zM174.7 95.8h1v1h-1zM176.1 120.4h1v1h-1zM166.9 109.7h1v1h-1zM192.8 114.3h1v1h-1zM178.1 136.2h1v1h-1zM194.2 123.7h1v1h-1zM185.7 106.7h1v1h-1zM188.5 104.7h1v1h-1zM204.3 101.0h1v1h-1zM179.7 110.2h1v1h-1zM187.0 120.1h1v1h-1zM195.1 114.4h1v1h-1zM191.2 101.8h1v1h-1zM208.4 117.1h1v1h-1zM195.7 83.5h1v1h-1zM203.7 106.0h1v1h-1zM182.3 107.7h1v1h-1zM183.3 114.7h1v1h-1zM173.2 113.1h1v1h-1zM170.6 97.6h1v1h-1zM193.9 114.6h1v1h-1zM189.4 108.2h1v1h-1zM186.7 106.1h1v1h-1zM187.4 104.1h1v1h-1zM181.6 108.8h1v1h-1zM204.6 119.5h1v1h-1zM181.6 98.1h1v1h-1zM192.0 107.7h1v1h-1zM190.8 114.6h1v1h-1zM184.2 103.4h1v1h-1zM190.7 101.7h1v1h-1zM193.2 82.4h1v1h-1zM189.9 92.5h1v1h-1zM190.5 82.1h1v1h-1zM198.2 118.8h1v1h-1zM203.7 116.4h1v1h-1zM198.5 118.7h1v1h-1zM192.4 107.6h1v1h-1zM202.3 135.7h1v1h-1zM171.3 97.6h1v1h-1zM196.1 115.7h1v1h-1zM190.0 130.8h1v1h-1zM185.6 117.5h1v1h-1zM197.3 106.4h1v1h-1zM187.7 95.4h1v1h-1zM183.1 100.2h1v1h-1zM187.0 103.9h1v1h-1zM186.4 92.4h1v1h-1zM185.1 84.9h1v1h-1zM196.5 119.5h1v1h-1zM185.0 93.1h1v1h-1zM202.7 124.2h1v1h-1zM190.7 101.8h1v1h-1zM211.2 101.2h1v1h-1zM187.3 98.1h1v1h-1zM189.9 119.8h1v1h-1zM188.7 112.1h1v1h-1zM187.1 108.3h1v1h-1zM192.4 118.8h1v1h-1zM195.4 128.5h1v1h-1zM195.3 103.4h1v1h-1zM193.1 127.5h1v1h-1zM184.5 106.8h1v1h-1zM193.5 100.2h1v1h-1zM174.9 109.0h1v1h-1zM199.2 123.4h1v1h-1zM177.8 115.0h1v1h-1zM186.6 112.4h1v1h-1zM200.8 105.8h1v1h-1zM171.4 99.7h1v1h-1zM190.0 98.8h1v1h-1zM188.9 92.4h1v1h-1zM190.5 115.1h1v1h-1zM178.0 97.9h1v1h-1zM187.9 130.5h1v1h-1zM197.0 93.4h1v1h-1zM169.7 102.3h1v1h-1zM195.2 88.2h1v1h-1zM200.5 118.2h1v1h-1zM193.4 100.2h1v1h-1zM175.4 91.6h1v1h-1zM193.8 98.9h1v1h-1zM180.9 99.0h1v1h-1zM188.7 112.9h1v1h-1zM189.5 104.9h1v1h-1zM175.0 109.1h1v1h-1zM192.5 128.8h1v1h-1zM204.9 77.9h1v1h-1zM195.4 109.1h1v1h-1zM179.5 122.5h1v1h-1zM177.7 98.3h1v1h-1zM181.0 106.8h1v1h-1zM185.0 98.2h1v1h-1zM201.0 97.9h1v1h-1zM195.3 96.1h1v1h-1zM205.0 119.6h1v1h-1zM191.6 116.9h1v1h-1zM189.6 111.7h1v1h-1zM190.2 100.4h1v1h-1zM177.0 140.6h1v1h-1zM191.7 96.1h1v1h-1zM185.4 91.1h1v1h-1zM210.2 108.2h1v1h-1zM187.2 102.7h1v1h-1zM196.3 127.2h1v1h-1zM193.8 133.9h1v1h-1zM179.2 106.2h1v1h-1zM192.0 123.4h1v1h-1zM189.6 93.3h1v1h-1zM173.8 102.1h1v1h-1zM201.0 125.3h1v1h-1zM200.2 103.5h1v1h-1zM186.2 108.7h1v1h-1zM188.8 108.5h1v1h-1zM187.2 117.9h1v1h-1zM197.6 88.2h1v1h-1zM187.3 91.7h1v1h-1zM181.9 124.5h1v1h-1zM195.0 106.0h1v1h-1zM193.3 120.6h1v1h-1zM185.4 96.5h1v1h-1zM204.0 105.8h1v1h-1zM192.7 140.9h1v1h-1zM183.1 93.0h1v1h-1zM206.9 119.0h1v1h-1zM165.5 102.8h1v1h-1zM177.0 114.0h1v1h-1zM183.5 113.4h1v1h-1zM180.1 100.9h1v1h-1zM191.9 124.9h1v1h-1zM174.4 83.5h1v1h-1zM194.4 106.3h1v1h-1zM173.3 82.6h1v1h-1zM179.4 107.4h1v1h-1zM192.2 117.7h1v1h-1zM190.2 114.4h1v1h-1zM169.9 125.7h1v1h-1zM183.3 115.3h1v1h-1zM193.1 88.7h1v1h-1zM186.8 82.3h1v1h-1zM185.0 107.5h1v1h-1zM187.0 129.4h1v1h-1zM188.4 111.4h1v1h-1zM181.3 99.7h1v1h-1zM192.8 112.6h1v1h-1zM180.8 105.2h1v1h-1zM181.5 119.3h1v1h-1zM184.4 97.3h1v1h-1zM186.3 110.8h1v1h-1zM185.9 101.6h1v1h-1zM187.5 98.8h1v1h-1zM187.5 98.5h1v1h-1zM186.2 117.9h1v1h-1zM192.8 111.3h1v1h-1zM184.7 91.3h1v1h-1zM184.3 118.4h1v1h-1zM185.8 91.3h1v1h-1zM176.5 94.6h1v1h-1zM193.7 113.7h1v1h-1zM185.8 117.7h1v1h-1zM170.1 120.1h1v1h-1zM175.9 128.3h1v1h-1zM184.8 101.6h1v1h-1zM180.2 112.8h1v1h-1zM181.7 111.3h1v1h-1zM192.5 94.0h1v1h-1zM194.4 104.2h1v1h-1zM201.6 100.0h1v1h-1zM193.3 101.8h1v1h-1zM196.4 121.3h1v1h-1zM180.6 107.7h1v1h-1zM172.3 112.1h1v1h-1zM185.7 104.9h1v1h-1zM195.1 92.8h1v1h-1zM166.8 106.1h1v1h-1zM191.9 91.2h1v1h-1zM183.0 103.6h1v1h-1zM187.3 120.2h1v1h-1zM191.0 97.0h1v1h-1zM185.4 107.6h1v1h-1zM198.8 111.0h1v1h-1zM185.7 105.1h1v1h-1zM192.8 103.8h1v1h-1zM200.1 103.3h1v1h-1zM177.6 128.5h1v1h-1zM187.8 88.2h1v1h-1zM189.0 114.0h1v1h-1zM191.2 102.3h1v1h-1zM200.1 124.4h1v1h-1zM195.7 106.4h1v1h-1zM196.2 95.5h1v1h-1zM168.0 97.5h1v1h-1zM193.2 118.3h1v1h-1zM187.4 95.8h1v1h-1zM174.7 97.9h1v1h-1zM196.0 87.3h1v1h-1zM180.8 116.3h1v1h-1zM197.8 112.2h1v1h-1zM192.3 140.6h1v1h-1zM210.7 131.4h1v1h-1zM173.3 102.6h1v1h-1zM193.2 118.6h1v1h-1zM168.1 102.0h1v1h-1zM190.7 120.0h1v1h-1zM189.8 115.8h1v1h-1zM179.1 100.2h1v1h-1zM188.5 108.3h1v1h-1zM177.1 117.4h1v1h-1zM186.0 116.1h1v1h-1zM174.9 114.7h1v1h-1zM170.8 116.6h1v1h-1zM175.4 105.7h1v1h-1zM164.7 106.3h1v1h-1zM178.9 107.8h1v1h-1zM168.4 113.1h1v1h-1zM187.6 127.2h1v1h-1zM178.4 117.4h1v1h-1zM184.4 113.8h1v1h-1zM178.5 120.8h1v1h-1zM168.8 100.3h1v1h-1zM165.8 119.9h1v1h-1zM170.6 126.5h1v1h-1zM176.9 126.3h1v1h-1zM172.8 117.2h1v1h-1zM165.2 113.7h1v1h-1zM164.7 114.8h1v1h-1zM165.0 120.0h1v1h-1zM178.3 112.5h1v1h-1zM180.5 100.1h1v1h-1zM177.7 116.8h1v1h-1zM171.6 109.3h1v1h-1zM165.4 124.6h1v1h-1zM172.3 99.0h1v1h-1zM164.8 112.8h1v1h-1zM167.3 108.4h1v1h-1zM174.9 115.4h1v1h-1zM179.0 117.4h1v1h-1zM165.3 95.7h1v1h-1zM171.6 112.2h1v1h-1zM178.1 122.6h1v1h-1zM169.0 122.0h1v1h-1zM176.6 111.4h1v1h-1zM173.8 127.1h1v1h-1zM166.5 128.4h1v1h-1zM165.3 121.9h1v1h-1zM174.5 110.5h1v1h-1zM165.5 109.3h1v1h-1zM175.0 100.5h1v1h-1zM178.6 128.9h1v1h-1zM175.9 112.9h1v1h-1zM174.8 121.8h1v1h-1zM182.7 114.2h1v1h-1zM168.2 131.8h1v1h-1zM170.6 127.8h1v1h-1zM165.0 100.0h1v1h-1zM171.9 106.1h1v1h-1zM180.4 108.3h1v1h-1zM169.3 125.9h1v1h-1zM171.2 114.0h1v1h-1zM171.4 117.9h1v1h-1zM173.4 128.4h1v1h-1zM180.0 126.0h1v1h-1zM173.3 123.2h1v1h-1zM182.2 120.3h1v1h-1zM165.7 118.6h1v1h-1zM178.8 126.5h1v1h-1zM164.9 120.0h1v1h-1zM177.9 142.3h1v1h-1zM179.1 94.2h1v1h-1zM171.1 106.5h1v1h-1zM171.5 132.3h1v1h-1zM169.3 109.4h1v1h-1zM165.2 117.9h1v1h-1zM167.6 111.5h1v1h-1zM190.3 114.4h1v1h-1zM164.9 99.7h1v1h-1zM170.3 119.0h1v1h-1zM176.0 108.0h1v1h-1zM174.0 111.9h1v1h-1zM173.7 126.4h1v1h-1zM178.1 107.0h1v1h-1zM166.7 131.5h1v1h-1zM168.0 113.4h1v1h-1zM182.7 113.1h1v1h-1zM165.4 120.9h1v1h-1zM172.9 112.9h1v1h-1zM165.1 118.5h1v1h-1zM173.4 108.7h1v1h-1zM178.3 99.8h1v1h-1zM167.4 119.2h1v1h-1zM169.2 110.6h1v1h-1zM187.0 113.5h1v1h-1zM173.6 123.7h1v1h-1zM165.7 98.6h1v1h-1zM171.8 101.9h1v1h-1zM178.4 119.8h1v1h-1zM174.2 123.6h1v1h-1zM177.0 116.6h1v1h-1zM178.2 103.5h1v1h-1zM168.2 107.7h1v1h-1zM175.6 120.1h1v1h-1zM174.4 103.6h1v1h-1zM173.6 106.1h1v1h-1zM175.0 103.3h1v1h-1zM171.5 118.3h1v1h-1zM177.1 136.5h1v1h-1zM168.7 100.8h1v1h-1zM167.0 97.9h1v1h-1zM184.2 119.8h1v1h-1zM167.0 111.5h1v1h-1zM179.1 98.8h1v1h-1zM183.6 121.8h1v1h-1zM178.8 119.9h1v1h-1zM180.3 110.8h1v1h-1zM183.0 116.0h1v1h-1zM178.5 127.1h1v1h-1zM165.4 110.4h1v1h-1zM173.2 106.9h1v1h-1zM189.3 121.0h1v1h-1zM164.9 125.1h1v1h-1zM168.0 104.3h1v1h-1zM175.3 118.0h1v1h-1zM177.4 116.8h1v1h-1zM174.4 115.4h1v1h-1zM165.3 107.6h1v1h-1zM173.8 94.3h1v1h-1zM173.3 120.8h1v1h-1zM173.8 122.0h1v1h-1zM172.3 118.7h1v1h-1zM175.0 123.9h1v1h-1zM171.8 119.1h1v1h-1zM165.4 115.9h1v1h-1zM177.6 108.4h1v1h-1zM174.8 116.3h1v1h-1zM179.5 117.9h1v1h-1zM177.5 131.5h1v1h-1zM165.0 122.1h1v1h-1zM180.9 117.7h1v1h-1zM175.9 125.6h1v1h-1zM245.3 87.6h1v1h-1zM217.8 133.1h1v1h-1zM222.0 125.2h1v1h-1zM209.8 151.4h1v1h-1zM221.4 151.4h1v1h-1zM209.1 149.5h1v1h-1zM211.0 113.7h1v1h-1zM212.3 116.1h1v1h-1zM233.3 132.7h1v1h-1zM226.4 123.2h1v1h-1zM195.5 115.4h1v1h-1zM199.6 101.3h1v1h-1zM217.8 117.5h1v1h-1zM234.6 136.4h1v1h-1zM204.3 93.8h1v1h-1zM229.9 112.7h1v1h-1zM184.1 120.4h1v1h-1zM201.7 132.2h1v1h-1zM190.1 150.9h1v1h-1zM210.4 113.7h1v1h-1zM209.2 124.2h1v1h-1zM219.1 95.5h1v1h-1zM207.9 118.4h1v1h-1zM231.7 143.3h1v1h-1zM199.8 129.4h1v1h-1zM241.8 130.4h1v1h-1zM196.5 151.0h1v1h-1zM220.6 101.0h1v1h-1zM204.3 128.6h1v1h-1zM198.9 134.7h1v1h-1zM235.3 131.2h1v1h-1zM200.0 109.4h1v1h-1zM222.4 121.8h1v1h-1zM237.7 144.4h1v1h-1zM216.7 97.1h1v1h-1zM230.8 103.7h1v1h-1zM192.5 126.3h1v1h-1zM246.8 93.4h1v1h-1zM164.9 150.9h1v1h-1zM241.5 106.0h1v1h-1zM240.9 150.8h1v1h-1zM219.5 105.9h1v1h-1zM239.1 139.4h1v1h-1zM236.2 106.1h1v1h-1zM209.0 91.0h1v1h-1zM240.0 104.2h1v1h-1zM210.0 115.7h1v1h-1zM217.5 89.6h1v1h-1zM206.2 134.8h1v1h-1zM244.8 115.0h1v1h-1zM206.5 124.7h1v1h-1zM211.3 123.5h1v1h-1zM212.5 151.5h1v1h-1zM226.9 103.2h1v1h-1zM212.9 128.7h1v1h-1zM196.3 121.1h1v1h-1zM204.4 125.4h1v1h-1zM220.8 106.9h1v1h-1zM219.1 75.7h1v1h-1zM223.9 111.2h1v1h-1zM227.2 123.0h1v1h-1zM235.1 118.2h1v1h-1zM194.5 131.1h1v1h-1zM244.2 151.6h1v1h-1zM249.1 119.0h1v1h-1zM222.7 97.6h1v1h-1zM222.1 130.1h1v1h-1zM179.6 132.9h1v1h-1zM197.4 108.0h1v1h-1zM219.9 139.0h1v1h-1zM238.9 104.5h1v1h-1zM196.4 119.3h1v1h-1zM231.6 104.5h1v1h-1zM194.8 112.2h1v1h-1zM230.1 113.8h1v1h-1zM189.4 129.9h1v1h-1zM216.1 125.5h1v1h-1zM234.3 128.6h1v1h-1zM185.7 150.4h1v1h-1zM226.6 136.5h1v1h-1z" fill="#0a0a0a"/></g>
<rect x="164.2" y="71.8" width="86.4" height="80.2" fill="none" stroke="#0a0a0a" stroke-width="1.6"/>
<text x="164.0" y="164.1" font-size="5.7" text-anchor="end" fill="#0a0a0a" class="th">10</text>
<text x="164.2" y="161.4" font-size="4.3" text-anchor="start" fill="#0a0a0a" class="th">0</text>
<text x="159.0" y="157.3" font-size="5.7" text-anchor="end" fill="#0a0a0a" class="th">10</text>
<text x="159.2" y="154.6" font-size="4.3" text-anchor="start" fill="#0a0a0a" class="th">0</text>
<text x="185.6" y="164.1" font-size="5.7" text-anchor="end" fill="#0a0a0a" class="th">10</text>
<text x="185.8" y="161.4" font-size="4.3" text-anchor="start" fill="#0a0a0a" class="th">1</text>
<text x="159.0" y="137.2" font-size="5.7" text-anchor="end" fill="#0a0a0a" class="th">10</text>
<text x="159.2" y="134.5" font-size="4.3" text-anchor="start" fill="#0a0a0a" class="th">1</text>
<text x="207.2" y="164.1" font-size="5.7" text-anchor="end" fill="#0a0a0a" class="th">10</text>
<text x="207.4" y="161.4" font-size="4.3" text-anchor="start" fill="#0a0a0a" class="th">2</text>
<text x="159.0" y="117.2" font-size="5.7" text-anchor="end" fill="#0a0a0a" class="th">10</text>
<text x="159.2" y="114.5" font-size="4.3" text-anchor="start" fill="#0a0a0a" class="th">2</text>
<text x="228.8" y="164.1" font-size="5.7" text-anchor="end" fill="#0a0a0a" class="th">10</text>
<text x="229.0" y="161.4" font-size="4.3" text-anchor="start" fill="#0a0a0a" class="th">3</text>
<text x="159.0" y="97.1" font-size="5.7" text-anchor="end" fill="#0a0a0a" class="th">10</text>
<text x="159.2" y="94.4" font-size="4.3" text-anchor="start" fill="#0a0a0a" class="th">3</text>
<text x="250.4" y="164.1" font-size="5.7" text-anchor="end" fill="#0a0a0a" class="th">10</text>
<text x="250.6" y="161.4" font-size="4.3" text-anchor="start" fill="#0a0a0a" class="th">4</text>
<text x="159.0" y="77.1" font-size="5.7" text-anchor="end" fill="#0a0a0a" class="th">10</text>
<text x="159.2" y="74.4" font-size="4.3" text-anchor="start" fill="#0a0a0a" class="th">4</text>
<text x="15.7" y="68" font-size="9.25" fill="#0a0a0a" textLength="94.6" lengthAdjust="spacing">VSV NP<tspan font-size="5.5" dy="1.9">52-59</tspan><tspan dy="-1.9"> immunized</tspan></text>
<text x="154.2" y="68" font-size="9.25" fill="#0a0a0a" textLength="87" lengthAdjust="spacing">OVA<tspan font-size="5" dy="1.8">257-264</tspan><tspan dy="-1.8"> immunized</tspan></text>
<text x="69.8" y="172.7" font-size="6" text-anchor="middle" fill="#0a0a0a" class="th" textLength="67" lengthAdjust="spacing">OVA257-264 / H2-Kb PE</text>
<text x="206.5" y="172.7" font-size="6" text-anchor="middle" fill="#0a0a0a" class="th" textLength="67" lengthAdjust="spacing">OVA257-264 / H2-Kb PE</text>
<text x="5.6" y="112.3" font-size="6.1" text-anchor="middle" transform="rotate(-90 5.6 112.3)" fill="#0a0a0a" class="th" textLength="74.5" lengthAdjust="spacing">VSV NP52-59 / H2-Kb APC</text>
<text x="141.5" y="112.3" font-size="6.1" text-anchor="middle" transform="rotate(-90 141.5 112.3)" fill="#0a0a0a" class="th" textLength="74.5" lengthAdjust="spacing">VSV NP52-59 / H2-Kb APC</text>
<line x1="286.4" y1="16.9" x2="286.4" y2="153.29999999999998" stroke="#0a0a0a" stroke-width="1.3"/>
<line x1="285.79999999999995" y1="152.6" x2="520" y2="152.6" stroke="#0a0a0a" stroke-width="1.5"/>
<line x1="414.9" y1="16.8" x2="414.9" y2="152.6" stroke="#0a0a0a" stroke-width="1.8"/>
<line x1="282.79999999999995" y1="152.6" x2="286.4" y2="152.6" stroke="#0a0a0a" stroke-width="1.1"/>
<text x="282.9" y="152.6" font-size="5" text-anchor="middle" font-weight="bold" transform="rotate(-90 282.9 152.6)" fill="#0a0a0a">0</text>
<line x1="282.79999999999995" y1="118.85" x2="286.4" y2="118.85" stroke="#0a0a0a" stroke-width="1.1"/>
<text x="282.9" y="118.85" font-size="5" text-anchor="middle" font-weight="bold" transform="rotate(-90 282.9 118.85)" fill="#0a0a0a">2</text>
<line x1="282.79999999999995" y1="85.1" x2="286.4" y2="85.1" stroke="#0a0a0a" stroke-width="1.1"/>
<text x="282.9" y="85.1" font-size="5" text-anchor="middle" font-weight="bold" transform="rotate(-90 282.9 85.1)" fill="#0a0a0a">4</text>
<line x1="282.79999999999995" y1="51.349999999999994" x2="286.4" y2="51.349999999999994" stroke="#0a0a0a" stroke-width="1.1"/>
<text x="282.9" y="51.349999999999994" font-size="5" text-anchor="middle" font-weight="bold" transform="rotate(-90 282.9 51.349999999999994)" fill="#0a0a0a">6</text>
<line x1="282.79999999999995" y1="17.599999999999994" x2="286.4" y2="17.599999999999994" stroke="#0a0a0a" stroke-width="1.1"/>
<text x="282.9" y="17.599999999999994" font-size="5" text-anchor="middle" font-weight="bold" transform="rotate(-90 282.9 17.599999999999994)" fill="#0a0a0a">8</text>
<line x1="299.5" y1="152.6" x2="299.5" y2="155.2" stroke="#0a0a0a" stroke-width="1.1"/>
<line x1="325" y1="152.6" x2="325" y2="155.2" stroke="#0a0a0a" stroke-width="1.1"/>
<line x1="350.8" y1="152.6" x2="350.8" y2="155.2" stroke="#0a0a0a" stroke-width="1.1"/>
<line x1="376.4" y1="152.6" x2="376.4" y2="155.2" stroke="#0a0a0a" stroke-width="1.1"/>
<line x1="402.3" y1="152.6" x2="402.3" y2="155.2" stroke="#0a0a0a" stroke-width="1.1"/>
<line x1="428.5" y1="152.6" x2="428.5" y2="155.2" stroke="#0a0a0a" stroke-width="1.1"/>
<line x1="454.3" y1="152.6" x2="454.3" y2="155.2" stroke="#0a0a0a" stroke-width="1.1"/>
<line x1="479.7" y1="152.6" x2="479.7" y2="155.2" stroke="#0a0a0a" stroke-width="1.1"/>
<line x1="505.5" y1="152.6" x2="505.5" y2="155.2" stroke="#0a0a0a" stroke-width="1.1"/>
<g transform="translate(272.8 132.4) rotate(-90)" font-weight="bold" fill="#0a0a0a">
<text x="0" y="0" font-size="6.8" textLength="11.0" lengthAdjust="spacingAndGlyphs">OVA</text>
<text x="11.3" y="1.9" font-size="5.0" textLength="18.3" lengthAdjust="spacing">257-264</text>
<text x="29.900000000000002" y="0" font-size="7.0" textLength="64.6" lengthAdjust="spacing">-specific T cells [%]</text>
</g>
<circle cx="292" cy="150" r="1.5" fill="#0a0a0a"/>
<circle cx="296.2" cy="148.3" r="1.5" fill="#0a0a0a"/>
<circle cx="298.8" cy="151.2" r="1.5" fill="#0a0a0a"/>
<circle cx="302.5" cy="149.5" r="1.5" fill="#0a0a0a"/>
<circle cx="305.8" cy="148" r="1.5" fill="#0a0a0a"/>
<line x1="290" y1="149.5" x2="308.8" y2="149.5" stroke="#0a0a0a" stroke-width="1.25"/>
<circle cx="325" cy="72" r="1.85" fill="#0a0a0a"/>
<circle cx="325" cy="82.8" r="1.85" fill="#0a0a0a"/>
<circle cx="325" cy="92" r="1.85" fill="#0a0a0a"/>
<circle cx="325" cy="102" r="1.85" fill="#0a0a0a"/>
<circle cx="325" cy="128.8" r="1.85" fill="#0a0a0a"/>
<circle cx="325" cy="133.8" r="1.85" fill="#0a0a0a"/>
<line x1="315.5" y1="102" x2="334.3" y2="102" stroke="#0a0a0a" stroke-width="1.25"/>
<circle cx="350.8" cy="75" r="1.85" fill="#0a0a0a"/>
<circle cx="350.8" cy="94.5" r="1.85" fill="#0a0a0a"/>
<circle cx="346.2" cy="128.3" r="1.85" fill="#0a0a0a"/>
<circle cx="350.8" cy="129.3" r="1.85" fill="#0a0a0a"/>
<circle cx="355.3" cy="128" r="1.85" fill="#0a0a0a"/>
<circle cx="350.8" cy="138" r="1.85" fill="#0a0a0a"/>
<line x1="341.7" y1="115.7" x2="360" y2="115.7" stroke="#0a0a0a" stroke-width="1.25"/>
<circle cx="376.5" cy="133.1" r="1.85" fill="#0a0a0a"/>
<circle cx="371.9" cy="142.7" r="1.85" fill="#0a0a0a"/>
<circle cx="376.5" cy="143.5" r="1.85" fill="#0a0a0a"/>
<circle cx="381" cy="143.1" r="1.85" fill="#0a0a0a"/>
<line x1="367.1" y1="140.5" x2="385.9" y2="140.5" stroke="#0a0a0a" stroke-width="1.25"/>
<circle cx="402.3" cy="114.7" r="1.85" fill="#0a0a0a"/>
<circle cx="402.3" cy="127.7" r="1.85" fill="#0a0a0a"/>
<circle cx="402.3" cy="132.1" r="1.85" fill="#0a0a0a"/>
<circle cx="398.1" cy="135" r="1.85" fill="#0a0a0a"/>
<circle cx="402.3" cy="138.4" r="1.85" fill="#0a0a0a"/>
<circle cx="406.6" cy="138.1" r="1.85" fill="#0a0a0a"/>
<line x1="393.1" y1="131" x2="411.9" y2="131" stroke="#0a0a0a" stroke-width="1.25"/>
<text x="363.1" y="126.8" font-size="6.3" fill="#1a1a1a" textLength="25" lengthAdjust="spacing"><tspan font-size="4.5" dy="-1.6">*</tspan><tspan dy="1.6"> </tspan><tspan font-style="italic">P</tspan> &lt; .05</text>
<text x="387.7" y="110.2" font-size="6.3" fill="#1a1a1a" textLength="23.6" lengthAdjust="spacing"><tspan font-size="4.5" dy="-1.6">*</tspan><tspan dy="1.6"> </tspan><tspan font-style="italic">P</tspan> &lt; .05</text>
<path d="M423.4 148.05 L424.79999999999995 150.55 L422.0 150.55Z" fill="#0a0a0a"/>
<path d="M428.5 150.05 L429.9 152.55 L427.1 152.55Z" fill="#0a0a0a"/>
<path d="M432.6 149.15 L434.0 151.65 L431.20000000000005 151.65Z" fill="#0a0a0a"/>
<line x1="419.3" y1="150" x2="436.9" y2="150" stroke="#0a0a0a" stroke-width="1.25"/>
<path d="M454.3 33.4 L456.0 36.4 L452.6 36.4Z" fill="#0a0a0a"/>
<path d="M454.3 79.7 L456.0 82.7 L452.6 82.7Z" fill="#0a0a0a"/>
<path d="M454.3 106.3 L456.0 109.3 L452.6 109.3Z" fill="#0a0a0a"/>
<path d="M449.5 115.9 L451.2 118.9 L447.8 118.9Z" fill="#0a0a0a"/>
<path d="M454.3 118.4 L456.0 121.4 L452.6 121.4Z" fill="#0a0a0a"/>
<path d="M454.3 128.5 L456.0 131.5 L452.6 131.5Z" fill="#0a0a0a"/>
<line x1="445.1" y1="98.1" x2="463.5" y2="98.1" stroke="#0a0a0a" stroke-width="1.25"/>
<path d="M479.7 30.700000000000003 L481.4 33.7 L478.0 33.7Z" fill="#0a0a0a"/>
<path d="M479.7 42.8 L481.4 45.8 L478.0 45.8Z" fill="#0a0a0a"/>
<path d="M479.7 77.8 L481.4 80.8 L478.0 80.8Z" fill="#0a0a0a"/>
<path d="M484.5 90.1 L486.2 93.1 L482.8 93.1Z" fill="#0a0a0a"/>
<path d="M479.7 92.5 L481.4 95.5 L478.0 95.5Z" fill="#0a0a0a"/>
<line x1="470.7" y1="67.9" x2="489.3" y2="67.9" stroke="#0a0a0a" stroke-width="1.25"/>
<path d="M501.4 90.6 L503.09999999999997 93.6 L499.7 93.6Z" fill="#0a0a0a"/>
<path d="M505.5 88.7 L507.2 91.7 L503.8 91.7Z" fill="#0a0a0a"/>
<path d="M505.5 94.2 L507.2 97.2 L503.8 97.2Z" fill="#0a0a0a"/>
<path d="M505.5 108.7 L507.2 111.7 L503.8 111.7Z" fill="#0a0a0a"/>
<path d="M505.5 115.2 L507.2 118.2 L503.8 118.2Z" fill="#0a0a0a"/>
<path d="M505.5 132.8 L507.2 135.8 L503.8 135.8Z" fill="#0a0a0a"/>
<line x1="496.6" y1="106.6" x2="514.7" y2="106.6" stroke="#0a0a0a" stroke-width="1.25"/>
<text x="266.2" y="164" font-size="7" text-anchor="start" textLength="23.2" lengthAdjust="spacing" class="th2" fill="#141414">[mg/kg]</text>
<line x1="298.4" y1="162.2" x2="300.6" y2="162.2" stroke="#0a0a0a" stroke-width="1.1"/>
<line x1="323.9" y1="162.2" x2="326.1" y2="162.2" stroke="#0a0a0a" stroke-width="1.1"/>
<line x1="426.4" y1="162.2" x2="428.6" y2="162.2" stroke="#0a0a0a" stroke-width="1.1"/>
<line x1="452.7" y1="162.2" x2="454.90000000000003" y2="162.2" stroke="#0a0a0a" stroke-width="1.1"/>
<text x="350.9" y="164.4" font-size="6.9" text-anchor="middle" font-weight="bold" fill="#0a0a0a">20</text>
<text x="376.8" y="164.4" font-size="6.9" text-anchor="middle" font-weight="bold" fill="#0a0a0a">15</text>
<text x="402.1" y="164.4" font-size="6.9" text-anchor="middle" font-weight="bold" fill="#0a0a0a">60</text>
<text x="480.4" y="164.4" font-size="6.9" text-anchor="middle" font-weight="bold" fill="#0a0a0a">20</text>
<text x="505.9" y="164.4" font-size="6.9" text-anchor="middle" font-weight="bold" fill="#0a0a0a">40</text>
<text x="311.9" y="175.7" font-size="6.9" text-anchor="middle" font-weight="bold" textLength="23.6" lengthAdjust="spacing" fill="#0a0a0a">vehicle</text>
<text x="351" y="175.7" font-size="6.9" text-anchor="middle" font-weight="bold" textLength="27.8" lengthAdjust="spacing" fill="#0a0a0a">sunitinib</text>
<text x="389.6" y="175.7" font-size="6.9" text-anchor="middle" font-weight="bold" textLength="31.6" lengthAdjust="spacing" fill="#0a0a0a">sorafenib</text>
<text x="441.6" y="175.7" font-size="6.9" text-anchor="middle" font-weight="bold" textLength="23.2" lengthAdjust="spacing" fill="#0a0a0a">vehicle</text>
<text x="493.8" y="175.7" font-size="6.9" text-anchor="middle" font-weight="bold" textLength="27.4" lengthAdjust="spacing" fill="#0a0a0a">sunitinib</text>
<line x1="312.5" y1="180.4" x2="408.8" y2="180.4" stroke="#0a0a0a" stroke-width="1.4"/>
<line x1="441.2" y1="180.2" x2="517.5" y2="180.2" stroke="#0a0a0a" stroke-width="1.5"/>
<g font-weight="bold" fill="#0a0a0a">
<text x="329.4" y="191.0" font-size="7.0" textLength="14.4" lengthAdjust="spacing">OVA</text>
<text x="344.19999999999993" y="191.8" font-size="4.6" textLength="19.6" lengthAdjust="spacing">257-264</text>
<text x="365.99999999999994" y="191.8" font-size="4.6" textLength="26.4" lengthAdjust="spacing">immunized</text>
</g>
<g font-weight="bold" fill="#0a0a0a">
<text x="447.6" y="191.3" font-size="7.0" textLength="14.4" lengthAdjust="spacing">OVA</text>
<text x="462.4" y="192.10000000000002" font-size="4.6" textLength="19.6" lengthAdjust="spacing">257-264</text>
<text x="484.2" y="192.10000000000002" font-size="4.6" textLength="26.4" lengthAdjust="spacing">immunized</text>
</g>
<line x1="57.2" y1="223.6" x2="57.2" y2="362" stroke="#0a0a0a" stroke-width="1.7"/>
<line x1="56.400000000000006" y1="361" x2="223.6" y2="361" stroke="#0a0a0a" stroke-width="2.2"/>
<line x1="52.400000000000006" y1="361.0" x2="57.2" y2="361.0" stroke="#0a0a0a" stroke-width="1.5"/>
<text x="52.0" y="363.9" font-size="8" text-anchor="end" font-weight="bold" fill="#0a0a0a">0</text>
<line x1="52.400000000000006" y1="326.9" x2="57.2" y2="326.9" stroke="#0a0a0a" stroke-width="1.5"/>
<text x="52.0" y="329.79999999999995" font-size="8" text-anchor="end" font-weight="bold" fill="#0a0a0a">1</text>
<line x1="52.400000000000006" y1="292.8" x2="57.2" y2="292.8" stroke="#0a0a0a" stroke-width="1.5"/>
<text x="52.0" y="295.7" font-size="8" text-anchor="end" font-weight="bold" fill="#0a0a0a">2</text>
<line x1="52.400000000000006" y1="258.7" x2="57.2" y2="258.7" stroke="#0a0a0a" stroke-width="1.5"/>
<text x="52.0" y="261.59999999999997" font-size="8" text-anchor="end" font-weight="bold" fill="#0a0a0a">3</text>
<line x1="52.400000000000006" y1="224.6" x2="57.2" y2="224.6" stroke="#0a0a0a" stroke-width="1.5"/>
<text x="52.0" y="227.5" font-size="8" text-anchor="end" font-weight="bold" fill="#0a0a0a">4</text>
<rect x="63.6" y="276.2" width="28.800000000000004" height="84.80000000000001" fill="#0a0a0a"/>
<line x1="78.0" y1="276.2" x2="78.0" y2="275.4" stroke="#0a0a0a" stroke-width="1.5"/>
<line x1="68.7" y1="275.4" x2="87.3" y2="275.4" stroke="#0a0a0a" stroke-width="1.5"/>
<rect x="105.4" y="305.2" width="28.5" height="55.80000000000001" fill="#0a0a0a"/>
<line x1="119.65" y1="305.2" x2="119.65" y2="302.3" stroke="#0a0a0a" stroke-width="1.5"/>
<line x1="112.15" y1="302.3" x2="127.15" y2="302.3" stroke="#0a0a0a" stroke-width="1.5"/>
<rect x="147.1" y="271.9" width="28.30000000000001" height="89.10000000000002" fill="#0a0a0a"/>
<line x1="161.25" y1="271.9" x2="161.25" y2="251.2" stroke="#0a0a0a" stroke-width="1.5"/>
<line x1="153.75" y1="251.2" x2="168.75" y2="251.2" stroke="#0a0a0a" stroke-width="1.5"/>
<rect x="188.5" y="263.9" width="28.5" height="97.10000000000002" fill="#0a0a0a"/>
<line x1="202.75" y1="263.9" x2="202.75" y2="256.7" stroke="#0a0a0a" stroke-width="1.5"/>
<line x1="195.25" y1="256.7" x2="210.25" y2="256.7" stroke="#0a0a0a" stroke-width="1.5"/>
<line x1="78.6" y1="361" x2="78.6" y2="365" stroke="#0a0a0a" stroke-width="1.5"/>
<line x1="119.6" y1="361" x2="119.6" y2="365" stroke="#0a0a0a" stroke-width="1.5"/>
<line x1="161.2" y1="361" x2="161.2" y2="365" stroke="#0a0a0a" stroke-width="1.5"/>
<line x1="202.9" y1="361" x2="202.9" y2="365" stroke="#0a0a0a" stroke-width="1.5"/>
<text x="119.8" y="301.2" font-size="17.5" text-anchor="middle" fill="#0a0a0a">*</text>
<text x="28.8" y="380" font-size="9.1" text-anchor="start" textLength="30.6" lengthAdjust="spacing" class="th2" fill="#141414">[mg/kg]</text>
<line x1="76.6" y1="375.6" x2="79.4" y2="375.6" stroke="#0a0a0a" stroke-width="1.3"/>
<text x="119.1" y="378.7" font-size="8.2" text-anchor="middle" font-weight="bold" fill="#0a0a0a">20</text>
<text x="161.3" y="378.7" font-size="8.2" text-anchor="middle" font-weight="bold" fill="#0a0a0a">15</text>
<text x="202.8" y="378.7" font-size="8.2" text-anchor="middle" font-weight="bold" fill="#0a0a0a">60</text>
<line x1="148.4" y1="383.5" x2="214.8" y2="383.5" stroke="#0a0a0a" stroke-width="1.4"/>
<text x="58.2" y="399.4" font-size="9.3" text-anchor="start" font-weight="bold" textLength="34.5" lengthAdjust="spacing" fill="#0a0a0a">vehicle</text>
<text x="100.4" y="399.4" font-size="9.3" text-anchor="start" font-weight="bold" textLength="40" lengthAdjust="spacing" fill="#0a0a0a">sunitinib</text>
<text x="160.4" y="399.4" font-size="9.3" text-anchor="start" font-weight="bold" textLength="29.2" lengthAdjust="spacing" fill="#0a0a0a">sorafe</text>
<text x="191.2" y="399.4" font-size="9.3" text-anchor="start" font-weight="bold" textLength="13.8" lengthAdjust="spacing" fill="#0a0a0a">nib</text>
<text x="40" y="292.9" font-size="8.7" text-anchor="middle" font-weight="bold" textLength="96" lengthAdjust="spacing" transform="rotate(-90 40 292.9)" fill="#0a0a0a">CD25<tspan font-size="6.2" dy="-3.0">+</tspan><tspan dy="3.0"> in CD4</tspan><tspan font-size="6.2" dy="-3.0">+</tspan><tspan dy="3.0"> cells [%]</tspan></text>
<line x1="315.4" y1="245" x2="315.4" y2="363.3" stroke="#0a0a0a" stroke-width="1.4"/>
<line x1="314.7" y1="362.5" x2="497.7" y2="362.5" stroke="#0a0a0a" stroke-width="1.6"/>
<line x1="311.9" y1="362.5" x2="315.4" y2="362.5" stroke="#0a0a0a" stroke-width="1.1"/>
<text x="311.5" y="364.8" font-size="6.6" text-anchor="end" class="th3" fill="#0a0a0a">0</text>
<line x1="311.9" y1="343.1" x2="315.4" y2="343.1" stroke="#0a0a0a" stroke-width="1.1"/>
<text x="311.5" y="345.40000000000003" font-size="6.6" text-anchor="end" class="th3" fill="#0a0a0a">2</text>
<line x1="311.9" y1="323.7" x2="315.4" y2="323.7" stroke="#0a0a0a" stroke-width="1.1"/>
<text x="311.5" y="326.0" font-size="6.6" text-anchor="end" class="th3" fill="#0a0a0a">4</text>
<line x1="311.9" y1="304.3" x2="315.4" y2="304.3" stroke="#0a0a0a" stroke-width="1.1"/>
<text x="311.5" y="306.6" font-size="6.6" text-anchor="end" class="th3" fill="#0a0a0a">6</text>
<line x1="311.9" y1="284.9" x2="315.4" y2="284.9" stroke="#0a0a0a" stroke-width="1.1"/>
<text x="311.5" y="287.2" font-size="6.6" text-anchor="end" class="th3" fill="#0a0a0a">8</text>
<line x1="311.9" y1="265.5" x2="315.4" y2="265.5" stroke="#0a0a0a" stroke-width="1.1"/>
<text x="311.5" y="267.8" font-size="6.6" text-anchor="end" class="th3" fill="#0a0a0a">10</text>
<line x1="311.9" y1="246.10000000000002" x2="315.4" y2="246.10000000000002" stroke="#0a0a0a" stroke-width="1.1"/>
<text x="311.5" y="248.40000000000003" font-size="6.6" text-anchor="end" class="th3" fill="#0a0a0a">12</text>
<line x1="338.5" y1="362.5" x2="338.5" y2="365.8" stroke="#0a0a0a" stroke-width="1.2"/>
<line x1="383.9" y1="362.5" x2="383.9" y2="365.8" stroke="#0a0a0a" stroke-width="1.2"/>
<line x1="429.1" y1="362.5" x2="429.1" y2="365.8" stroke="#0a0a0a" stroke-width="1.2"/>
<line x1="474.5" y1="362.5" x2="474.5" y2="365.8" stroke="#0a0a0a" stroke-width="1.2"/>
<circle cx="344.6" cy="267.2" r="2.2" fill="#0a0a0a"/>
<circle cx="338.5" cy="271.4" r="2.2" fill="#0a0a0a"/>
<circle cx="338.5" cy="281.5" r="2.2" fill="#0a0a0a"/>
<circle cx="338.5" cy="288.7" r="2.2" fill="#0a0a0a"/>
<line x1="323.3" y1="276.7" x2="354.4" y2="276.7" stroke="#0a0a0a" stroke-width="1.5"/>
<circle cx="383.9" cy="287.4" r="2.2" fill="#0a0a0a"/>
<circle cx="389.8" cy="291.6" r="2.2" fill="#0a0a0a"/>
<circle cx="377.8" cy="296.1" r="2.2" fill="#0a0a0a"/>
<circle cx="383.9" cy="296.9" r="2.2" fill="#0a0a0a"/>
<circle cx="383.9" cy="304.1" r="2.2" fill="#0a0a0a"/>
<line x1="368.5" y1="295.1" x2="399.7" y2="295.1" stroke="#0a0a0a" stroke-width="1.5"/>
<circle cx="429.1" cy="263.7" r="2.2" fill="#0a0a0a"/>
<circle cx="423" cy="268.8" r="2.2" fill="#0a0a0a"/>
<circle cx="429.1" cy="271.4" r="2.2" fill="#0a0a0a"/>
<circle cx="435.2" cy="276.7" r="2.2" fill="#0a0a0a"/>
<circle cx="429.1" cy="279.7" r="2.2" fill="#0a0a0a"/>
<line x1="413.4" y1="272.2" x2="444.8" y2="272.2" stroke="#0a0a0a" stroke-width="1.5"/>
<circle cx="474.5" cy="260.8" r="2.2" fill="#0a0a0a"/>
<circle cx="468.4" cy="270.9" r="2.2" fill="#0a0a0a"/>
<circle cx="474.5" cy="270.4" r="2.2" fill="#0a0a0a"/>
<circle cx="480.9" cy="274.3" r="2.2" fill="#0a0a0a"/>
<circle cx="474.5" cy="277.5" r="2.2" fill="#0a0a0a"/>
<line x1="458.6" y1="270.6" x2="490.2" y2="270.6" stroke="#0a0a0a" stroke-width="1.5"/>
<text x="369.8" y="321.6" font-size="6.3" fill="#222" textLength="25" lengthAdjust="spacing"><tspan font-size="4.5" dy="-1.6">*</tspan><tspan dy="1.6"> </tspan><tspan font-style="italic">P</tspan> &lt; .05</text>
<text x="288" y="377.2" font-size="8.2" text-anchor="start" textLength="27" lengthAdjust="spacing" class="th2" fill="#141414">[mg/kg]</text>
<line x1="337.3" y1="374.6" x2="339.7" y2="374.6" stroke="#0a0a0a" stroke-width="1.2"/>
<line x1="473.3" y1="374.6" x2="475.7" y2="374.6" stroke="#0a0a0a" stroke-width="1.2"/>
<text x="384.1" y="377.7" font-size="7.2" text-anchor="middle" font-weight="bold" fill="#0a0a0a">40</text>
<text x="429.1" y="377.7" font-size="7.2" text-anchor="middle" font-weight="bold" fill="#0a0a0a">60</text>
<text x="338.2" y="391" font-size="7.9" text-anchor="middle" font-weight="bold" textLength="27" lengthAdjust="spacing" fill="#0a0a0a">vehicle</text>
<text x="383.9" y="391" font-size="7.9" text-anchor="middle" font-weight="bold" textLength="32.3" lengthAdjust="spacing" fill="#0a0a0a">sunitinib</text>
<text x="430.1" y="391" font-size="7.9" text-anchor="middle" font-weight="bold" textLength="36.6" lengthAdjust="spacing" fill="#0a0a0a">sorafenib</text>
<text x="474.4" y="391" font-size="7.9" text-anchor="middle" font-weight="bold" textLength="38.5" lengthAdjust="spacing" fill="#0a0a0a">untreated</text>
<text x="299.5" y="304.3" font-size="8.5" text-anchor="middle" textLength="127" lengthAdjust="spacing" class="th3" transform="rotate(-90 299.5 304.3)" fill="#000">FoxP3+ CD25+ in CD4+ cells [%]</text>
<line x1="53.7" y1="432.2" x2="53.7" y2="541.8" stroke="#0a0a0a" stroke-width="1.4"/>
<line x1="53.0" y1="541" x2="229" y2="541" stroke="#0a0a0a" stroke-width="1.7"/>
<line x1="49.900000000000006" y1="541.0" x2="53.7" y2="541.0" stroke="#0a0a0a" stroke-width="1.2"/>
<text x="49.400000000000006" y="543.5" font-size="7" text-anchor="end" font-weight="bold" fill="#0a0a0a">0</text>
<line x1="49.900000000000006" y1="522.96" x2="53.7" y2="522.96" stroke="#0a0a0a" stroke-width="1.2"/>
<text x="49.400000000000006" y="525.46" font-size="7" text-anchor="end" font-weight="bold" fill="#0a0a0a">2</text>
<line x1="49.900000000000006" y1="504.92" x2="53.7" y2="504.92" stroke="#0a0a0a" stroke-width="1.2"/>
<text x="49.400000000000006" y="507.42" font-size="7" text-anchor="end" font-weight="bold" fill="#0a0a0a">4</text>
<line x1="49.900000000000006" y1="486.88" x2="53.7" y2="486.88" stroke="#0a0a0a" stroke-width="1.2"/>
<text x="49.400000000000006" y="489.38" font-size="7" text-anchor="end" font-weight="bold" fill="#0a0a0a">6</text>
<line x1="49.900000000000006" y1="468.84000000000003" x2="53.7" y2="468.84000000000003" stroke="#0a0a0a" stroke-width="1.2"/>
<text x="49.400000000000006" y="471.34000000000003" font-size="7" text-anchor="end" font-weight="bold" fill="#0a0a0a">8</text>
<line x1="49.900000000000006" y1="450.8" x2="53.7" y2="450.8" stroke="#0a0a0a" stroke-width="1.2"/>
<text x="49.400000000000006" y="453.3" font-size="7" text-anchor="end" font-weight="bold" fill="#0a0a0a">10</text>
<line x1="49.900000000000006" y1="432.76" x2="53.7" y2="432.76" stroke="#0a0a0a" stroke-width="1.2"/>
<text x="49.400000000000006" y="435.26" font-size="7" text-anchor="end" font-weight="bold" fill="#0a0a0a">12</text>
<line x1="71.1" y1="541" x2="71.1" y2="544.2" stroke="#0a0a0a" stroke-width="1.2"/>
<line x1="106.5" y1="541" x2="106.5" y2="544.2" stroke="#0a0a0a" stroke-width="1.2"/>
<line x1="141.3" y1="541" x2="141.3" y2="544.2" stroke="#0a0a0a" stroke-width="1.2"/>
<line x1="176.7" y1="541" x2="176.7" y2="544.2" stroke="#0a0a0a" stroke-width="1.2"/>
<line x1="211.6" y1="541" x2="211.6" y2="544.2" stroke="#0a0a0a" stroke-width="1.2"/>
<circle cx="65.6" cy="537.5" r="1.6" fill="#0a0a0a"/>
<circle cx="69.1" cy="536.9" r="1.6" fill="#0a0a0a"/>
<circle cx="72.5" cy="538.4" r="1.6" fill="#0a0a0a"/>
<circle cx="76" cy="537.5" r="1.6" fill="#0a0a0a"/>
<circle cx="80.4" cy="536.7" r="1.6" fill="#0a0a0a"/>
<line x1="59.5" y1="537.8" x2="83.6" y2="537.8" stroke="#0a0a0a" stroke-width="1.3"/>
<circle cx="106.5" cy="449.9" r="2.05" fill="#0a0a0a"/>
<circle cx="106.5" cy="462.9" r="2.05" fill="#0a0a0a"/>
<circle cx="106.5" cy="494.9" r="2.05" fill="#0a0a0a"/>
<circle cx="106.5" cy="511.7" r="2.05" fill="#0a0a0a"/>
<circle cx="106.5" cy="519.5" r="2.05" fill="#0a0a0a"/>
<circle cx="112.6" cy="519.5" r="2.05" fill="#0a0a0a"/>
<line x1="94.3" y1="493.1" x2="119" y2="493.1" stroke="#0a0a0a" stroke-width="1.3"/>
<circle cx="141.3" cy="440.9" r="2.05" fill="#0a0a0a"/>
<circle cx="135.5" cy="503.6" r="2.05" fill="#0a0a0a"/>
<circle cx="141.3" cy="504.7" r="2.05" fill="#0a0a0a"/>
<circle cx="141.3" cy="513.7" r="2.05" fill="#0a0a0a"/>
<circle cx="141.3" cy="522.7" r="2.05" fill="#0a0a0a"/>
<circle cx="141.3" cy="532.3" r="2.05" fill="#0a0a0a"/>
<line x1="129.7" y1="503" x2="153.5" y2="503" stroke="#0a0a0a" stroke-width="1.3"/>
<circle cx="176.7" cy="474.3" r="2.05" fill="#0a0a0a"/>
<circle cx="176.7" cy="499.8" r="2.05" fill="#0a0a0a"/>
<circle cx="170.4" cy="515.2" r="2.05" fill="#0a0a0a"/>
<circle cx="176.7" cy="515.8" r="2.05" fill="#0a0a0a"/>
<circle cx="182.5" cy="513.4" r="2.05" fill="#0a0a0a"/>
<circle cx="176.7" cy="527.4" r="2.05" fill="#0a0a0a"/>
<line x1="165.1" y1="507.6" x2="188.9" y2="507.6" stroke="#0a0a0a" stroke-width="1.3"/>
<circle cx="211.6" cy="505.6" r="2.05" fill="#0a0a0a"/>
<circle cx="218" cy="504.7" r="2.05" fill="#0a0a0a"/>
<circle cx="211.6" cy="517.2" r="2.05" fill="#0a0a0a"/>
<circle cx="205.8" cy="525" r="2.05" fill="#0a0a0a"/>
<circle cx="218" cy="525.9" r="2.05" fill="#0a0a0a"/>
<circle cx="211.6" cy="529.7" r="2.05" fill="#0a0a0a"/>
<line x1="200" y1="518.1" x2="223.8" y2="518.1" stroke="#0a0a0a" stroke-width="1.3"/>
<text x="31.3" y="557" font-size="8.1" text-anchor="start" textLength="26.6" lengthAdjust="spacing" class="th2" fill="#141414">[mg/kg]</text>
<line x1="69.89999999999999" y1="554" x2="72.3" y2="554" stroke="#0a0a0a" stroke-width="1.2"/>
<line x1="105.3" y1="554" x2="107.7" y2="554" stroke="#0a0a0a" stroke-width="1.2"/>
<text x="141.3" y="555.9" font-size="7.5" text-anchor="middle" font-weight="bold" fill="#0a0a0a">20</text>
<text x="176.7" y="555.9" font-size="7.5" text-anchor="middle" font-weight="bold" fill="#0a0a0a">15</text>
<text x="211.6" y="555.9" font-size="7.5" text-anchor="middle" font-weight="bold" fill="#0a0a0a">60</text>
<text x="89.5" y="568.6" font-size="7.9" text-anchor="middle" font-weight="bold" textLength="26.9" lengthAdjust="spacing" fill="#0a0a0a">vehicle</text>
<text x="141.5" y="568.6" font-size="7.9" text-anchor="middle" font-weight="bold" textLength="32.7" lengthAdjust="spacing" fill="#0a0a0a">sunitinib</text>
<text x="195.2" y="568.6" font-size="7.9" text-anchor="middle" font-weight="bold" textLength="35.6" lengthAdjust="spacing" fill="#0a0a0a">sorafenib</text>
<line x1="91.4" y1="579.8" x2="229" y2="579.8" stroke="#0a0a0a" stroke-width="1.3"/>
<g font-weight="bold" fill="#0a0a0a">
<text x="120.2" y="590.4" font-size="8.1" textLength="16.6" lengthAdjust="spacing">OVA</text>
<text x="137.3" y="591.9" font-size="5.6" textLength="22.7" lengthAdjust="spacing">257-264</text>
<text x="162.6" y="591.9" font-size="5.6" textLength="34.4" lengthAdjust="spacing">immunized</text>
</g>
<g transform="translate(31.2 541.7) rotate(-90)" font-weight="bold" fill="#0a0a0a">
<text x="0" y="0" font-size="7.3" textLength="11.6" lengthAdjust="spacingAndGlyphs">OVA</text>
<text x="11.9" y="2.0" font-size="5.4" textLength="19.5" lengthAdjust="spacing">257-264</text>
<text x="31.7" y="0" font-size="8.3" textLength="78.5" lengthAdjust="spacing">-specific T cells [%]</text>
</g>
<line x1="312.6" y1="427" x2="312.6" y2="579.4" stroke="#0a0a0a" stroke-width="1.7"/>
<line x1="311.8" y1="578.4" x2="484.5" y2="578.4" stroke="#0a0a0a" stroke-width="2.2"/>
<line x1="306.40000000000003" y1="578.4" x2="312.6" y2="578.4" stroke="#0a0a0a" stroke-width="1.5"/>
<text x="304.8" y="581.3" font-size="8.2" text-anchor="end" font-weight="bold" fill="#0a0a0a">0</text>
<line x1="306.40000000000003" y1="540.72" x2="312.6" y2="540.72" stroke="#0a0a0a" stroke-width="1.5"/>
<text x="304.8" y="543.62" font-size="8.2" text-anchor="end" font-weight="bold" fill="#0a0a0a">2</text>
<line x1="306.40000000000003" y1="503.03999999999996" x2="312.6" y2="503.03999999999996" stroke="#0a0a0a" stroke-width="1.5"/>
<text x="304.8" y="505.93999999999994" font-size="8.2" text-anchor="end" font-weight="bold" fill="#0a0a0a">4</text>
<line x1="306.40000000000003" y1="465.36" x2="312.6" y2="465.36" stroke="#0a0a0a" stroke-width="1.5"/>
<text x="304.8" y="468.26" font-size="8.2" text-anchor="end" font-weight="bold" fill="#0a0a0a">6</text>
<line x1="306.40000000000003" y1="427.67999999999995" x2="312.6" y2="427.67999999999995" stroke="#0a0a0a" stroke-width="1.5"/>
<text x="304.8" y="430.5799999999999" font-size="8.2" text-anchor="end" font-weight="bold" fill="#0a0a0a">8</text>
<rect x="318.4" y="477.9" width="29.900000000000034" height="100.5" fill="#0a0a0a"/>
<line x1="333.35" y1="477.9" x2="333.35" y2="470.4" stroke="#0a0a0a" stroke-width="1.5"/>
<line x1="325.95000000000005" y1="470.4" x2="340.75" y2="470.4" stroke="#0a0a0a" stroke-width="1.5"/>
<rect x="361.8" y="485.4" width="29.399999999999977" height="93.0" fill="#0a0a0a"/>
<line x1="376.5" y1="485.4" x2="376.5" y2="480.3" stroke="#0a0a0a" stroke-width="1.5"/>
<line x1="369.1" y1="480.3" x2="383.9" y2="480.3" stroke="#0a0a0a" stroke-width="1.5"/>
<rect x="405.5" y="468.4" width="28.80000000000001" height="110.0" fill="#0a0a0a"/>
<line x1="419.9" y1="468.4" x2="419.9" y2="460.9" stroke="#0a0a0a" stroke-width="1.5"/>
<line x1="412.29999999999995" y1="460.9" x2="427.5" y2="460.9" stroke="#0a0a0a" stroke-width="1.5"/>
<rect x="448.9" y="474.5" width="28.5" height="103.89999999999998" fill="#0a0a0a"/>
<line x1="463.15" y1="474.5" x2="463.15" y2="470.1" stroke="#0a0a0a" stroke-width="1.5"/>
<line x1="455.54999999999995" y1="470.1" x2="470.75" y2="470.1" stroke="#0a0a0a" stroke-width="1.5"/>
<line x1="333.3" y1="578.4" x2="333.3" y2="582.6" stroke="#0a0a0a" stroke-width="1.5"/>
<line x1="376.5" y1="578.4" x2="376.5" y2="582.6" stroke="#0a0a0a" stroke-width="1.5"/>
<line x1="419.9" y1="578.4" x2="419.9" y2="582.6" stroke="#0a0a0a" stroke-width="1.5"/>
<line x1="463.2" y1="578.4" x2="463.2" y2="582.6" stroke="#0a0a0a" stroke-width="1.5"/>
<text x="282" y="598.3" font-size="9.8" text-anchor="start" textLength="32.2" lengthAdjust="spacing" class="th2" fill="#141414">[mg/kg]</text>
<line x1="331.6" y1="594.2" x2="334.4" y2="594.2" stroke="#0a0a0a" stroke-width="1.3"/>
<text x="376.9" y="597.9" font-size="8.8" text-anchor="middle" font-weight="bold" textLength="10.1" lengthAdjust="spacing" fill="#0a0a0a">20</text>
<text x="419.8" y="597.9" font-size="8.8" text-anchor="middle" font-weight="bold" textLength="10.1" lengthAdjust="spacing" fill="#0a0a0a">15</text>
<text x="462.6" y="597.9" font-size="8.8" text-anchor="middle" font-weight="bold" textLength="10.1" lengthAdjust="spacing" fill="#0a0a0a">60</text>
<line x1="406.5" y1="603.3" x2="474.8" y2="603.3" stroke="#0a0a0a" stroke-width="1.5"/>
<text x="313.1" y="620.1" font-size="10.1" text-anchor="start" font-weight="bold" textLength="35.9" lengthAdjust="spacing" fill="#0a0a0a">vehicle</text>
<text x="354.8" y="620.1" font-size="10.1" text-anchor="start" font-weight="bold" textLength="41.7" lengthAdjust="spacing" fill="#0a0a0a">sunitinib</text>
<text x="418.5" y="620.1" font-size="10.1" text-anchor="start" font-weight="bold" textLength="29.4" lengthAdjust="spacing" fill="#0a0a0a">sorafe</text>
<text x="449.8" y="620.1" font-size="10.1" text-anchor="start" font-weight="bold" textLength="14.4" lengthAdjust="spacing" fill="#0a0a0a">nib</text>
<text x="295.3" y="500" font-size="10.2" text-anchor="middle" font-weight="bold" textLength="113.4" lengthAdjust="spacing" transform="rotate(-90 295.3 500)" fill="#0a0a0a">CD25<tspan font-size="6.2" dy="-3.8">+</tspan><tspan dy="3.8"> in CD4</tspan><tspan font-size="6.2" dy="-3.8">+</tspan><tspan dy="3.8"> cells [%]</tspan></text>
</svg>
</body></html>
